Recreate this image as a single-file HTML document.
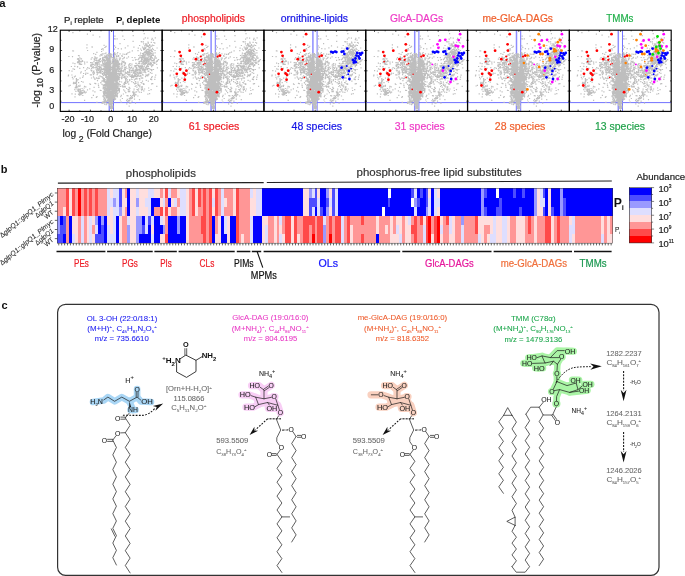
<!DOCTYPE html>
<html><head><meta charset="utf-8"><title>Figure</title>
<style>html,body{margin:0;padding:0;background:#fff}svg{display:block;will-change:transform}text{font-family:"Liberation Sans",sans-serif}</style></head><body>
<svg width="685" height="576" viewBox="0 0 685 576" font-family="Liberation Sans, sans-serif">
<rect width="685" height="576" fill="#fff"/>
<text x="-0.7" y="6.7" font-size="11.30" fill="#111" stroke="#111" stroke-width="0.00" font-weight="bold">a</text>
<text x="0.8" y="173.2" font-size="11.00" fill="#111" stroke="#111" stroke-width="0.00" font-weight="bold">b</text>
<text x="1.4" y="309.2" font-size="11.00" fill="#111" stroke="#111" stroke-width="0.00" font-weight="bold">c</text>
<defs>
<path id="gp" fill="#bebebe" d="M49.2 89.7h1.2v1.2h-1.2zM48.8 77.8h1.2v1.2h-1.2zM48.7 103.9h1.2v1.2h-1.2zM51.4 100.8h1.2v1.2h-1.2zM46.3 72.7h1.2v1.2h-1.2zM48.1 59.8h1.2v1.2h-1.2zM50.5 101.2h1.2v1.2h-1.2zM47.7 75.3h1.2v1.2h-1.2zM51.5 87.0h1.2v1.2h-1.2zM50.6 96.3h1.2v1.2h-1.2zM46.2 83.9h1.2v1.2h-1.2zM47.8 91.0h1.2v1.2h-1.2zM45.4 68.7h1.2v1.2h-1.2zM47.7 58.9h1.2v1.2h-1.2zM53.0 84.4h1.2v1.2h-1.2zM54.3 65.1h1.2v1.2h-1.2zM45.3 58.9h1.2v1.2h-1.2zM47.1 82.3h1.2v1.2h-1.2zM48.3 70.7h1.2v1.2h-1.2zM44.5 91.9h1.2v1.2h-1.2zM47.6 70.4h1.2v1.2h-1.2zM50.4 101.2h1.2v1.2h-1.2zM54.4 77.1h1.2v1.2h-1.2zM46.6 62.0h1.2v1.2h-1.2zM45.7 94.8h1.2v1.2h-1.2zM50.7 93.1h1.2v1.2h-1.2zM45.8 69.2h1.2v1.2h-1.2zM58.9 73.3h1.2v1.2h-1.2zM53.3 64.2h1.2v1.2h-1.2zM48.5 63.2h1.2v1.2h-1.2zM51.4 72.3h1.2v1.2h-1.2zM50.6 104.0h1.2v1.2h-1.2zM50.8 104.8h1.2v1.2h-1.2zM49.9 99.3h1.2v1.2h-1.2zM56.0 88.4h1.2v1.2h-1.2zM55.9 80.7h1.2v1.2h-1.2zM50.0 102.0h1.2v1.2h-1.2zM54.2 98.7h1.2v1.2h-1.2zM49.9 53.1h1.2v1.2h-1.2zM54.2 78.0h1.2v1.2h-1.2zM54.7 89.3h1.2v1.2h-1.2zM46.1 66.4h1.2v1.2h-1.2zM50.1 106.1h1.2v1.2h-1.2zM46.5 92.1h1.2v1.2h-1.2zM52.2 96.3h1.2v1.2h-1.2zM45.6 57.5h1.2v1.2h-1.2zM43.6 56.9h1.2v1.2h-1.2zM51.1 81.1h1.2v1.2h-1.2zM46.3 63.0h1.2v1.2h-1.2zM56.5 85.6h1.2v1.2h-1.2zM49.0 98.3h1.2v1.2h-1.2zM55.9 62.7h1.2v1.2h-1.2zM51.2 71.5h1.2v1.2h-1.2zM53.7 75.0h1.2v1.2h-1.2zM53.5 84.4h1.2v1.2h-1.2zM48.1 82.2h1.2v1.2h-1.2zM44.7 57.2h1.2v1.2h-1.2zM50.1 78.5h1.2v1.2h-1.2zM57.7 83.2h1.2v1.2h-1.2zM50.3 98.1h1.2v1.2h-1.2zM47.8 67.2h1.2v1.2h-1.2zM54.8 76.7h1.2v1.2h-1.2zM50.8 93.9h1.2v1.2h-1.2zM45.1 76.4h1.2v1.2h-1.2zM43.6 73.5h1.2v1.2h-1.2zM49.7 82.5h1.2v1.2h-1.2zM47.5 81.1h1.2v1.2h-1.2zM41.9 76.5h1.2v1.2h-1.2zM48.6 60.8h1.2v1.2h-1.2zM50.7 94.3h1.2v1.2h-1.2zM52.2 70.4h1.2v1.2h-1.2zM48.7 67.8h1.2v1.2h-1.2zM51.4 80.5h1.2v1.2h-1.2zM48.0 83.7h1.2v1.2h-1.2zM47.4 88.8h1.2v1.2h-1.2zM56.3 83.2h1.2v1.2h-1.2zM48.7 89.2h1.2v1.2h-1.2zM50.1 92.9h1.2v1.2h-1.2zM53.3 64.2h1.2v1.2h-1.2zM53.6 56.8h1.2v1.2h-1.2zM51.4 75.9h1.2v1.2h-1.2zM57.8 55.3h1.2v1.2h-1.2zM54.3 82.4h1.2v1.2h-1.2zM49.9 76.9h1.2v1.2h-1.2zM52.4 78.3h1.2v1.2h-1.2zM51.0 101.6h1.2v1.2h-1.2zM51.0 90.3h1.2v1.2h-1.2zM47.4 65.3h1.2v1.2h-1.2zM50.2 88.4h1.2v1.2h-1.2zM49.7 93.8h1.2v1.2h-1.2zM46.8 97.2h1.2v1.2h-1.2zM52.4 62.0h1.2v1.2h-1.2zM46.5 79.5h1.2v1.2h-1.2zM46.8 61.3h1.2v1.2h-1.2zM50.6 104.7h1.2v1.2h-1.2zM56.5 93.5h1.2v1.2h-1.2zM54.5 59.1h1.2v1.2h-1.2zM48.2 94.2h1.2v1.2h-1.2zM50.8 82.9h1.2v1.2h-1.2zM47.4 86.4h1.2v1.2h-1.2zM50.1 79.6h1.2v1.2h-1.2zM49.2 93.0h1.2v1.2h-1.2zM50.3 106.5h1.2v1.2h-1.2zM44.6 94.8h1.2v1.2h-1.2zM48.9 71.0h1.2v1.2h-1.2zM52.7 58.7h1.2v1.2h-1.2zM49.9 67.3h1.2v1.2h-1.2zM48.0 79.6h1.2v1.2h-1.2zM42.1 62.8h1.2v1.2h-1.2zM45.6 69.6h1.2v1.2h-1.2zM52.3 94.9h1.2v1.2h-1.2zM53.2 76.6h1.2v1.2h-1.2zM49.8 72.8h1.2v1.2h-1.2zM56.5 77.9h1.2v1.2h-1.2zM52.6 93.7h1.2v1.2h-1.2zM52.0 92.9h1.2v1.2h-1.2zM56.8 86.4h1.2v1.2h-1.2zM45.6 69.6h1.2v1.2h-1.2zM49.3 103.4h1.2v1.2h-1.2zM48.5 93.6h1.2v1.2h-1.2zM51.1 107.1h1.2v1.2h-1.2zM48.0 92.7h1.2v1.2h-1.2zM44.4 91.5h1.2v1.2h-1.2zM56.7 81.8h1.2v1.2h-1.2zM56.2 82.1h1.2v1.2h-1.2zM52.8 92.7h1.2v1.2h-1.2zM49.2 75.3h1.2v1.2h-1.2zM55.5 78.5h1.2v1.2h-1.2zM56.0 79.3h1.2v1.2h-1.2zM54.2 68.5h1.2v1.2h-1.2zM49.6 106.4h1.2v1.2h-1.2zM49.4 80.3h1.2v1.2h-1.2zM52.3 88.5h1.2v1.2h-1.2zM57.4 65.8h1.2v1.2h-1.2zM57.0 67.9h1.2v1.2h-1.2zM52.0 83.8h1.2v1.2h-1.2zM51.6 92.9h1.2v1.2h-1.2zM54.2 54.3h1.2v1.2h-1.2zM55.2 72.5h1.2v1.2h-1.2zM48.2 67.6h1.2v1.2h-1.2zM44.2 88.6h1.2v1.2h-1.2zM49.8 66.5h1.2v1.2h-1.2zM56.2 91.0h1.2v1.2h-1.2zM51.7 85.7h1.2v1.2h-1.2zM52.7 57.2h1.2v1.2h-1.2zM52.3 88.7h1.2v1.2h-1.2zM43.5 94.4h1.2v1.2h-1.2zM46.3 65.9h1.2v1.2h-1.2zM47.4 84.6h1.2v1.2h-1.2zM50.7 104.3h1.2v1.2h-1.2zM52.1 79.6h1.2v1.2h-1.2zM48.0 92.6h1.2v1.2h-1.2zM58.0 85.4h1.2v1.2h-1.2zM47.7 57.7h1.2v1.2h-1.2zM51.5 107.7h1.2v1.2h-1.2zM46.5 60.0h1.2v1.2h-1.2zM48.3 101.7h1.2v1.2h-1.2zM49.2 55.2h1.2v1.2h-1.2zM49.0 65.0h1.2v1.2h-1.2zM49.8 64.1h1.2v1.2h-1.2zM52.6 68.7h1.2v1.2h-1.2zM51.1 75.2h1.2v1.2h-1.2zM51.2 107.2h1.2v1.2h-1.2zM44.8 82.0h1.2v1.2h-1.2zM43.3 81.2h1.2v1.2h-1.2zM55.2 68.4h1.2v1.2h-1.2zM51.3 84.3h1.2v1.2h-1.2zM53.4 66.5h1.2v1.2h-1.2zM50.4 94.9h1.2v1.2h-1.2zM48.0 97.3h1.2v1.2h-1.2zM52.4 84.5h1.2v1.2h-1.2zM49.4 85.8h1.2v1.2h-1.2zM48.7 104.9h1.2v1.2h-1.2zM56.1 58.4h1.2v1.2h-1.2zM48.0 66.1h1.2v1.2h-1.2zM46.7 86.9h1.2v1.2h-1.2zM49.8 98.3h1.2v1.2h-1.2zM54.0 87.8h1.2v1.2h-1.2zM46.0 61.8h1.2v1.2h-1.2zM50.8 87.4h1.2v1.2h-1.2zM47.8 92.5h1.2v1.2h-1.2zM47.9 67.7h1.2v1.2h-1.2zM50.5 92.4h1.2v1.2h-1.2zM51.6 93.7h1.2v1.2h-1.2zM53.3 80.2h1.2v1.2h-1.2zM57.3 66.5h1.2v1.2h-1.2zM48.4 64.6h1.2v1.2h-1.2zM53.4 87.5h1.2v1.2h-1.2zM50.2 103.3h1.2v1.2h-1.2zM49.5 104.1h1.2v1.2h-1.2zM58.9 76.9h1.2v1.2h-1.2zM49.9 103.1h1.2v1.2h-1.2zM47.2 79.9h1.2v1.2h-1.2zM51.2 84.5h1.2v1.2h-1.2zM53.8 70.1h1.2v1.2h-1.2zM45.2 91.3h1.2v1.2h-1.2zM51.2 86.9h1.2v1.2h-1.2zM52.8 94.1h1.2v1.2h-1.2zM58.2 79.4h1.2v1.2h-1.2zM52.2 62.6h1.2v1.2h-1.2zM50.1 81.2h1.2v1.2h-1.2zM49.6 60.8h1.2v1.2h-1.2zM52.2 75.2h1.2v1.2h-1.2zM47.1 87.0h1.2v1.2h-1.2zM51.0 74.5h1.2v1.2h-1.2zM51.9 99.9h1.2v1.2h-1.2zM48.7 93.5h1.2v1.2h-1.2zM49.7 107.1h1.2v1.2h-1.2zM49.1 69.9h1.2v1.2h-1.2zM52.9 63.3h1.2v1.2h-1.2zM49.3 104.2h1.2v1.2h-1.2zM53.5 72.1h1.2v1.2h-1.2zM46.5 84.9h1.2v1.2h-1.2zM50.5 84.1h1.2v1.2h-1.2zM47.7 85.1h1.2v1.2h-1.2zM50.8 72.0h1.2v1.2h-1.2zM52.2 87.0h1.2v1.2h-1.2zM52.9 78.6h1.2v1.2h-1.2zM50.9 62.8h1.2v1.2h-1.2zM52.2 86.1h1.2v1.2h-1.2zM54.2 73.1h1.2v1.2h-1.2zM54.9 95.4h1.2v1.2h-1.2zM54.3 86.3h1.2v1.2h-1.2zM51.0 94.0h1.2v1.2h-1.2zM49.4 76.3h1.2v1.2h-1.2zM48.6 77.0h1.2v1.2h-1.2zM54.4 75.2h1.2v1.2h-1.2zM49.3 71.0h1.2v1.2h-1.2zM50.5 73.2h1.2v1.2h-1.2zM50.9 94.6h1.2v1.2h-1.2zM47.5 97.7h1.2v1.2h-1.2zM49.7 101.8h1.2v1.2h-1.2zM50.9 83.1h1.2v1.2h-1.2zM55.1 64.3h1.2v1.2h-1.2zM51.8 86.6h1.2v1.2h-1.2zM55.3 62.2h1.2v1.2h-1.2zM49.6 54.3h1.2v1.2h-1.2zM53.9 63.7h1.2v1.2h-1.2zM51.8 65.5h1.2v1.2h-1.2zM50.1 96.1h1.2v1.2h-1.2zM52.8 79.5h1.2v1.2h-1.2zM44.0 63.9h1.2v1.2h-1.2zM49.0 87.7h1.2v1.2h-1.2zM51.7 76.7h1.2v1.2h-1.2zM48.8 85.7h1.2v1.2h-1.2zM50.6 75.5h1.2v1.2h-1.2zM46.1 93.6h1.2v1.2h-1.2zM51.3 70.7h1.2v1.2h-1.2zM50.2 83.6h1.2v1.2h-1.2zM50.4 95.1h1.2v1.2h-1.2zM50.2 87.9h1.2v1.2h-1.2zM45.4 87.8h1.2v1.2h-1.2zM48.2 96.3h1.2v1.2h-1.2zM53.1 81.2h1.2v1.2h-1.2zM49.6 99.4h1.2v1.2h-1.2zM51.0 72.1h1.2v1.2h-1.2zM46.2 93.0h1.2v1.2h-1.2zM46.5 71.7h1.2v1.2h-1.2zM55.1 83.0h1.2v1.2h-1.2zM49.5 85.1h1.2v1.2h-1.2zM46.1 96.6h1.2v1.2h-1.2zM49.9 62.3h1.2v1.2h-1.2zM58.5 90.5h1.2v1.2h-1.2zM52.9 64.0h1.2v1.2h-1.2zM49.9 66.1h1.2v1.2h-1.2zM46.6 95.1h1.2v1.2h-1.2zM47.3 94.8h1.2v1.2h-1.2zM56.4 68.9h1.2v1.2h-1.2zM45.8 68.0h1.2v1.2h-1.2zM48.6 63.7h1.2v1.2h-1.2zM52.9 92.9h1.2v1.2h-1.2zM49.6 93.2h1.2v1.2h-1.2zM46.5 89.4h1.2v1.2h-1.2zM43.9 57.1h1.2v1.2h-1.2zM43.7 68.8h1.2v1.2h-1.2zM52.8 75.9h1.2v1.2h-1.2zM56.1 95.9h1.2v1.2h-1.2zM52.1 99.7h1.2v1.2h-1.2zM51.4 88.5h1.2v1.2h-1.2zM46.7 66.6h1.2v1.2h-1.2zM47.9 62.1h1.2v1.2h-1.2zM52.5 59.3h1.2v1.2h-1.2zM50.7 101.5h1.2v1.2h-1.2zM53.0 60.4h1.2v1.2h-1.2zM45.0 91.7h1.2v1.2h-1.2zM49.6 96.3h1.2v1.2h-1.2zM50.5 93.4h1.2v1.2h-1.2zM45.3 67.8h1.2v1.2h-1.2zM46.2 73.2h1.2v1.2h-1.2zM52.6 64.6h1.2v1.2h-1.2zM52.0 68.4h1.2v1.2h-1.2zM54.7 98.2h1.2v1.2h-1.2zM51.0 80.3h1.2v1.2h-1.2zM47.6 80.1h1.2v1.2h-1.2zM49.5 61.3h1.2v1.2h-1.2zM53.1 68.7h1.2v1.2h-1.2zM47.3 68.8h1.2v1.2h-1.2zM47.3 85.3h1.2v1.2h-1.2zM53.0 96.2h1.2v1.2h-1.2zM47.3 86.6h1.2v1.2h-1.2zM44.6 94.7h1.2v1.2h-1.2zM48.7 65.7h1.2v1.2h-1.2zM54.7 88.3h1.2v1.2h-1.2zM57.1 70.8h1.2v1.2h-1.2zM50.6 98.3h1.2v1.2h-1.2zM46.7 97.1h1.2v1.2h-1.2zM51.6 68.5h1.2v1.2h-1.2zM51.9 93.9h1.2v1.2h-1.2zM48.9 78.6h1.2v1.2h-1.2zM50.8 102.1h1.2v1.2h-1.2zM52.2 66.8h1.2v1.2h-1.2zM51.8 101.8h1.2v1.2h-1.2zM44.2 86.1h1.2v1.2h-1.2zM54.7 69.0h1.2v1.2h-1.2zM53.9 72.4h1.2v1.2h-1.2zM54.6 85.1h1.2v1.2h-1.2zM47.5 75.7h1.2v1.2h-1.2zM51.7 67.4h1.2v1.2h-1.2zM54.1 64.5h1.2v1.2h-1.2zM45.0 71.9h1.2v1.2h-1.2zM53.7 90.3h1.2v1.2h-1.2zM52.8 64.1h1.2v1.2h-1.2zM46.0 72.6h1.2v1.2h-1.2zM52.4 73.0h1.2v1.2h-1.2zM52.7 70.0h1.2v1.2h-1.2zM56.0 64.3h1.2v1.2h-1.2zM55.3 80.4h1.2v1.2h-1.2zM51.4 77.5h1.2v1.2h-1.2zM52.6 79.1h1.2v1.2h-1.2zM45.7 84.8h1.2v1.2h-1.2zM46.2 96.0h1.2v1.2h-1.2zM54.6 87.9h1.2v1.2h-1.2zM54.4 92.4h1.2v1.2h-1.2zM50.5 84.3h1.2v1.2h-1.2zM51.3 88.1h1.2v1.2h-1.2zM57.0 85.9h1.2v1.2h-1.2zM44.6 62.5h1.2v1.2h-1.2zM51.2 88.0h1.2v1.2h-1.2zM48.6 62.0h1.2v1.2h-1.2zM55.2 87.9h1.2v1.2h-1.2zM50.1 92.8h1.2v1.2h-1.2zM52.9 97.4h1.2v1.2h-1.2zM53.7 83.8h1.2v1.2h-1.2zM57.8 70.9h1.2v1.2h-1.2zM46.4 57.2h1.2v1.2h-1.2zM50.4 99.8h1.2v1.2h-1.2zM46.2 63.5h1.2v1.2h-1.2zM45.6 58.0h1.2v1.2h-1.2zM42.1 63.7h1.2v1.2h-1.2zM42.0 78.1h1.2v1.2h-1.2zM53.5 76.8h1.2v1.2h-1.2zM49.0 94.7h1.2v1.2h-1.2zM50.2 81.7h1.2v1.2h-1.2zM42.0 80.3h1.2v1.2h-1.2zM48.1 81.6h1.2v1.2h-1.2zM47.0 70.6h1.2v1.2h-1.2zM53.3 72.2h1.2v1.2h-1.2zM44.2 69.6h1.2v1.2h-1.2zM45.6 67.6h1.2v1.2h-1.2zM57.2 87.3h1.2v1.2h-1.2zM51.3 78.4h1.2v1.2h-1.2zM54.5 84.2h1.2v1.2h-1.2zM45.9 61.6h1.2v1.2h-1.2zM52.9 92.6h1.2v1.2h-1.2zM48.7 63.5h1.2v1.2h-1.2zM53.5 75.0h1.2v1.2h-1.2zM48.6 64.0h1.2v1.2h-1.2zM53.6 91.0h1.2v1.2h-1.2zM45.5 63.7h1.2v1.2h-1.2zM46.3 72.7h1.2v1.2h-1.2zM51.7 74.4h1.2v1.2h-1.2zM56.2 82.2h1.2v1.2h-1.2zM52.0 102.1h1.2v1.2h-1.2zM53.7 90.0h1.2v1.2h-1.2zM55.4 71.9h1.2v1.2h-1.2zM50.5 105.6h1.2v1.2h-1.2zM54.3 62.5h1.2v1.2h-1.2zM49.7 107.0h1.2v1.2h-1.2zM55.0 74.7h1.2v1.2h-1.2zM49.6 84.7h1.2v1.2h-1.2zM50.6 71.8h1.2v1.2h-1.2zM50.4 100.6h1.2v1.2h-1.2zM49.9 67.6h1.2v1.2h-1.2zM47.4 67.9h1.2v1.2h-1.2zM45.4 67.0h1.2v1.2h-1.2zM45.4 82.0h1.2v1.2h-1.2zM56.5 67.7h1.2v1.2h-1.2zM53.4 67.0h1.2v1.2h-1.2zM49.4 104.4h1.2v1.2h-1.2zM49.1 75.6h1.2v1.2h-1.2zM48.0 63.2h1.2v1.2h-1.2zM46.5 71.7h1.2v1.2h-1.2zM52.3 63.8h1.2v1.2h-1.2zM49.8 63.9h1.2v1.2h-1.2zM51.7 61.5h1.2v1.2h-1.2zM41.9 61.3h1.2v1.2h-1.2zM54.0 86.7h1.2v1.2h-1.2zM51.4 74.1h1.2v1.2h-1.2zM49.6 107.7h1.2v1.2h-1.2zM53.7 84.2h1.2v1.2h-1.2zM41.8 62.4h1.2v1.2h-1.2zM54.8 75.8h1.2v1.2h-1.2zM43.8 69.5h1.2v1.2h-1.2zM43.2 88.4h1.2v1.2h-1.2zM47.6 73.9h1.2v1.2h-1.2zM50.0 81.8h1.2v1.2h-1.2zM57.5 63.5h1.2v1.2h-1.2zM42.0 64.6h1.2v1.2h-1.2zM45.6 58.3h1.2v1.2h-1.2zM51.1 74.8h1.2v1.2h-1.2zM52.7 68.6h1.2v1.2h-1.2zM47.8 76.2h1.2v1.2h-1.2zM49.9 86.9h1.2v1.2h-1.2zM53.4 72.4h1.2v1.2h-1.2zM54.8 88.5h1.2v1.2h-1.2zM51.8 106.6h1.2v1.2h-1.2zM49.7 80.6h1.2v1.2h-1.2zM54.9 64.9h1.2v1.2h-1.2zM50.3 105.6h1.2v1.2h-1.2zM51.8 59.1h1.2v1.2h-1.2zM53.3 85.6h1.2v1.2h-1.2zM49.3 76.2h1.2v1.2h-1.2zM56.0 85.8h1.2v1.2h-1.2zM52.0 105.6h1.2v1.2h-1.2zM56.7 88.1h1.2v1.2h-1.2zM45.5 68.1h1.2v1.2h-1.2zM43.9 55.3h1.2v1.2h-1.2zM49.1 101.9h1.2v1.2h-1.2zM47.9 93.4h1.2v1.2h-1.2zM50.4 94.4h1.2v1.2h-1.2zM49.6 69.9h1.2v1.2h-1.2zM47.3 59.3h1.2v1.2h-1.2zM57.5 82.8h1.2v1.2h-1.2zM46.6 72.7h1.2v1.2h-1.2zM44.4 88.8h1.2v1.2h-1.2zM50.5 99.8h1.2v1.2h-1.2zM52.5 76.8h1.2v1.2h-1.2zM47.8 84.8h1.2v1.2h-1.2zM48.9 92.6h1.2v1.2h-1.2zM52.4 80.3h1.2v1.2h-1.2zM46.6 57.8h1.2v1.2h-1.2zM50.6 93.4h1.2v1.2h-1.2zM50.1 102.3h1.2v1.2h-1.2zM50.1 88.7h1.2v1.2h-1.2zM52.9 95.6h1.2v1.2h-1.2zM50.5 100.0h1.2v1.2h-1.2zM45.8 96.8h1.2v1.2h-1.2zM51.8 80.1h1.2v1.2h-1.2zM55.9 68.2h1.2v1.2h-1.2zM56.5 75.2h1.2v1.2h-1.2zM52.9 85.0h1.2v1.2h-1.2zM53.4 89.0h1.2v1.2h-1.2zM46.5 81.1h1.2v1.2h-1.2zM52.0 92.9h1.2v1.2h-1.2zM48.3 98.6h1.2v1.2h-1.2zM45.5 74.5h1.2v1.2h-1.2zM49.6 79.0h1.2v1.2h-1.2zM52.7 67.8h1.2v1.2h-1.2zM47.3 68.0h1.2v1.2h-1.2zM57.7 65.8h1.2v1.2h-1.2zM42.6 80.1h1.2v1.2h-1.2zM51.3 95.3h1.2v1.2h-1.2zM50.3 102.0h1.2v1.2h-1.2zM49.6 96.9h1.2v1.2h-1.2zM43.6 74.3h1.2v1.2h-1.2zM49.2 67.7h1.2v1.2h-1.2zM53.3 79.8h1.2v1.2h-1.2zM53.2 75.8h1.2v1.2h-1.2zM46.0 84.3h1.2v1.2h-1.2zM49.5 55.2h1.2v1.2h-1.2zM55.0 62.8h1.2v1.2h-1.2zM55.2 62.2h1.2v1.2h-1.2zM48.6 72.4h1.2v1.2h-1.2zM49.9 83.6h1.2v1.2h-1.2zM51.5 106.6h1.2v1.2h-1.2zM48.7 55.4h1.2v1.2h-1.2zM48.0 58.4h1.2v1.2h-1.2zM47.5 69.9h1.2v1.2h-1.2zM47.8 77.5h1.2v1.2h-1.2zM47.9 78.7h1.2v1.2h-1.2zM54.2 90.7h1.2v1.2h-1.2zM53.9 92.8h1.2v1.2h-1.2zM51.8 77.9h1.2v1.2h-1.2zM51.7 91.4h1.2v1.2h-1.2zM54.6 91.7h1.2v1.2h-1.2zM53.1 60.9h1.2v1.2h-1.2zM49.0 71.4h1.2v1.2h-1.2zM45.6 77.1h1.2v1.2h-1.2zM50.3 81.6h1.2v1.2h-1.2zM53.2 79.1h1.2v1.2h-1.2zM45.0 75.0h1.2v1.2h-1.2zM55.7 94.4h1.2v1.2h-1.2zM53.7 80.3h1.2v1.2h-1.2zM49.9 64.6h1.2v1.2h-1.2zM46.7 83.2h1.2v1.2h-1.2zM53.2 66.7h1.2v1.2h-1.2zM48.1 66.5h1.2v1.2h-1.2zM53.6 70.0h1.2v1.2h-1.2zM49.7 60.3h1.2v1.2h-1.2zM43.0 65.3h1.2v1.2h-1.2zM52.1 63.9h1.2v1.2h-1.2zM49.0 65.0h1.2v1.2h-1.2zM46.2 79.9h1.2v1.2h-1.2zM48.2 64.0h1.2v1.2h-1.2zM45.6 73.8h1.2v1.2h-1.2zM51.6 67.4h1.2v1.2h-1.2zM47.4 85.9h1.2v1.2h-1.2zM52.7 63.8h1.2v1.2h-1.2zM51.6 79.9h1.2v1.2h-1.2zM53.5 75.3h1.2v1.2h-1.2zM51.5 60.6h1.2v1.2h-1.2zM51.0 107.2h1.2v1.2h-1.2zM56.6 76.2h1.2v1.2h-1.2zM46.6 77.7h1.2v1.2h-1.2zM48.5 78.9h1.2v1.2h-1.2zM46.4 87.8h1.2v1.2h-1.2zM47.9 88.1h1.2v1.2h-1.2zM49.0 102.2h1.2v1.2h-1.2zM42.5 85.4h1.2v1.2h-1.2zM46.3 83.2h1.2v1.2h-1.2zM51.9 78.1h1.2v1.2h-1.2zM53.6 53.1h1.2v1.2h-1.2zM49.6 84.2h1.2v1.2h-1.2zM47.5 91.6h1.2v1.2h-1.2zM50.1 74.1h1.2v1.2h-1.2zM49.8 60.7h1.2v1.2h-1.2zM48.1 96.8h1.2v1.2h-1.2zM49.1 71.6h1.2v1.2h-1.2zM54.1 84.8h1.2v1.2h-1.2zM51.8 101.8h1.2v1.2h-1.2zM51.6 98.2h1.2v1.2h-1.2zM44.7 62.7h1.2v1.2h-1.2zM48.6 89.7h1.2v1.2h-1.2zM52.1 92.9h1.2v1.2h-1.2zM46.0 57.3h1.2v1.2h-1.2zM51.5 75.2h1.2v1.2h-1.2zM50.2 83.2h1.2v1.2h-1.2zM43.7 80.1h1.2v1.2h-1.2zM49.7 94.2h1.2v1.2h-1.2zM47.3 90.5h1.2v1.2h-1.2zM50.3 80.7h1.2v1.2h-1.2zM52.7 87.7h1.2v1.2h-1.2zM46.0 76.4h1.2v1.2h-1.2zM49.3 85.2h1.2v1.2h-1.2zM51.4 88.1h1.2v1.2h-1.2zM52.8 94.5h1.2v1.2h-1.2zM53.9 70.7h1.2v1.2h-1.2zM51.4 102.6h1.2v1.2h-1.2zM54.3 61.1h1.2v1.2h-1.2zM46.9 98.9h1.2v1.2h-1.2zM53.0 67.4h1.2v1.2h-1.2zM49.6 95.1h1.2v1.2h-1.2zM47.0 93.2h1.2v1.2h-1.2zM48.3 94.0h1.2v1.2h-1.2zM50.7 77.4h1.2v1.2h-1.2zM46.0 71.0h1.2v1.2h-1.2zM52.4 90.4h1.2v1.2h-1.2zM46.6 76.4h1.2v1.2h-1.2zM50.2 104.1h1.2v1.2h-1.2zM49.6 95.1h1.2v1.2h-1.2zM46.8 85.2h1.2v1.2h-1.2zM48.4 70.7h1.2v1.2h-1.2zM49.2 84.7h1.2v1.2h-1.2zM47.0 60.5h1.2v1.2h-1.2zM53.6 97.6h1.2v1.2h-1.2zM46.5 68.0h1.2v1.2h-1.2zM50.4 105.5h1.2v1.2h-1.2zM53.5 86.5h1.2v1.2h-1.2zM53.6 90.4h1.2v1.2h-1.2zM57.6 75.9h1.2v1.2h-1.2zM48.8 93.5h1.2v1.2h-1.2zM46.5 64.4h1.2v1.2h-1.2zM50.2 73.8h1.2v1.2h-1.2zM52.3 63.5h1.2v1.2h-1.2zM48.7 56.7h1.2v1.2h-1.2zM46.1 66.0h1.2v1.2h-1.2zM54.3 92.0h1.2v1.2h-1.2zM48.6 55.8h1.2v1.2h-1.2zM56.6 61.4h1.2v1.2h-1.2zM52.3 83.8h1.2v1.2h-1.2zM47.9 65.2h1.2v1.2h-1.2zM43.4 93.2h1.2v1.2h-1.2zM53.9 77.4h1.2v1.2h-1.2zM51.6 84.8h1.2v1.2h-1.2zM48.5 90.4h1.2v1.2h-1.2zM45.2 94.5h1.2v1.2h-1.2zM53.8 79.0h1.2v1.2h-1.2zM48.7 91.0h1.2v1.2h-1.2zM43.5 89.1h1.2v1.2h-1.2zM48.0 74.3h1.2v1.2h-1.2zM52.9 65.0h1.2v1.2h-1.2zM52.4 87.6h1.2v1.2h-1.2zM50.6 104.4h1.2v1.2h-1.2zM56.4 82.7h1.2v1.2h-1.2zM48.5 89.6h1.2v1.2h-1.2zM50.6 103.7h1.2v1.2h-1.2zM49.6 83.5h1.2v1.2h-1.2zM50.0 56.4h1.2v1.2h-1.2zM52.6 64.5h1.2v1.2h-1.2zM45.0 91.2h1.2v1.2h-1.2zM43.7 63.9h1.2v1.2h-1.2zM53.4 66.3h1.2v1.2h-1.2zM57.3 89.9h1.2v1.2h-1.2zM51.7 77.0h1.2v1.2h-1.2zM47.4 72.7h1.2v1.2h-1.2zM54.9 68.3h1.2v1.2h-1.2zM48.5 79.9h1.2v1.2h-1.2zM55.7 91.0h1.2v1.2h-1.2zM51.8 98.6h1.2v1.2h-1.2zM48.8 60.0h1.2v1.2h-1.2zM56.3 79.0h1.2v1.2h-1.2zM46.3 88.8h1.2v1.2h-1.2zM43.5 91.2h1.2v1.2h-1.2zM50.8 76.3h1.2v1.2h-1.2zM51.8 89.7h1.2v1.2h-1.2zM48.4 73.1h1.2v1.2h-1.2zM45.7 80.9h1.2v1.2h-1.2zM50.9 91.0h1.2v1.2h-1.2zM49.5 82.8h1.2v1.2h-1.2zM46.3 70.9h1.2v1.2h-1.2zM48.0 78.2h1.2v1.2h-1.2zM53.9 85.6h1.2v1.2h-1.2zM58.3 77.1h1.2v1.2h-1.2zM46.9 59.6h1.2v1.2h-1.2zM49.6 80.4h1.2v1.2h-1.2zM53.2 95.1h1.2v1.2h-1.2zM53.5 74.9h1.2v1.2h-1.2zM42.4 85.0h1.2v1.2h-1.2zM53.3 77.0h1.2v1.2h-1.2zM57.1 65.5h1.2v1.2h-1.2zM49.8 85.9h1.2v1.2h-1.2zM48.8 87.0h1.2v1.2h-1.2zM48.1 74.6h1.2v1.2h-1.2zM56.4 84.0h1.2v1.2h-1.2zM46.4 66.1h1.2v1.2h-1.2zM48.2 66.6h1.2v1.2h-1.2zM48.6 67.4h1.2v1.2h-1.2zM49.0 77.1h1.2v1.2h-1.2zM51.8 70.0h1.2v1.2h-1.2zM54.7 60.9h1.2v1.2h-1.2zM50.3 106.6h1.2v1.2h-1.2zM47.6 76.8h1.2v1.2h-1.2zM55.6 69.4h1.2v1.2h-1.2zM57.0 77.7h1.2v1.2h-1.2zM54.2 62.6h1.2v1.2h-1.2zM47.6 62.0h1.2v1.2h-1.2zM50.6 103.5h1.2v1.2h-1.2zM59.0 74.8h1.2v1.2h-1.2zM47.2 98.3h1.2v1.2h-1.2zM51.3 86.1h1.2v1.2h-1.2zM50.8 105.2h1.2v1.2h-1.2zM49.4 70.3h1.2v1.2h-1.2zM54.7 93.1h1.2v1.2h-1.2zM51.3 78.3h1.2v1.2h-1.2zM50.1 76.4h1.2v1.2h-1.2zM47.4 59.0h1.2v1.2h-1.2zM47.2 92.0h1.2v1.2h-1.2zM47.7 59.0h1.2v1.2h-1.2zM57.2 66.4h1.2v1.2h-1.2zM46.0 72.3h1.2v1.2h-1.2zM49.9 104.4h1.2v1.2h-1.2zM46.2 89.7h1.2v1.2h-1.2zM50.6 94.2h1.2v1.2h-1.2zM58.6 88.2h1.2v1.2h-1.2zM50.6 82.4h1.2v1.2h-1.2zM50.9 76.0h1.2v1.2h-1.2zM51.5 90.9h1.2v1.2h-1.2zM53.8 67.2h1.2v1.2h-1.2zM48.6 56.3h1.2v1.2h-1.2zM52.5 97.8h1.2v1.2h-1.2zM49.8 64.5h1.2v1.2h-1.2zM49.6 80.7h1.2v1.2h-1.2zM50.8 106.5h1.2v1.2h-1.2zM51.0 92.8h1.2v1.2h-1.2zM53.0 96.6h1.2v1.2h-1.2zM49.0 59.5h1.2v1.2h-1.2zM48.9 62.5h1.2v1.2h-1.2zM51.4 97.2h1.2v1.2h-1.2zM53.9 71.5h1.2v1.2h-1.2zM54.4 69.8h1.2v1.2h-1.2zM51.7 89.1h1.2v1.2h-1.2zM49.5 74.4h1.2v1.2h-1.2zM49.3 73.5h1.2v1.2h-1.2zM51.0 99.0h1.2v1.2h-1.2zM52.0 64.9h1.2v1.2h-1.2zM46.1 77.7h1.2v1.2h-1.2zM47.1 76.8h1.2v1.2h-1.2zM47.8 66.4h1.2v1.2h-1.2zM46.7 92.2h1.2v1.2h-1.2zM41.7 71.1h1.2v1.2h-1.2zM50.4 102.7h1.2v1.2h-1.2zM51.3 79.7h1.2v1.2h-1.2zM53.2 87.3h1.2v1.2h-1.2zM56.4 79.9h1.2v1.2h-1.2zM46.6 88.5h1.2v1.2h-1.2zM55.2 85.3h1.2v1.2h-1.2zM52.2 84.9h1.2v1.2h-1.2zM52.8 94.8h1.2v1.2h-1.2zM46.0 65.4h1.2v1.2h-1.2zM47.1 80.6h1.2v1.2h-1.2zM42.4 74.4h1.2v1.2h-1.2zM46.0 87.6h1.2v1.2h-1.2zM52.3 59.5h1.2v1.2h-1.2zM50.2 102.3h1.2v1.2h-1.2zM45.0 69.6h1.2v1.2h-1.2zM58.4 67.7h1.2v1.2h-1.2zM49.8 94.6h1.2v1.2h-1.2zM49.1 79.6h1.2v1.2h-1.2zM51.8 90.1h1.2v1.2h-1.2zM47.2 79.8h1.2v1.2h-1.2zM54.3 58.4h1.2v1.2h-1.2zM50.8 97.9h1.2v1.2h-1.2zM50.7 79.3h1.2v1.2h-1.2zM56.7 76.7h1.2v1.2h-1.2zM55.0 69.2h1.2v1.2h-1.2zM45.4 85.5h1.2v1.2h-1.2zM47.0 84.3h1.2v1.2h-1.2zM52.9 84.9h1.2v1.2h-1.2zM50.0 73.8h1.2v1.2h-1.2zM55.9 86.7h1.2v1.2h-1.2zM52.9 96.7h1.2v1.2h-1.2zM43.8 69.0h1.2v1.2h-1.2zM45.6 71.7h1.2v1.2h-1.2zM45.3 72.6h1.2v1.2h-1.2zM54.7 85.8h1.2v1.2h-1.2zM47.5 73.5h1.2v1.2h-1.2zM55.6 77.4h1.2v1.2h-1.2zM54.3 73.5h1.2v1.2h-1.2zM47.5 67.5h1.2v1.2h-1.2zM56.2 81.1h1.2v1.2h-1.2zM57.8 78.2h1.2v1.2h-1.2zM50.4 78.3h1.2v1.2h-1.2zM52.9 61.8h1.2v1.2h-1.2zM54.3 61.5h1.2v1.2h-1.2zM46.0 93.7h1.2v1.2h-1.2zM56.2 78.6h1.2v1.2h-1.2zM51.6 102.8h1.2v1.2h-1.2zM50.0 82.7h1.2v1.2h-1.2zM54.1 63.2h1.2v1.2h-1.2zM55.3 87.3h1.2v1.2h-1.2zM48.3 94.5h1.2v1.2h-1.2zM50.8 106.8h1.2v1.2h-1.2zM53.1 75.9h1.2v1.2h-1.2zM56.1 92.4h1.2v1.2h-1.2zM54.4 94.2h1.2v1.2h-1.2zM53.6 59.8h1.2v1.2h-1.2zM49.3 63.5h1.2v1.2h-1.2zM51.1 83.0h1.2v1.2h-1.2zM44.9 68.0h1.2v1.2h-1.2zM53.6 62.5h1.2v1.2h-1.2zM52.6 86.2h1.2v1.2h-1.2zM48.9 87.0h1.2v1.2h-1.2zM50.3 89.4h1.2v1.2h-1.2zM46.0 78.4h1.2v1.2h-1.2zM46.0 57.4h1.2v1.2h-1.2zM47.6 81.9h1.2v1.2h-1.2zM53.7 84.6h1.2v1.2h-1.2zM47.3 80.3h1.2v1.2h-1.2zM49.1 61.7h1.2v1.2h-1.2zM50.6 102.1h1.2v1.2h-1.2zM56.4 65.7h1.2v1.2h-1.2zM52.4 68.0h1.2v1.2h-1.2zM57.9 84.4h1.2v1.2h-1.2zM50.1 89.1h1.2v1.2h-1.2zM48.9 92.4h1.2v1.2h-1.2zM53.3 59.8h1.2v1.2h-1.2zM47.3 84.3h1.2v1.2h-1.2zM58.5 63.0h1.2v1.2h-1.2zM54.7 93.4h1.2v1.2h-1.2zM51.8 86.9h1.2v1.2h-1.2zM45.1 80.4h1.2v1.2h-1.2zM55.9 76.7h1.2v1.2h-1.2zM45.7 90.2h1.2v1.2h-1.2zM53.1 89.7h1.2v1.2h-1.2zM48.2 63.3h1.2v1.2h-1.2zM42.7 74.7h1.2v1.2h-1.2zM58.2 83.5h1.2v1.2h-1.2zM52.7 76.4h1.2v1.2h-1.2zM48.6 79.9h1.2v1.2h-1.2zM48.0 96.2h1.2v1.2h-1.2zM55.6 71.0h1.2v1.2h-1.2zM48.4 99.1h1.2v1.2h-1.2zM52.0 68.9h1.2v1.2h-1.2zM47.7 94.8h1.2v1.2h-1.2zM55.4 90.0h1.2v1.2h-1.2zM57.7 89.6h1.2v1.2h-1.2zM49.8 105.9h1.2v1.2h-1.2zM47.8 77.3h1.2v1.2h-1.2zM44.4 81.8h1.2v1.2h-1.2zM53.1 52.1h1.2v1.2h-1.2zM50.2 91.5h1.2v1.2h-1.2zM45.2 80.7h1.2v1.2h-1.2zM52.2 74.4h1.2v1.2h-1.2zM51.3 92.6h1.2v1.2h-1.2zM56.0 60.5h1.2v1.2h-1.2zM50.0 82.6h1.2v1.2h-1.2zM47.4 63.8h1.2v1.2h-1.2zM49.1 63.7h1.2v1.2h-1.2zM50.4 79.1h1.2v1.2h-1.2zM46.6 71.6h1.2v1.2h-1.2zM48.3 86.8h1.2v1.2h-1.2zM52.0 98.6h1.2v1.2h-1.2zM48.7 60.7h1.2v1.2h-1.2zM50.9 99.4h1.2v1.2h-1.2zM48.7 80.0h1.2v1.2h-1.2zM51.6 79.4h1.2v1.2h-1.2zM52.9 96.4h1.2v1.2h-1.2zM51.1 80.5h1.2v1.2h-1.2zM51.1 75.9h1.2v1.2h-1.2zM53.5 99.2h1.2v1.2h-1.2zM49.5 106.0h1.2v1.2h-1.2zM49.8 75.4h1.2v1.2h-1.2zM49.8 74.5h1.2v1.2h-1.2zM48.9 94.0h1.2v1.2h-1.2zM51.7 73.2h1.2v1.2h-1.2zM46.5 62.5h1.2v1.2h-1.2zM50.4 85.0h1.2v1.2h-1.2zM57.2 69.8h1.2v1.2h-1.2zM51.1 88.5h1.2v1.2h-1.2zM52.9 89.3h1.2v1.2h-1.2zM51.9 81.0h1.2v1.2h-1.2zM53.0 96.6h1.2v1.2h-1.2zM44.1 88.2h1.2v1.2h-1.2zM55.0 66.1h1.2v1.2h-1.2zM42.6 63.0h1.2v1.2h-1.2zM53.4 63.9h1.2v1.2h-1.2zM48.1 63.8h1.2v1.2h-1.2zM47.0 60.9h1.2v1.2h-1.2zM51.0 80.2h1.2v1.2h-1.2zM44.3 69.5h1.2v1.2h-1.2zM55.0 63.4h1.2v1.2h-1.2zM55.7 55.2h1.2v1.2h-1.2zM53.5 61.0h1.2v1.2h-1.2zM49.4 61.0h1.2v1.2h-1.2zM50.2 84.4h1.2v1.2h-1.2zM51.1 82.2h1.2v1.2h-1.2zM54.2 60.6h1.2v1.2h-1.2zM49.9 102.8h1.2v1.2h-1.2zM45.7 70.8h1.2v1.2h-1.2zM52.5 97.5h1.2v1.2h-1.2zM49.1 73.7h1.2v1.2h-1.2zM55.0 85.7h1.2v1.2h-1.2zM48.7 61.4h1.2v1.2h-1.2zM51.0 107.7h1.2v1.2h-1.2zM48.5 62.5h1.2v1.2h-1.2zM42.3 88.1h1.2v1.2h-1.2zM47.4 79.1h1.2v1.2h-1.2zM55.7 55.9h1.2v1.2h-1.2zM52.9 82.9h1.2v1.2h-1.2zM47.4 87.5h1.2v1.2h-1.2zM47.1 78.6h1.2v1.2h-1.2zM49.9 69.6h1.2v1.2h-1.2zM55.4 82.7h1.2v1.2h-1.2zM45.7 65.9h1.2v1.2h-1.2zM58.5 89.6h1.2v1.2h-1.2zM47.5 75.5h1.2v1.2h-1.2zM48.0 85.8h1.2v1.2h-1.2zM47.4 65.2h1.2v1.2h-1.2zM56.3 77.4h1.2v1.2h-1.2zM49.3 62.8h1.2v1.2h-1.2zM48.6 86.5h1.2v1.2h-1.2zM44.1 92.3h1.2v1.2h-1.2zM51.2 75.6h1.2v1.2h-1.2zM46.3 66.5h1.2v1.2h-1.2zM49.0 90.3h1.2v1.2h-1.2zM54.4 53.7h1.2v1.2h-1.2zM51.4 90.5h1.2v1.2h-1.2zM53.7 83.3h1.2v1.2h-1.2zM42.7 93.2h1.2v1.2h-1.2zM56.9 92.8h1.2v1.2h-1.2zM45.1 57.0h1.2v1.2h-1.2zM44.7 90.2h1.2v1.2h-1.2zM44.1 65.5h1.2v1.2h-1.2zM47.8 65.7h1.2v1.2h-1.2zM46.8 87.5h1.2v1.2h-1.2zM49.5 72.6h1.2v1.2h-1.2zM52.8 64.7h1.2v1.2h-1.2zM45.4 88.0h1.2v1.2h-1.2zM54.7 92.9h1.2v1.2h-1.2zM52.5 65.7h1.2v1.2h-1.2zM52.9 84.7h1.2v1.2h-1.2zM52.5 71.7h1.2v1.2h-1.2zM50.8 72.3h1.2v1.2h-1.2zM45.8 55.2h1.2v1.2h-1.2zM48.6 85.8h1.2v1.2h-1.2zM46.0 88.8h1.2v1.2h-1.2zM52.9 60.2h1.2v1.2h-1.2zM49.0 85.2h1.2v1.2h-1.2zM58.5 63.7h1.2v1.2h-1.2zM57.7 65.6h1.2v1.2h-1.2zM44.6 66.3h1.2v1.2h-1.2zM54.7 71.5h1.2v1.2h-1.2zM55.1 68.4h1.2v1.2h-1.2zM44.0 92.4h1.2v1.2h-1.2zM45.5 92.5h1.2v1.2h-1.2zM46.2 95.2h1.2v1.2h-1.2zM52.2 68.7h1.2v1.2h-1.2zM48.9 100.0h1.2v1.2h-1.2zM57.9 76.8h1.2v1.2h-1.2zM50.7 101.6h1.2v1.2h-1.2zM47.4 72.6h1.2v1.2h-1.2zM55.1 62.6h1.2v1.2h-1.2zM45.6 84.1h1.2v1.2h-1.2zM45.2 75.1h1.2v1.2h-1.2zM51.4 79.2h1.2v1.2h-1.2zM58.6 81.1h1.2v1.2h-1.2zM49.0 82.4h1.2v1.2h-1.2zM45.7 88.7h1.2v1.2h-1.2zM52.5 85.3h1.2v1.2h-1.2zM56.7 78.9h1.2v1.2h-1.2zM46.2 96.8h1.2v1.2h-1.2zM47.6 54.8h1.2v1.2h-1.2zM53.6 98.0h1.2v1.2h-1.2zM45.7 82.3h1.2v1.2h-1.2zM50.4 101.8h1.2v1.2h-1.2zM45.2 52.4h1.2v1.2h-1.2zM51.6 81.2h1.2v1.2h-1.2zM51.6 76.3h1.2v1.2h-1.2zM51.4 68.1h1.2v1.2h-1.2zM44.4 83.4h1.2v1.2h-1.2zM55.5 60.8h1.2v1.2h-1.2zM49.9 95.8h1.2v1.2h-1.2zM47.4 58.1h1.2v1.2h-1.2zM55.7 58.3h1.2v1.2h-1.2zM52.6 96.3h1.2v1.2h-1.2zM49.3 100.7h1.2v1.2h-1.2zM45.8 82.3h1.2v1.2h-1.2zM45.2 83.2h1.2v1.2h-1.2zM45.8 67.3h1.2v1.2h-1.2zM47.8 71.5h1.2v1.2h-1.2zM52.8 85.8h1.2v1.2h-1.2zM44.6 66.3h1.2v1.2h-1.2zM53.3 62.9h1.2v1.2h-1.2zM50.2 99.2h1.2v1.2h-1.2zM49.2 98.7h1.2v1.2h-1.2zM53.5 58.1h1.2v1.2h-1.2zM45.7 61.9h1.2v1.2h-1.2zM51.4 74.5h1.2v1.2h-1.2zM50.8 77.3h1.2v1.2h-1.2zM50.1 85.6h1.2v1.2h-1.2zM49.2 61.4h1.2v1.2h-1.2zM56.4 96.2h1.2v1.2h-1.2zM57.6 77.3h1.2v1.2h-1.2zM47.6 60.3h1.2v1.2h-1.2zM52.9 65.2h1.2v1.2h-1.2zM50.2 73.9h1.2v1.2h-1.2zM50.1 103.6h1.2v1.2h-1.2zM45.4 69.1h1.2v1.2h-1.2zM49.6 85.0h1.2v1.2h-1.2zM49.3 71.5h1.2v1.2h-1.2zM42.3 56.8h1.2v1.2h-1.2zM54.7 60.3h1.2v1.2h-1.2zM48.2 93.6h1.2v1.2h-1.2zM53.4 55.7h1.2v1.2h-1.2zM49.4 92.4h1.2v1.2h-1.2zM56.7 63.4h1.2v1.2h-1.2zM54.9 90.2h1.2v1.2h-1.2zM52.6 87.2h1.2v1.2h-1.2zM49.6 78.1h1.2v1.2h-1.2zM42.3 77.7h1.2v1.2h-1.2zM55.4 69.2h1.2v1.2h-1.2zM49.7 102.7h1.2v1.2h-1.2zM51.8 107.0h1.2v1.2h-1.2zM52.3 67.8h1.2v1.2h-1.2zM54.3 69.4h1.2v1.2h-1.2zM53.5 69.2h1.2v1.2h-1.2zM46.9 71.8h1.2v1.2h-1.2zM45.3 68.9h1.2v1.2h-1.2zM51.0 104.2h1.2v1.2h-1.2zM50.3 99.8h1.2v1.2h-1.2zM48.9 80.2h1.2v1.2h-1.2zM46.9 64.8h1.2v1.2h-1.2zM48.8 102.2h1.2v1.2h-1.2zM53.7 82.9h1.2v1.2h-1.2zM57.8 88.6h1.2v1.2h-1.2zM50.6 107.2h1.2v1.2h-1.2zM48.7 70.9h1.2v1.2h-1.2zM51.4 70.8h1.2v1.2h-1.2zM51.7 71.3h1.2v1.2h-1.2zM56.5 95.3h1.2v1.2h-1.2zM50.9 87.4h1.2v1.2h-1.2zM48.4 93.7h1.2v1.2h-1.2zM49.9 93.9h1.2v1.2h-1.2zM50.4 91.8h1.2v1.2h-1.2zM48.2 96.9h1.2v1.2h-1.2zM47.2 86.3h1.2v1.2h-1.2zM46.4 70.7h1.2v1.2h-1.2zM48.6 94.6h1.2v1.2h-1.2zM51.0 82.1h1.2v1.2h-1.2zM49.6 102.5h1.2v1.2h-1.2zM50.4 94.9h1.2v1.2h-1.2zM49.2 101.1h1.2v1.2h-1.2zM50.9 103.8h1.2v1.2h-1.2zM57.8 66.2h1.2v1.2h-1.2zM43.6 94.4h1.2v1.2h-1.2zM51.1 103.1h1.2v1.2h-1.2zM47.9 66.9h1.2v1.2h-1.2zM51.9 82.5h1.2v1.2h-1.2zM56.1 87.6h1.2v1.2h-1.2zM48.5 97.7h1.2v1.2h-1.2zM45.9 66.4h1.2v1.2h-1.2zM46.2 94.7h1.2v1.2h-1.2zM46.2 54.9h1.2v1.2h-1.2zM51.4 87.2h1.2v1.2h-1.2zM53.0 74.4h1.2v1.2h-1.2zM51.1 103.2h1.2v1.2h-1.2zM50.6 99.9h1.2v1.2h-1.2zM54.3 65.9h1.2v1.2h-1.2zM48.5 69.8h1.2v1.2h-1.2zM54.8 81.1h1.2v1.2h-1.2zM48.6 82.3h1.2v1.2h-1.2zM49.7 85.0h1.2v1.2h-1.2zM49.4 86.9h1.2v1.2h-1.2zM44.9 73.8h1.2v1.2h-1.2zM51.8 68.0h1.2v1.2h-1.2zM52.1 94.3h1.2v1.2h-1.2zM49.6 75.3h1.2v1.2h-1.2zM50.7 104.6h1.2v1.2h-1.2zM55.0 82.5h1.2v1.2h-1.2zM53.6 58.1h1.2v1.2h-1.2zM49.9 101.9h1.2v1.2h-1.2zM58.3 91.6h1.2v1.2h-1.2zM48.4 84.3h1.2v1.2h-1.2zM48.0 60.3h1.2v1.2h-1.2zM50.0 94.1h1.2v1.2h-1.2zM59.0 75.0h1.2v1.2h-1.2zM46.1 97.0h1.2v1.2h-1.2zM49.0 57.6h1.2v1.2h-1.2zM47.7 94.5h1.2v1.2h-1.2zM56.4 78.5h1.2v1.2h-1.2zM53.3 72.9h1.2v1.2h-1.2zM55.1 70.2h1.2v1.2h-1.2zM53.3 96.2h1.2v1.2h-1.2zM49.8 54.0h1.2v1.2h-1.2zM46.1 70.7h1.2v1.2h-1.2zM50.4 100.6h1.2v1.2h-1.2zM50.8 105.8h1.2v1.2h-1.2zM55.1 85.1h1.2v1.2h-1.2zM52.8 87.9h1.2v1.2h-1.2zM49.4 83.3h1.2v1.2h-1.2zM46.2 54.0h1.2v1.2h-1.2zM45.4 68.4h1.2v1.2h-1.2zM52.6 91.0h1.2v1.2h-1.2zM44.8 60.3h1.2v1.2h-1.2zM45.8 96.7h1.2v1.2h-1.2zM48.7 92.5h1.2v1.2h-1.2zM50.1 107.5h1.2v1.2h-1.2zM49.9 94.9h1.2v1.2h-1.2zM52.3 68.0h1.2v1.2h-1.2zM46.0 78.6h1.2v1.2h-1.2zM52.3 93.3h1.2v1.2h-1.2zM51.2 103.1h1.2v1.2h-1.2zM53.5 68.8h1.2v1.2h-1.2zM47.4 63.5h1.2v1.2h-1.2zM54.3 76.5h1.2v1.2h-1.2zM51.1 86.2h1.2v1.2h-1.2zM58.0 63.0h1.2v1.2h-1.2zM48.1 75.0h1.2v1.2h-1.2zM42.5 63.6h1.2v1.2h-1.2zM52.2 76.2h1.2v1.2h-1.2zM54.5 94.3h1.2v1.2h-1.2zM50.0 84.1h1.2v1.2h-1.2zM49.1 67.3h1.2v1.2h-1.2zM48.1 91.5h1.2v1.2h-1.2zM44.8 90.4h1.2v1.2h-1.2zM51.2 93.2h1.2v1.2h-1.2zM57.7 61.6h1.2v1.2h-1.2zM47.4 63.4h1.2v1.2h-1.2zM51.5 102.8h1.2v1.2h-1.2zM58.1 79.1h1.2v1.2h-1.2zM46.6 82.0h1.2v1.2h-1.2zM49.1 78.6h1.2v1.2h-1.2zM44.9 64.4h1.2v1.2h-1.2zM49.5 103.8h1.2v1.2h-1.2zM50.7 81.1h1.2v1.2h-1.2zM46.1 82.8h1.2v1.2h-1.2zM44.1 55.6h1.2v1.2h-1.2zM51.8 92.2h1.2v1.2h-1.2zM44.1 53.0h1.2v1.2h-1.2zM51.4 91.0h1.2v1.2h-1.2zM48.5 65.8h1.2v1.2h-1.2zM50.8 85.8h1.2v1.2h-1.2zM51.5 91.7h1.2v1.2h-1.2zM50.5 103.8h1.2v1.2h-1.2zM51.4 78.0h1.2v1.2h-1.2zM52.5 65.0h1.2v1.2h-1.2zM50.7 88.9h1.2v1.2h-1.2zM54.2 66.4h1.2v1.2h-1.2zM47.5 91.6h1.2v1.2h-1.2zM52.1 67.8h1.2v1.2h-1.2zM52.3 62.3h1.2v1.2h-1.2zM52.6 89.8h1.2v1.2h-1.2zM51.9 66.2h1.2v1.2h-1.2zM54.4 61.9h1.2v1.2h-1.2zM53.8 73.9h1.2v1.2h-1.2zM49.0 60.4h1.2v1.2h-1.2zM47.7 87.3h1.2v1.2h-1.2zM51.1 101.6h1.2v1.2h-1.2zM50.3 72.2h1.2v1.2h-1.2zM46.8 56.4h1.2v1.2h-1.2zM47.2 86.5h1.2v1.2h-1.2zM45.7 89.0h1.2v1.2h-1.2zM57.2 60.4h1.2v1.2h-1.2zM49.4 55.3h1.2v1.2h-1.2zM49.0 59.2h1.2v1.2h-1.2zM51.9 88.8h1.2v1.2h-1.2zM49.8 93.8h1.2v1.2h-1.2zM46.1 96.7h1.2v1.2h-1.2zM54.7 72.4h1.2v1.2h-1.2zM49.8 81.5h1.2v1.2h-1.2zM46.4 58.9h1.2v1.2h-1.2zM45.3 74.9h1.2v1.2h-1.2zM49.6 84.5h1.2v1.2h-1.2zM47.5 70.6h1.2v1.2h-1.2zM53.4 54.2h1.2v1.2h-1.2zM49.2 74.8h1.2v1.2h-1.2zM45.6 61.9h1.2v1.2h-1.2zM50.9 95.3h1.2v1.2h-1.2zM47.2 58.4h1.2v1.2h-1.2zM52.7 86.5h1.2v1.2h-1.2zM49.0 90.9h1.2v1.2h-1.2zM45.3 66.9h1.2v1.2h-1.2zM48.7 70.4h1.2v1.2h-1.2zM51.0 54.3h1.2v1.2h-1.2zM47.6 77.0h1.2v1.2h-1.2zM44.7 55.7h1.2v1.2h-1.2zM44.6 84.1h1.2v1.2h-1.2zM46.1 93.3h1.2v1.2h-1.2zM52.6 81.6h1.2v1.2h-1.2zM49.9 107.4h1.2v1.2h-1.2zM44.5 94.5h1.2v1.2h-1.2zM42.8 78.9h1.2v1.2h-1.2zM46.4 96.5h1.2v1.2h-1.2zM48.6 67.5h1.2v1.2h-1.2zM43.9 92.5h1.2v1.2h-1.2zM50.6 102.9h1.2v1.2h-1.2zM44.0 72.1h1.2v1.2h-1.2zM50.3 89.0h1.2v1.2h-1.2zM51.6 98.7h1.2v1.2h-1.2zM51.8 73.2h1.2v1.2h-1.2zM50.7 103.0h1.2v1.2h-1.2zM52.1 90.1h1.2v1.2h-1.2zM54.6 83.2h1.2v1.2h-1.2zM47.4 80.6h1.2v1.2h-1.2zM50.7 74.7h1.2v1.2h-1.2zM48.4 98.3h1.2v1.2h-1.2zM48.6 84.0h1.2v1.2h-1.2zM46.2 75.8h1.2v1.2h-1.2zM43.4 60.3h1.2v1.2h-1.2zM43.3 85.3h1.2v1.2h-1.2zM46.7 91.1h1.2v1.2h-1.2zM44.4 87.3h1.2v1.2h-1.2zM48.4 63.6h1.2v1.2h-1.2zM46.7 85.3h1.2v1.2h-1.2zM47.9 63.0h1.2v1.2h-1.2zM54.5 80.1h1.2v1.2h-1.2zM47.1 78.0h1.2v1.2h-1.2zM46.5 89.2h1.2v1.2h-1.2zM49.9 73.7h1.2v1.2h-1.2zM54.2 86.1h1.2v1.2h-1.2zM46.1 56.8h1.2v1.2h-1.2zM51.5 106.5h1.2v1.2h-1.2zM51.6 99.5h1.2v1.2h-1.2zM51.4 66.8h1.2v1.2h-1.2zM55.3 59.8h1.2v1.2h-1.2zM45.0 74.4h1.2v1.2h-1.2zM50.3 105.6h1.2v1.2h-1.2zM47.7 98.7h1.2v1.2h-1.2zM46.2 85.9h1.2v1.2h-1.2zM51.4 98.0h1.2v1.2h-1.2zM53.5 66.6h1.2v1.2h-1.2zM54.6 78.1h1.2v1.2h-1.2zM41.7 58.5h1.2v1.2h-1.2zM56.6 59.8h1.2v1.2h-1.2zM48.1 99.8h1.2v1.2h-1.2zM54.7 63.9h1.2v1.2h-1.2zM44.0 84.6h1.2v1.2h-1.2zM47.3 84.9h1.2v1.2h-1.2zM48.4 54.4h1.2v1.2h-1.2zM53.8 92.7h1.2v1.2h-1.2zM56.0 63.5h1.2v1.2h-1.2zM48.2 65.4h1.2v1.2h-1.2zM48.5 59.9h1.2v1.2h-1.2zM50.6 55.8h1.2v1.2h-1.2zM44.6 75.0h1.2v1.2h-1.2zM49.8 64.4h1.2v1.2h-1.2zM54.3 67.0h1.2v1.2h-1.2zM53.1 67.4h1.2v1.2h-1.2zM43.5 71.2h1.2v1.2h-1.2zM57.5 55.1h1.2v1.2h-1.2zM50.4 75.8h1.2v1.2h-1.2zM45.3 59.5h1.2v1.2h-1.2zM50.2 81.3h1.2v1.2h-1.2zM47.7 69.8h1.2v1.2h-1.2zM47.4 66.4h1.2v1.2h-1.2zM47.5 93.8h1.2v1.2h-1.2zM48.8 81.8h1.2v1.2h-1.2zM43.6 88.6h1.2v1.2h-1.2zM50.7 97.4h1.2v1.2h-1.2zM49.0 97.4h1.2v1.2h-1.2zM54.4 89.0h1.2v1.2h-1.2zM48.1 63.9h1.2v1.2h-1.2zM44.0 60.0h1.2v1.2h-1.2zM47.0 61.8h1.2v1.2h-1.2zM51.3 76.8h1.2v1.2h-1.2zM52.2 81.5h1.2v1.2h-1.2zM43.8 92.8h1.2v1.2h-1.2zM47.8 74.8h1.2v1.2h-1.2zM52.6 58.3h1.2v1.2h-1.2zM49.9 75.2h1.2v1.2h-1.2zM49.8 86.2h1.2v1.2h-1.2zM50.8 96.3h1.2v1.2h-1.2zM46.1 69.5h1.2v1.2h-1.2zM48.2 77.4h1.2v1.2h-1.2zM46.6 74.0h1.2v1.2h-1.2zM54.3 96.3h1.2v1.2h-1.2zM55.7 70.4h1.2v1.2h-1.2zM49.9 83.9h1.2v1.2h-1.2zM54.5 90.3h1.2v1.2h-1.2zM50.8 96.4h1.2v1.2h-1.2zM48.4 58.6h1.2v1.2h-1.2zM56.1 68.8h1.2v1.2h-1.2zM46.2 71.3h1.2v1.2h-1.2zM44.3 67.2h1.2v1.2h-1.2zM56.5 93.5h1.2v1.2h-1.2zM47.0 98.9h1.2v1.2h-1.2zM48.2 98.8h1.2v1.2h-1.2zM45.6 75.7h1.2v1.2h-1.2zM50.7 106.9h1.2v1.2h-1.2zM50.3 84.1h1.2v1.2h-1.2zM46.9 61.7h1.2v1.2h-1.2zM46.5 81.1h1.2v1.2h-1.2zM54.9 95.3h1.2v1.2h-1.2zM55.5 61.1h1.2v1.2h-1.2zM48.6 97.6h1.2v1.2h-1.2zM51.3 103.2h1.2v1.2h-1.2zM53.4 84.1h1.2v1.2h-1.2zM50.3 79.1h1.2v1.2h-1.2zM52.6 90.7h1.2v1.2h-1.2zM49.9 89.0h1.2v1.2h-1.2zM43.4 79.2h1.2v1.2h-1.2zM49.2 70.4h1.2v1.2h-1.2zM49.0 95.3h1.2v1.2h-1.2zM46.8 96.7h1.2v1.2h-1.2zM44.8 70.3h1.2v1.2h-1.2zM53.9 83.7h1.2v1.2h-1.2zM45.0 52.4h1.2v1.2h-1.2zM50.1 80.1h1.2v1.2h-1.2zM52.0 91.4h1.2v1.2h-1.2zM45.7 68.8h1.2v1.2h-1.2zM53.1 67.8h1.2v1.2h-1.2zM52.7 67.4h1.2v1.2h-1.2zM49.3 68.9h1.2v1.2h-1.2zM49.6 107.6h1.2v1.2h-1.2zM48.5 67.2h1.2v1.2h-1.2zM48.2 59.0h1.2v1.2h-1.2zM51.4 86.5h1.2v1.2h-1.2zM50.2 88.0h1.2v1.2h-1.2zM44.2 71.8h1.2v1.2h-1.2zM45.3 76.1h1.2v1.2h-1.2zM49.6 88.9h1.2v1.2h-1.2zM50.8 79.2h1.2v1.2h-1.2zM53.5 79.7h1.2v1.2h-1.2zM52.2 84.4h1.2v1.2h-1.2zM54.8 92.3h1.2v1.2h-1.2zM46.9 68.5h1.2v1.2h-1.2zM49.8 86.8h1.2v1.2h-1.2zM52.2 85.3h1.2v1.2h-1.2zM45.6 66.9h1.2v1.2h-1.2zM48.8 82.5h1.2v1.2h-1.2zM54.0 65.6h1.2v1.2h-1.2zM51.1 96.2h1.2v1.2h-1.2zM44.0 70.0h1.2v1.2h-1.2zM54.0 69.0h1.2v1.2h-1.2zM51.7 78.4h1.2v1.2h-1.2zM49.1 53.8h1.2v1.2h-1.2zM43.6 87.1h1.2v1.2h-1.2zM52.8 84.2h1.2v1.2h-1.2zM50.0 98.9h1.2v1.2h-1.2zM55.8 56.3h1.2v1.2h-1.2zM43.1 83.9h1.2v1.2h-1.2zM57.1 64.6h1.2v1.2h-1.2zM56.4 83.2h1.2v1.2h-1.2zM54.4 74.5h1.2v1.2h-1.2zM50.7 86.6h1.2v1.2h-1.2zM47.0 87.0h1.2v1.2h-1.2zM55.8 72.9h1.2v1.2h-1.2zM52.8 73.6h1.2v1.2h-1.2zM58.2 75.0h1.2v1.2h-1.2zM47.5 89.8h1.2v1.2h-1.2zM55.7 74.1h1.2v1.2h-1.2zM49.6 100.9h1.2v1.2h-1.2zM54.2 87.5h1.2v1.2h-1.2zM49.5 94.1h1.2v1.2h-1.2zM50.1 95.0h1.2v1.2h-1.2zM46.0 64.3h1.2v1.2h-1.2zM48.9 63.1h1.2v1.2h-1.2zM53.7 95.9h1.2v1.2h-1.2zM49.5 102.5h1.2v1.2h-1.2zM53.5 79.4h1.2v1.2h-1.2zM52.8 68.5h1.2v1.2h-1.2zM49.9 79.2h1.2v1.2h-1.2zM52.3 87.0h1.2v1.2h-1.2zM58.4 87.8h1.2v1.2h-1.2zM49.8 73.4h1.2v1.2h-1.2zM51.9 78.0h1.2v1.2h-1.2zM47.9 89.4h1.2v1.2h-1.2zM53.9 85.3h1.2v1.2h-1.2zM46.0 70.8h1.2v1.2h-1.2zM51.3 94.8h1.2v1.2h-1.2zM45.3 82.2h1.2v1.2h-1.2zM51.1 106.1h1.2v1.2h-1.2zM47.3 70.0h1.2v1.2h-1.2zM49.0 98.2h1.2v1.2h-1.2zM55.2 73.3h1.2v1.2h-1.2zM44.7 90.5h1.2v1.2h-1.2zM48.4 64.2h1.2v1.2h-1.2zM52.2 95.3h1.2v1.2h-1.2zM45.2 65.7h1.2v1.2h-1.2zM52.9 82.7h1.2v1.2h-1.2zM44.9 92.8h1.2v1.2h-1.2zM53.7 78.7h1.2v1.2h-1.2zM47.1 61.4h1.2v1.2h-1.2zM50.5 106.3h1.2v1.2h-1.2zM50.8 72.9h1.2v1.2h-1.2zM49.3 98.8h1.2v1.2h-1.2zM48.3 83.2h1.2v1.2h-1.2zM53.9 95.0h1.2v1.2h-1.2zM47.7 73.6h1.2v1.2h-1.2zM47.5 81.8h1.2v1.2h-1.2zM50.7 68.9h1.2v1.2h-1.2zM53.0 87.2h1.2v1.2h-1.2zM50.3 79.8h1.2v1.2h-1.2zM42.8 58.8h1.2v1.2h-1.2zM47.8 88.3h1.2v1.2h-1.2zM46.5 78.5h1.2v1.2h-1.2zM52.4 79.4h1.2v1.2h-1.2zM56.5 88.0h1.2v1.2h-1.2zM49.4 102.5h1.2v1.2h-1.2zM46.6 86.7h1.2v1.2h-1.2zM55.8 95.6h1.2v1.2h-1.2zM50.2 93.6h1.2v1.2h-1.2zM48.6 76.9h1.2v1.2h-1.2zM48.6 64.3h1.2v1.2h-1.2zM46.0 79.3h1.2v1.2h-1.2zM52.4 86.1h1.2v1.2h-1.2zM53.3 97.1h1.2v1.2h-1.2zM42.1 77.7h1.2v1.2h-1.2zM50.0 96.6h1.2v1.2h-1.2zM47.2 64.9h1.2v1.2h-1.2zM49.4 64.1h1.2v1.2h-1.2zM44.5 67.2h1.2v1.2h-1.2zM47.5 87.0h1.2v1.2h-1.2zM43.5 69.1h1.2v1.2h-1.2zM48.3 93.9h1.2v1.2h-1.2zM47.3 93.6h1.2v1.2h-1.2zM50.4 91.0h1.2v1.2h-1.2zM49.8 87.0h1.2v1.2h-1.2zM48.6 95.3h1.2v1.2h-1.2zM47.8 89.4h1.2v1.2h-1.2zM43.3 84.8h1.2v1.2h-1.2zM54.7 79.1h1.2v1.2h-1.2zM52.5 83.3h1.2v1.2h-1.2zM47.7 97.8h1.2v1.2h-1.2zM45.6 58.0h1.2v1.2h-1.2zM48.4 75.6h1.2v1.2h-1.2zM53.8 76.6h1.2v1.2h-1.2zM47.9 72.5h1.2v1.2h-1.2zM50.6 91.0h1.2v1.2h-1.2zM46.2 67.1h1.2v1.2h-1.2zM45.2 71.0h1.2v1.2h-1.2zM47.0 83.1h1.2v1.2h-1.2zM48.0 91.7h1.2v1.2h-1.2zM50.9 90.7h1.2v1.2h-1.2zM48.2 66.9h1.2v1.2h-1.2zM52.0 67.3h1.2v1.2h-1.2zM54.0 79.8h1.2v1.2h-1.2zM46.9 91.0h1.2v1.2h-1.2zM53.1 89.8h1.2v1.2h-1.2zM49.8 61.3h1.2v1.2h-1.2zM52.2 83.2h1.2v1.2h-1.2zM45.9 92.3h1.2v1.2h-1.2zM49.6 55.3h1.2v1.2h-1.2zM54.7 76.4h1.2v1.2h-1.2zM51.1 75.0h1.2v1.2h-1.2zM50.1 101.7h1.2v1.2h-1.2zM49.4 86.8h1.2v1.2h-1.2zM51.9 81.3h1.2v1.2h-1.2zM50.7 103.2h1.2v1.2h-1.2zM53.5 96.9h1.2v1.2h-1.2zM56.1 84.5h1.2v1.2h-1.2zM55.7 94.3h1.2v1.2h-1.2zM52.2 85.0h1.2v1.2h-1.2zM49.3 74.9h1.2v1.2h-1.2zM53.2 97.3h1.2v1.2h-1.2zM49.2 92.0h1.2v1.2h-1.2zM53.5 71.9h1.2v1.2h-1.2zM52.2 79.6h1.2v1.2h-1.2zM52.8 86.9h1.2v1.2h-1.2zM47.9 53.0h1.2v1.2h-1.2zM54.5 62.3h1.2v1.2h-1.2zM51.9 76.6h1.2v1.2h-1.2zM48.4 93.3h1.2v1.2h-1.2zM49.9 96.9h1.2v1.2h-1.2zM48.3 70.9h1.2v1.2h-1.2zM49.7 81.2h1.2v1.2h-1.2zM49.0 85.9h1.2v1.2h-1.2zM49.8 86.8h1.2v1.2h-1.2zM44.1 85.3h1.2v1.2h-1.2zM46.6 64.3h1.2v1.2h-1.2zM50.6 81.7h1.2v1.2h-1.2zM57.3 67.8h1.2v1.2h-1.2zM45.6 87.2h1.2v1.2h-1.2zM51.7 95.9h1.2v1.2h-1.2zM50.0 102.0h1.2v1.2h-1.2zM47.1 60.4h1.2v1.2h-1.2zM49.7 90.9h1.2v1.2h-1.2zM50.6 83.4h1.2v1.2h-1.2zM53.1 86.8h1.2v1.2h-1.2zM49.5 93.6h1.2v1.2h-1.2zM50.3 75.2h1.2v1.2h-1.2zM53.9 52.5h1.2v1.2h-1.2zM48.3 68.0h1.2v1.2h-1.2zM44.9 62.4h1.2v1.2h-1.2zM47.9 77.6h1.2v1.2h-1.2zM51.8 68.2h1.2v1.2h-1.2zM42.1 64.2h1.2v1.2h-1.2zM44.4 62.4h1.2v1.2h-1.2zM48.8 89.5h1.2v1.2h-1.2zM51.6 89.1h1.2v1.2h-1.2zM57.3 55.7h1.2v1.2h-1.2zM47.4 82.9h1.2v1.2h-1.2zM54.9 65.3h1.2v1.2h-1.2zM54.1 62.6h1.2v1.2h-1.2zM51.8 69.6h1.2v1.2h-1.2zM51.8 80.2h1.2v1.2h-1.2zM44.5 84.7h1.2v1.2h-1.2zM51.2 84.7h1.2v1.2h-1.2zM45.6 94.5h1.2v1.2h-1.2zM47.1 80.3h1.2v1.2h-1.2zM46.3 89.7h1.2v1.2h-1.2zM51.3 89.0h1.2v1.2h-1.2zM51.0 84.1h1.2v1.2h-1.2zM53.2 68.8h1.2v1.2h-1.2zM45.3 75.3h1.2v1.2h-1.2zM49.1 86.3h1.2v1.2h-1.2zM49.1 77.5h1.2v1.2h-1.2zM55.7 80.3h1.2v1.2h-1.2zM54.4 63.1h1.2v1.2h-1.2zM58.9 59.1h1.2v1.2h-1.2zM52.7 70.6h1.2v1.2h-1.2zM55.6 91.2h1.2v1.2h-1.2zM47.5 76.1h1.2v1.2h-1.2zM54.8 76.1h1.2v1.2h-1.2zM51.0 76.9h1.2v1.2h-1.2zM43.7 81.1h1.2v1.2h-1.2zM48.8 89.9h1.2v1.2h-1.2zM47.9 63.1h1.2v1.2h-1.2zM52.3 68.4h1.2v1.2h-1.2zM44.5 64.2h1.2v1.2h-1.2zM47.6 93.9h1.2v1.2h-1.2zM52.8 62.9h1.2v1.2h-1.2zM50.9 76.6h1.2v1.2h-1.2zM49.9 92.6h1.2v1.2h-1.2zM49.8 99.1h1.2v1.2h-1.2zM48.3 90.8h1.2v1.2h-1.2zM49.1 63.0h1.2v1.2h-1.2zM47.2 59.3h1.2v1.2h-1.2zM44.7 64.9h1.2v1.2h-1.2zM44.0 61.2h1.2v1.2h-1.2zM53.4 69.6h1.2v1.2h-1.2zM45.8 92.4h1.2v1.2h-1.2zM55.8 77.4h1.2v1.2h-1.2zM44.4 94.2h1.2v1.2h-1.2zM51.5 70.2h1.2v1.2h-1.2zM43.2 90.6h1.2v1.2h-1.2zM42.8 92.0h1.2v1.2h-1.2zM51.0 98.8h1.2v1.2h-1.2zM51.0 88.3h1.2v1.2h-1.2zM49.2 103.1h1.2v1.2h-1.2zM42.9 84.9h1.2v1.2h-1.2zM50.2 106.0h1.2v1.2h-1.2zM57.8 67.9h1.2v1.2h-1.2zM53.1 78.1h1.2v1.2h-1.2zM53.1 91.4h1.2v1.2h-1.2zM48.5 66.5h1.2v1.2h-1.2zM53.4 59.5h1.2v1.2h-1.2zM54.4 86.5h1.2v1.2h-1.2zM48.4 76.1h1.2v1.2h-1.2zM53.8 93.4h1.2v1.2h-1.2zM53.3 64.8h1.2v1.2h-1.2zM46.1 83.6h1.2v1.2h-1.2zM55.8 72.2h1.2v1.2h-1.2zM47.3 90.6h1.2v1.2h-1.2zM52.1 57.2h1.2v1.2h-1.2zM57.2 62.0h1.2v1.2h-1.2zM52.7 81.6h1.2v1.2h-1.2zM57.6 66.9h1.2v1.2h-1.2zM42.4 86.8h1.2v1.2h-1.2zM45.8 55.0h1.2v1.2h-1.2zM48.6 101.8h1.2v1.2h-1.2zM49.5 82.8h1.2v1.2h-1.2zM47.9 84.7h1.2v1.2h-1.2zM46.2 93.8h1.2v1.2h-1.2zM50.3 96.2h1.2v1.2h-1.2zM51.1 98.9h1.2v1.2h-1.2zM49.0 83.1h1.2v1.2h-1.2zM49.9 69.3h1.2v1.2h-1.2zM55.3 56.4h1.2v1.2h-1.2zM52.4 71.2h1.2v1.2h-1.2zM47.2 72.8h1.2v1.2h-1.2zM50.8 97.4h1.2v1.2h-1.2zM49.3 62.2h1.2v1.2h-1.2zM46.2 62.7h1.2v1.2h-1.2zM47.6 71.2h1.2v1.2h-1.2zM49.1 78.0h1.2v1.2h-1.2zM50.4 102.2h1.2v1.2h-1.2zM58.6 59.2h1.2v1.2h-1.2zM49.2 90.9h1.2v1.2h-1.2zM46.7 67.4h1.2v1.2h-1.2zM55.3 65.3h1.2v1.2h-1.2zM49.0 86.1h1.2v1.2h-1.2zM52.9 64.0h1.2v1.2h-1.2zM57.5 65.5h1.2v1.2h-1.2zM51.4 95.6h1.2v1.2h-1.2zM49.5 107.7h1.2v1.2h-1.2zM43.9 72.2h1.2v1.2h-1.2zM51.6 66.8h1.2v1.2h-1.2zM55.3 74.4h1.2v1.2h-1.2zM49.5 96.7h1.2v1.2h-1.2zM51.7 88.3h1.2v1.2h-1.2zM49.9 75.5h1.2v1.2h-1.2zM48.0 65.8h1.2v1.2h-1.2zM49.4 102.4h1.2v1.2h-1.2zM49.8 58.4h1.2v1.2h-1.2zM47.1 65.9h1.2v1.2h-1.2zM48.9 54.7h1.2v1.2h-1.2zM51.6 89.3h1.2v1.2h-1.2zM54.6 61.1h1.2v1.2h-1.2zM49.1 95.9h1.2v1.2h-1.2zM51.1 97.7h1.2v1.2h-1.2zM48.4 75.5h1.2v1.2h-1.2zM55.2 64.5h1.2v1.2h-1.2zM51.5 88.6h1.2v1.2h-1.2zM44.9 81.2h1.2v1.2h-1.2zM58.2 73.8h1.2v1.2h-1.2zM46.9 94.4h1.2v1.2h-1.2zM48.7 61.2h1.2v1.2h-1.2zM47.7 72.8h1.2v1.2h-1.2zM49.8 68.0h1.2v1.2h-1.2zM52.3 81.5h1.2v1.2h-1.2zM53.8 88.9h1.2v1.2h-1.2zM49.1 53.8h1.2v1.2h-1.2zM56.3 77.3h1.2v1.2h-1.2zM55.9 64.5h1.2v1.2h-1.2zM52.1 74.2h1.2v1.2h-1.2zM49.6 64.0h1.2v1.2h-1.2zM44.3 90.0h1.2v1.2h-1.2zM53.9 86.3h1.2v1.2h-1.2zM48.5 81.4h1.2v1.2h-1.2zM55.3 69.9h1.2v1.2h-1.2zM56.2 53.3h1.2v1.2h-1.2zM53.5 67.1h1.2v1.2h-1.2zM51.5 83.3h1.2v1.2h-1.2zM47.2 92.6h1.2v1.2h-1.2zM55.8 66.4h1.2v1.2h-1.2zM57.5 70.6h1.2v1.2h-1.2zM52.1 84.3h1.2v1.2h-1.2zM47.7 68.9h1.2v1.2h-1.2zM50.3 79.1h1.2v1.2h-1.2zM50.5 84.3h1.2v1.2h-1.2zM54.9 71.6h1.2v1.2h-1.2zM53.3 58.0h1.2v1.2h-1.2zM50.1 106.8h1.2v1.2h-1.2zM49.2 90.3h1.2v1.2h-1.2zM51.6 90.9h1.2v1.2h-1.2zM55.4 74.5h1.2v1.2h-1.2zM52.0 98.4h1.2v1.2h-1.2zM45.3 96.0h1.2v1.2h-1.2zM45.6 67.3h1.2v1.2h-1.2zM44.2 78.9h1.2v1.2h-1.2zM45.8 56.3h1.2v1.2h-1.2zM47.5 65.5h1.2v1.2h-1.2zM46.5 84.2h1.2v1.2h-1.2zM48.7 85.9h1.2v1.2h-1.2zM50.8 87.0h1.2v1.2h-1.2zM50.2 74.7h1.2v1.2h-1.2zM56.3 89.7h1.2v1.2h-1.2zM46.0 94.3h1.2v1.2h-1.2zM45.9 68.8h1.2v1.2h-1.2zM50.8 94.7h1.2v1.2h-1.2zM43.2 67.8h1.2v1.2h-1.2zM50.1 99.6h1.2v1.2h-1.2zM48.5 62.6h1.2v1.2h-1.2zM55.5 81.3h1.2v1.2h-1.2zM47.8 84.2h1.2v1.2h-1.2zM53.9 89.6h1.2v1.2h-1.2zM49.4 62.3h1.2v1.2h-1.2zM46.2 55.0h1.2v1.2h-1.2zM45.1 73.9h1.2v1.2h-1.2zM46.1 100.8h1.2v1.2h-1.2zM41.2 102.9h1.2v1.2h-1.2zM45.5 102.4h1.2v1.2h-1.2zM43.4 98.2h1.2v1.2h-1.2zM48.2 99.1h1.2v1.2h-1.2zM43.0 98.5h1.2v1.2h-1.2zM43.2 96.6h1.2v1.2h-1.2zM42.2 101.5h1.2v1.2h-1.2zM44.5 95.4h1.2v1.2h-1.2zM42.3 102.2h1.2v1.2h-1.2zM42.0 102.0h1.2v1.2h-1.2zM43.6 100.3h1.2v1.2h-1.2zM47.1 100.2h1.2v1.2h-1.2zM44.8 100.3h1.2v1.2h-1.2zM47.2 95.5h1.2v1.2h-1.2zM44.4 95.3h1.2v1.2h-1.2zM43.0 94.8h1.2v1.2h-1.2zM45.2 97.6h1.2v1.2h-1.2zM44.0 101.5h1.2v1.2h-1.2zM42.0 95.6h1.2v1.2h-1.2zM43.8 97.4h1.2v1.2h-1.2zM44.7 99.0h1.2v1.2h-1.2zM42.6 102.4h1.2v1.2h-1.2zM43.6 97.6h1.2v1.2h-1.2zM45.3 104.0h1.2v1.2h-1.2zM46.7 99.9h1.2v1.2h-1.2zM41.5 101.6h1.2v1.2h-1.2zM42.6 96.2h1.2v1.2h-1.2zM45.4 100.9h1.2v1.2h-1.2zM42.9 101.3h1.2v1.2h-1.2zM43.2 100.7h1.2v1.2h-1.2zM47.3 96.6h1.2v1.2h-1.2zM46.6 95.6h1.2v1.2h-1.2zM46.2 103.0h1.2v1.2h-1.2zM41.3 102.5h1.2v1.2h-1.2zM43.0 99.0h1.2v1.2h-1.2zM47.6 98.5h1.2v1.2h-1.2zM44.4 101.7h1.2v1.2h-1.2zM48.9 96.9h1.2v1.2h-1.2zM43.7 103.6h1.2v1.2h-1.2zM48.9 101.6h1.2v1.2h-1.2zM47.8 102.9h1.2v1.2h-1.2zM46.2 100.7h1.2v1.2h-1.2zM48.1 101.2h1.2v1.2h-1.2zM41.7 102.1h1.2v1.2h-1.2zM42.2 59.7h1.2v1.2h-1.2zM25.1 72.5h1.2v1.2h-1.2zM32.4 67.2h1.2v1.2h-1.2zM42.4 49.4h1.2v1.2h-1.2zM46.0 57.1h1.2v1.2h-1.2zM40.3 68.7h1.2v1.2h-1.2zM41.0 80.5h1.2v1.2h-1.2zM43.0 66.1h1.2v1.2h-1.2zM41.4 72.9h1.2v1.2h-1.2zM33.0 70.4h1.2v1.2h-1.2zM38.2 63.8h1.2v1.2h-1.2zM36.6 63.8h1.2v1.2h-1.2zM41.8 73.8h1.2v1.2h-1.2zM37.9 76.4h1.2v1.2h-1.2zM35.7 60.1h1.2v1.2h-1.2zM34.8 53.8h1.2v1.2h-1.2zM40.9 60.2h1.2v1.2h-1.2zM38.9 60.4h1.2v1.2h-1.2zM43.8 65.4h1.2v1.2h-1.2zM35.8 69.8h1.2v1.2h-1.2zM36.1 70.8h1.2v1.2h-1.2zM30.0 69.4h1.2v1.2h-1.2zM40.0 69.3h1.2v1.2h-1.2zM34.6 63.4h1.2v1.2h-1.2zM40.7 69.0h1.2v1.2h-1.2zM39.9 72.6h1.2v1.2h-1.2zM42.6 72.6h1.2v1.2h-1.2zM36.7 65.2h1.2v1.2h-1.2zM36.3 73.7h1.2v1.2h-1.2zM29.7 65.3h1.2v1.2h-1.2zM32.1 64.1h1.2v1.2h-1.2zM31.9 62.3h1.2v1.2h-1.2zM41.0 54.8h1.2v1.2h-1.2zM44.4 69.1h1.2v1.2h-1.2zM43.1 69.2h1.2v1.2h-1.2zM37.8 69.4h1.2v1.2h-1.2zM29.7 62.1h1.2v1.2h-1.2zM28.3 67.7h1.2v1.2h-1.2zM41.0 65.4h1.2v1.2h-1.2zM30.6 70.4h1.2v1.2h-1.2zM41.8 58.8h1.2v1.2h-1.2zM46.3 78.1h1.2v1.2h-1.2zM40.7 69.3h1.2v1.2h-1.2zM42.2 77.3h1.2v1.2h-1.2zM37.7 61.4h1.2v1.2h-1.2zM35.2 68.5h1.2v1.2h-1.2zM33.5 58.7h1.2v1.2h-1.2zM31.8 72.2h1.2v1.2h-1.2zM36.7 68.2h1.2v1.2h-1.2zM34.3 62.3h1.2v1.2h-1.2zM40.1 64.3h1.2v1.2h-1.2zM38.1 63.1h1.2v1.2h-1.2zM32.6 74.1h1.2v1.2h-1.2zM36.3 73.4h1.2v1.2h-1.2zM41.9 53.3h1.2v1.2h-1.2zM44.5 63.2h1.2v1.2h-1.2zM40.1 70.7h1.2v1.2h-1.2zM31.9 62.5h1.2v1.2h-1.2zM31.1 64.1h1.2v1.2h-1.2zM37.7 61.2h1.2v1.2h-1.2zM38.6 65.4h1.2v1.2h-1.2zM35.5 77.5h1.2v1.2h-1.2zM36.7 61.5h1.2v1.2h-1.2zM43.6 57.0h1.2v1.2h-1.2zM33.5 72.3h1.2v1.2h-1.2zM41.9 69.1h1.2v1.2h-1.2zM30.9 69.8h1.2v1.2h-1.2zM46.2 78.2h1.2v1.2h-1.2zM39.1 75.3h1.2v1.2h-1.2zM46.3 69.1h1.2v1.2h-1.2zM33.3 77.4h1.2v1.2h-1.2zM34.8 83.0h1.2v1.2h-1.2zM36.0 51.7h1.2v1.2h-1.2zM38.9 67.9h1.2v1.2h-1.2zM32.6 63.9h1.2v1.2h-1.2zM36.0 71.7h1.2v1.2h-1.2zM45.3 63.2h1.2v1.2h-1.2zM34.0 56.3h1.2v1.2h-1.2zM38.1 62.8h1.2v1.2h-1.2zM39.1 58.3h1.2v1.2h-1.2zM41.4 68.4h1.2v1.2h-1.2zM42.0 68.7h1.2v1.2h-1.2zM39.1 55.3h1.2v1.2h-1.2zM33.1 73.0h1.2v1.2h-1.2zM36.4 69.4h1.2v1.2h-1.2zM44.8 76.7h1.2v1.2h-1.2zM36.2 64.9h1.2v1.2h-1.2zM36.6 61.7h1.2v1.2h-1.2zM41.7 61.1h1.2v1.2h-1.2zM42.2 53.3h1.2v1.2h-1.2zM37.5 61.5h1.2v1.2h-1.2zM37.5 65.9h1.2v1.2h-1.2zM39.5 66.5h1.2v1.2h-1.2zM40.1 71.8h1.2v1.2h-1.2zM37.6 70.1h1.2v1.2h-1.2zM32.6 70.8h1.2v1.2h-1.2zM35.9 67.1h1.2v1.2h-1.2zM30.6 67.8h1.2v1.2h-1.2zM32.8 71.5h1.2v1.2h-1.2zM39.3 58.8h1.2v1.2h-1.2zM39.8 69.4h1.2v1.2h-1.2zM36.2 57.2h1.2v1.2h-1.2zM30.3 58.6h1.2v1.2h-1.2zM30.9 70.3h1.2v1.2h-1.2zM38.6 67.6h1.2v1.2h-1.2zM46.6 62.8h1.2v1.2h-1.2zM38.1 59.8h1.2v1.2h-1.2zM38.6 71.5h1.2v1.2h-1.2zM44.0 56.2h1.2v1.2h-1.2zM44.8 73.9h1.2v1.2h-1.2zM42.2 58.2h1.2v1.2h-1.2zM33.3 58.3h1.2v1.2h-1.2zM40.8 68.2h1.2v1.2h-1.2zM23.8 63.2h1.2v1.2h-1.2zM37.5 83.4h1.2v1.2h-1.2zM35.6 66.2h1.2v1.2h-1.2zM39.5 61.1h1.2v1.2h-1.2zM37.1 72.1h1.2v1.2h-1.2zM36.6 80.1h1.2v1.2h-1.2zM32.8 53.0h1.2v1.2h-1.2zM35.0 66.6h1.2v1.2h-1.2zM39.0 61.2h1.2v1.2h-1.2zM37.0 72.1h1.2v1.2h-1.2zM43.4 65.2h1.2v1.2h-1.2zM46.4 67.9h1.2v1.2h-1.2zM36.5 63.8h1.2v1.2h-1.2zM37.4 68.2h1.2v1.2h-1.2zM33.9 64.4h1.2v1.2h-1.2zM40.0 54.0h1.2v1.2h-1.2zM38.3 77.8h1.2v1.2h-1.2zM40.7 50.9h1.2v1.2h-1.2zM36.2 71.4h1.2v1.2h-1.2zM37.6 85.1h1.2v1.2h-1.2zM36.7 67.4h1.2v1.2h-1.2zM30.9 62.3h1.2v1.2h-1.2zM34.0 78.4h1.2v1.2h-1.2zM34.8 61.9h1.2v1.2h-1.2zM39.4 69.5h1.2v1.2h-1.2zM37.1 59.7h1.2v1.2h-1.2zM35.8 63.4h1.2v1.2h-1.2zM43.2 72.1h1.2v1.2h-1.2zM35.5 63.1h1.2v1.2h-1.2zM38.4 66.9h1.2v1.2h-1.2zM35.7 66.5h1.2v1.2h-1.2zM30.3 65.8h1.2v1.2h-1.2zM38.8 65.9h1.2v1.2h-1.2zM31.5 67.0h1.2v1.2h-1.2zM39.1 70.6h1.2v1.2h-1.2zM40.0 82.3h1.2v1.2h-1.2zM30.9 65.4h1.2v1.2h-1.2zM40.3 67.2h1.2v1.2h-1.2zM36.1 64.9h1.2v1.2h-1.2zM43.8 60.1h1.2v1.2h-1.2zM38.0 69.2h1.2v1.2h-1.2zM43.7 62.5h1.2v1.2h-1.2zM42.8 68.0h1.2v1.2h-1.2zM34.1 64.9h1.2v1.2h-1.2zM35.3 58.5h1.2v1.2h-1.2zM42.6 80.6h1.2v1.2h-1.2zM41.7 57.3h1.2v1.2h-1.2zM43.6 69.3h1.2v1.2h-1.2zM34.1 59.7h1.2v1.2h-1.2zM43.4 65.7h1.2v1.2h-1.2zM32.6 76.3h1.2v1.2h-1.2zM39.7 71.6h1.2v1.2h-1.2zM35.0 63.2h1.2v1.2h-1.2zM43.6 79.8h1.2v1.2h-1.2zM35.0 57.5h1.2v1.2h-1.2zM38.2 68.4h1.2v1.2h-1.2zM41.6 73.7h1.2v1.2h-1.2zM32.3 66.0h1.2v1.2h-1.2zM46.2 59.4h1.2v1.2h-1.2zM38.4 59.4h1.2v1.2h-1.2zM36.3 74.0h1.2v1.2h-1.2zM30.0 64.3h1.2v1.2h-1.2zM42.9 63.6h1.2v1.2h-1.2zM38.2 68.8h1.2v1.2h-1.2zM43.8 66.4h1.2v1.2h-1.2zM31.2 57.0h1.2v1.2h-1.2zM35.2 63.5h1.2v1.2h-1.2zM38.4 59.1h1.2v1.2h-1.2zM39.6 58.0h1.2v1.2h-1.2zM39.4 69.2h1.2v1.2h-1.2zM35.9 61.8h1.2v1.2h-1.2zM34.3 59.9h1.2v1.2h-1.2zM37.2 72.3h1.2v1.2h-1.2zM34.0 67.1h1.2v1.2h-1.2zM47.2 61.0h1.2v1.2h-1.2zM38.5 72.1h1.2v1.2h-1.2zM69.2 75.7h1.2v1.2h-1.2zM60.9 77.1h1.2v1.2h-1.2zM66.7 71.1h1.2v1.2h-1.2zM58.9 71.0h1.2v1.2h-1.2zM56.5 83.4h1.2v1.2h-1.2zM60.2 101.6h1.2v1.2h-1.2zM66.0 53.1h1.2v1.2h-1.2zM56.0 74.3h1.2v1.2h-1.2zM54.0 71.2h1.2v1.2h-1.2zM61.8 65.5h1.2v1.2h-1.2zM55.1 78.9h1.2v1.2h-1.2zM58.1 75.3h1.2v1.2h-1.2zM70.9 74.9h1.2v1.2h-1.2zM60.7 78.0h1.2v1.2h-1.2zM64.4 47.3h1.2v1.2h-1.2zM66.0 57.6h1.2v1.2h-1.2zM56.2 62.3h1.2v1.2h-1.2zM61.0 60.4h1.2v1.2h-1.2zM65.5 66.4h1.2v1.2h-1.2zM58.7 68.4h1.2v1.2h-1.2zM61.1 62.4h1.2v1.2h-1.2zM60.6 69.7h1.2v1.2h-1.2zM59.1 73.2h1.2v1.2h-1.2zM61.1 62.4h1.2v1.2h-1.2zM60.4 70.5h1.2v1.2h-1.2zM54.5 69.3h1.2v1.2h-1.2zM60.5 72.9h1.2v1.2h-1.2zM57.7 77.1h1.2v1.2h-1.2zM64.5 69.3h1.2v1.2h-1.2zM60.8 77.8h1.2v1.2h-1.2zM61.8 61.0h1.2v1.2h-1.2zM60.8 76.6h1.2v1.2h-1.2zM55.7 71.9h1.2v1.2h-1.2zM56.9 87.2h1.2v1.2h-1.2zM64.7 79.1h1.2v1.2h-1.2zM69.0 74.0h1.2v1.2h-1.2zM55.1 83.9h1.2v1.2h-1.2zM64.0 68.8h1.2v1.2h-1.2zM61.8 74.8h1.2v1.2h-1.2zM63.0 57.5h1.2v1.2h-1.2zM63.0 74.5h1.2v1.2h-1.2zM54.8 68.4h1.2v1.2h-1.2zM67.8 66.4h1.2v1.2h-1.2zM55.4 71.0h1.2v1.2h-1.2zM66.6 79.2h1.2v1.2h-1.2zM63.1 60.8h1.2v1.2h-1.2zM68.1 88.8h1.2v1.2h-1.2zM64.0 76.4h1.2v1.2h-1.2zM60.8 77.0h1.2v1.2h-1.2zM66.2 95.0h1.2v1.2h-1.2zM62.0 85.7h1.2v1.2h-1.2zM57.9 88.2h1.2v1.2h-1.2zM56.9 73.1h1.2v1.2h-1.2zM61.0 55.0h1.2v1.2h-1.2zM59.9 69.4h1.2v1.2h-1.2zM62.4 70.3h1.2v1.2h-1.2zM67.3 71.5h1.2v1.2h-1.2zM61.5 74.0h1.2v1.2h-1.2zM60.9 73.4h1.2v1.2h-1.2zM65.3 72.7h1.2v1.2h-1.2zM61.2 73.4h1.2v1.2h-1.2zM64.2 77.6h1.2v1.2h-1.2zM65.0 78.6h1.2v1.2h-1.2zM63.9 53.7h1.2v1.2h-1.2zM61.9 73.8h1.2v1.2h-1.2zM55.7 65.5h1.2v1.2h-1.2zM60.9 63.8h1.2v1.2h-1.2zM58.0 67.7h1.2v1.2h-1.2zM68.8 68.9h1.2v1.2h-1.2zM59.5 85.9h1.2v1.2h-1.2zM60.9 66.3h1.2v1.2h-1.2zM63.5 84.1h1.2v1.2h-1.2zM56.4 82.7h1.2v1.2h-1.2zM56.4 75.6h1.2v1.2h-1.2zM62.1 53.6h1.2v1.2h-1.2zM61.8 58.3h1.2v1.2h-1.2zM64.4 68.5h1.2v1.2h-1.2zM64.5 66.7h1.2v1.2h-1.2zM69.3 64.8h1.2v1.2h-1.2zM68.0 73.7h1.2v1.2h-1.2zM66.7 76.3h1.2v1.2h-1.2zM58.0 76.3h1.2v1.2h-1.2zM62.3 71.0h1.2v1.2h-1.2zM58.2 67.5h1.2v1.2h-1.2zM63.6 82.1h1.2v1.2h-1.2zM56.0 92.6h1.2v1.2h-1.2zM59.5 72.8h1.2v1.2h-1.2zM57.8 78.9h1.2v1.2h-1.2zM60.3 72.6h1.2v1.2h-1.2zM63.4 64.5h1.2v1.2h-1.2zM62.8 61.7h1.2v1.2h-1.2zM56.6 66.8h1.2v1.2h-1.2zM62.5 83.4h1.2v1.2h-1.2zM57.9 68.4h1.2v1.2h-1.2zM61.2 85.5h1.2v1.2h-1.2zM58.5 57.6h1.2v1.2h-1.2zM64.6 72.1h1.2v1.2h-1.2zM66.8 82.0h1.2v1.2h-1.2zM60.1 63.3h1.2v1.2h-1.2zM59.4 84.1h1.2v1.2h-1.2zM63.5 56.8h1.2v1.2h-1.2zM55.4 75.9h1.2v1.2h-1.2zM54.7 46.8h1.2v1.2h-1.2zM57.9 72.4h1.2v1.2h-1.2zM57.8 82.8h1.2v1.2h-1.2zM58.9 70.8h1.2v1.2h-1.2zM68.6 70.0h1.2v1.2h-1.2zM67.8 83.6h1.2v1.2h-1.2zM61.2 77.3h1.2v1.2h-1.2zM54.0 35.5h1.2v1.2h-1.2zM59.8 70.4h1.2v1.2h-1.2zM57.6 78.7h1.2v1.2h-1.2zM56.3 62.6h1.2v1.2h-1.2zM59.1 74.3h1.2v1.2h-1.2zM61.7 85.2h1.2v1.2h-1.2zM61.9 74.6h1.2v1.2h-1.2zM62.9 76.8h1.2v1.2h-1.2zM61.1 67.7h1.2v1.2h-1.2zM65.1 79.8h1.2v1.2h-1.2zM65.2 82.8h1.2v1.2h-1.2zM60.1 71.6h1.2v1.2h-1.2zM61.5 97.9h1.2v1.2h-1.2zM56.6 74.7h1.2v1.2h-1.2zM65.0 80.0h1.2v1.2h-1.2zM67.5 91.0h1.2v1.2h-1.2zM61.2 67.5h1.2v1.2h-1.2zM61.0 70.2h1.2v1.2h-1.2zM65.0 81.0h1.2v1.2h-1.2zM63.5 62.2h1.2v1.2h-1.2zM59.9 96.1h1.2v1.2h-1.2zM55.6 81.5h1.2v1.2h-1.2zM56.2 68.6h1.2v1.2h-1.2zM57.3 48.0h1.2v1.2h-1.2zM63.4 86.0h1.2v1.2h-1.2zM59.6 57.6h1.2v1.2h-1.2zM63.9 83.1h1.2v1.2h-1.2zM65.5 77.7h1.2v1.2h-1.2zM70.6 78.4h1.2v1.2h-1.2zM63.5 67.2h1.2v1.2h-1.2zM58.9 74.4h1.2v1.2h-1.2zM66.0 67.9h1.2v1.2h-1.2zM60.6 68.4h1.2v1.2h-1.2zM68.6 63.5h1.2v1.2h-1.2zM63.0 69.6h1.2v1.2h-1.2zM54.0 71.5h1.2v1.2h-1.2zM58.7 65.5h1.2v1.2h-1.2zM58.2 68.4h1.2v1.2h-1.2zM56.3 63.9h1.2v1.2h-1.2zM57.7 73.2h1.2v1.2h-1.2zM63.4 76.1h1.2v1.2h-1.2zM60.9 62.2h1.2v1.2h-1.2zM68.7 91.0h1.2v1.2h-1.2zM56.9 66.1h1.2v1.2h-1.2zM65.0 77.6h1.2v1.2h-1.2zM61.3 74.8h1.2v1.2h-1.2zM70.9 74.9h1.2v1.2h-1.2zM55.6 88.5h1.2v1.2h-1.2zM55.3 59.8h1.2v1.2h-1.2zM59.2 53.3h1.2v1.2h-1.2zM63.7 69.0h1.2v1.2h-1.2zM63.7 65.0h1.2v1.2h-1.2zM64.9 82.7h1.2v1.2h-1.2zM58.4 78.4h1.2v1.2h-1.2zM61.4 75.4h1.2v1.2h-1.2zM55.5 79.9h1.2v1.2h-1.2zM68.8 51.6h1.2v1.2h-1.2zM57.1 69.1h1.2v1.2h-1.2zM60.7 81.4h1.2v1.2h-1.2zM64.0 73.6h1.2v1.2h-1.2zM68.2 68.3h1.2v1.2h-1.2zM59.5 99.4h1.2v1.2h-1.2zM60.4 64.4h1.2v1.2h-1.2zM57.7 64.0h1.2v1.2h-1.2zM63.9 90.6h1.2v1.2h-1.2zM60.0 69.7h1.2v1.2h-1.2zM64.2 71.3h1.2v1.2h-1.2zM60.8 76.4h1.2v1.2h-1.2zM59.6 72.9h1.2v1.2h-1.2zM56.2 66.4h1.2v1.2h-1.2zM59.5 67.6h1.2v1.2h-1.2zM58.7 68.8h1.2v1.2h-1.2zM71.9 91.2h1.2v1.2h-1.2zM83.2 69.5h1.2v1.2h-1.2zM80.5 67.3h1.2v1.2h-1.2zM82.4 68.1h1.2v1.2h-1.2zM89.3 56.2h1.2v1.2h-1.2zM70.7 71.5h1.2v1.2h-1.2zM84.8 43.2h1.2v1.2h-1.2zM87.4 45.4h1.2v1.2h-1.2zM90.8 79.0h1.2v1.2h-1.2zM85.0 58.3h1.2v1.2h-1.2zM74.2 83.1h1.2v1.2h-1.2zM86.1 53.2h1.2v1.2h-1.2zM91.5 51.1h1.2v1.2h-1.2zM91.6 44.6h1.2v1.2h-1.2zM93.4 61.5h1.2v1.2h-1.2zM68.3 86.8h1.2v1.2h-1.2zM84.3 60.0h1.2v1.2h-1.2zM74.6 74.6h1.2v1.2h-1.2zM71.1 76.5h1.2v1.2h-1.2zM87.7 74.2h1.2v1.2h-1.2zM89.2 61.7h1.2v1.2h-1.2zM93.0 59.1h1.2v1.2h-1.2zM85.2 52.8h1.2v1.2h-1.2zM73.5 79.4h1.2v1.2h-1.2zM79.0 65.9h1.2v1.2h-1.2zM80.5 68.1h1.2v1.2h-1.2zM92.1 64.6h1.2v1.2h-1.2zM77.2 71.4h1.2v1.2h-1.2zM85.5 61.9h1.2v1.2h-1.2zM86.3 68.0h1.2v1.2h-1.2zM90.4 41.7h1.2v1.2h-1.2zM71.0 63.6h1.2v1.2h-1.2zM72.3 72.6h1.2v1.2h-1.2zM73.5 79.2h1.2v1.2h-1.2zM75.1 82.8h1.2v1.2h-1.2zM89.2 62.1h1.2v1.2h-1.2zM73.9 73.3h1.2v1.2h-1.2zM84.9 74.4h1.2v1.2h-1.2zM79.0 56.5h1.2v1.2h-1.2zM79.6 65.7h1.2v1.2h-1.2zM94.2 52.2h1.2v1.2h-1.2zM77.7 66.1h1.2v1.2h-1.2zM85.4 79.8h1.2v1.2h-1.2zM87.9 55.5h1.2v1.2h-1.2zM85.8 66.9h1.2v1.2h-1.2zM78.3 57.5h1.2v1.2h-1.2zM89.2 56.4h1.2v1.2h-1.2zM72.0 68.9h1.2v1.2h-1.2zM71.2 78.9h1.2v1.2h-1.2zM82.1 61.4h1.2v1.2h-1.2zM67.2 89.1h1.2v1.2h-1.2zM78.7 61.1h1.2v1.2h-1.2zM90.5 56.2h1.2v1.2h-1.2zM82.3 54.1h1.2v1.2h-1.2zM88.1 46.6h1.2v1.2h-1.2zM76.4 76.1h1.2v1.2h-1.2zM81.7 56.4h1.2v1.2h-1.2zM85.5 50.8h1.2v1.2h-1.2zM68.4 71.7h1.2v1.2h-1.2zM87.8 54.6h1.2v1.2h-1.2zM85.6 49.6h1.2v1.2h-1.2zM89.9 57.2h1.2v1.2h-1.2zM74.9 75.5h1.2v1.2h-1.2zM75.8 67.1h1.2v1.2h-1.2zM89.0 57.8h1.2v1.2h-1.2zM82.4 66.6h1.2v1.2h-1.2zM74.9 66.3h1.2v1.2h-1.2zM86.6 57.6h1.2v1.2h-1.2zM81.9 57.2h1.2v1.2h-1.2zM66.8 80.9h1.2v1.2h-1.2zM76.3 69.5h1.2v1.2h-1.2zM70.6 75.4h1.2v1.2h-1.2zM75.1 65.2h1.2v1.2h-1.2zM77.9 66.4h1.2v1.2h-1.2zM74.8 69.6h1.2v1.2h-1.2zM77.4 47.5h1.2v1.2h-1.2zM92.6 54.9h1.2v1.2h-1.2zM87.3 56.7h1.2v1.2h-1.2zM90.0 69.1h1.2v1.2h-1.2zM72.6 67.4h1.2v1.2h-1.2zM83.2 54.3h1.2v1.2h-1.2zM76.9 69.2h1.2v1.2h-1.2zM90.3 56.7h1.2v1.2h-1.2zM78.6 61.5h1.2v1.2h-1.2zM77.0 72.3h1.2v1.2h-1.2zM77.3 65.1h1.2v1.2h-1.2zM87.0 68.3h1.2v1.2h-1.2zM96.2 47.4h1.2v1.2h-1.2zM80.8 59.3h1.2v1.2h-1.2zM73.3 94.4h1.2v1.2h-1.2zM86.7 60.5h1.2v1.2h-1.2zM92.5 39.5h1.2v1.2h-1.2zM90.9 39.1h1.2v1.2h-1.2zM87.5 65.9h1.2v1.2h-1.2zM85.5 75.0h1.2v1.2h-1.2zM88.7 53.4h1.2v1.2h-1.2zM87.5 62.4h1.2v1.2h-1.2zM67.7 64.6h1.2v1.2h-1.2zM81.0 86.8h1.2v1.2h-1.2zM75.6 75.4h1.2v1.2h-1.2zM81.5 63.2h1.2v1.2h-1.2zM84.9 44.6h1.2v1.2h-1.2zM86.3 45.9h1.2v1.2h-1.2zM80.4 57.8h1.2v1.2h-1.2zM78.7 63.0h1.2v1.2h-1.2zM75.6 75.7h1.2v1.2h-1.2zM92.8 61.8h1.2v1.2h-1.2zM81.0 72.3h1.2v1.2h-1.2zM72.6 71.3h1.2v1.2h-1.2zM77.5 63.0h1.2v1.2h-1.2zM80.8 67.9h1.2v1.2h-1.2zM92.4 52.6h1.2v1.2h-1.2zM84.3 63.0h1.2v1.2h-1.2zM82.5 62.4h1.2v1.2h-1.2zM67.9 74.5h1.2v1.2h-1.2zM88.8 43.9h1.2v1.2h-1.2zM74.4 75.8h1.2v1.2h-1.2zM90.0 63.6h1.2v1.2h-1.2zM80.1 73.1h1.2v1.2h-1.2zM90.7 49.9h1.2v1.2h-1.2zM83.6 69.8h1.2v1.2h-1.2zM74.8 81.3h1.2v1.2h-1.2zM87.8 54.3h1.2v1.2h-1.2zM80.1 75.6h1.2v1.2h-1.2zM84.2 68.7h1.2v1.2h-1.2zM78.9 79.3h1.2v1.2h-1.2zM86.9 62.4h1.2v1.2h-1.2zM69.0 74.2h1.2v1.2h-1.2zM75.1 70.1h1.2v1.2h-1.2zM81.7 65.4h1.2v1.2h-1.2zM74.0 70.8h1.2v1.2h-1.2zM86.6 63.9h1.2v1.2h-1.2zM86.7 58.7h1.2v1.2h-1.2zM80.3 65.6h1.2v1.2h-1.2zM69.0 87.7h1.2v1.2h-1.2zM83.9 70.4h1.2v1.2h-1.2zM86.0 52.3h1.2v1.2h-1.2zM75.8 73.7h1.2v1.2h-1.2zM74.3 66.3h1.2v1.2h-1.2zM84.7 47.8h1.2v1.2h-1.2zM87.1 41.5h1.2v1.2h-1.2zM68.3 66.2h1.2v1.2h-1.2zM95.6 60.7h1.2v1.2h-1.2zM76.6 70.0h1.2v1.2h-1.2zM82.8 63.9h1.2v1.2h-1.2zM90.8 66.1h1.2v1.2h-1.2zM73.4 75.7h1.2v1.2h-1.2zM87.1 52.4h1.2v1.2h-1.2zM86.6 64.4h1.2v1.2h-1.2zM81.8 77.5h1.2v1.2h-1.2zM73.5 71.3h1.2v1.2h-1.2zM90.2 54.7h1.2v1.2h-1.2zM75.0 69.5h1.2v1.2h-1.2zM83.4 59.0h1.2v1.2h-1.2zM93.1 58.3h1.2v1.2h-1.2zM81.7 69.2h1.2v1.2h-1.2zM89.5 58.8h1.2v1.2h-1.2zM74.7 65.1h1.2v1.2h-1.2zM95.4 61.3h1.2v1.2h-1.2zM85.1 62.7h1.2v1.2h-1.2zM87.0 53.2h1.2v1.2h-1.2zM73.7 75.1h1.2v1.2h-1.2zM84.6 76.0h1.2v1.2h-1.2zM78.2 61.1h1.2v1.2h-1.2zM91.1 64.5h1.2v1.2h-1.2zM71.2 74.5h1.2v1.2h-1.2zM71.5 75.4h1.2v1.2h-1.2zM83.5 60.3h1.2v1.2h-1.2zM78.5 77.9h1.2v1.2h-1.2zM81.6 53.1h1.2v1.2h-1.2zM84.2 70.8h1.2v1.2h-1.2zM92.3 54.3h1.2v1.2h-1.2zM71.3 56.9h1.2v1.2h-1.2zM86.4 58.0h1.2v1.2h-1.2zM90.0 52.9h1.2v1.2h-1.2zM75.1 75.7h1.2v1.2h-1.2zM87.9 73.5h1.2v1.2h-1.2zM68.9 71.2h1.2v1.2h-1.2zM72.3 75.2h1.2v1.2h-1.2zM88.3 52.8h1.2v1.2h-1.2zM88.3 60.3h1.2v1.2h-1.2zM80.2 77.5h1.2v1.2h-1.2zM78.6 71.8h1.2v1.2h-1.2zM78.1 68.6h1.2v1.2h-1.2zM83.8 48.7h1.2v1.2h-1.2zM79.6 65.3h1.2v1.2h-1.2zM73.0 90.4h1.2v1.2h-1.2zM87.5 49.3h1.2v1.2h-1.2zM92.6 68.9h1.2v1.2h-1.2zM74.8 78.3h1.2v1.2h-1.2zM89.3 63.5h1.2v1.2h-1.2zM90.0 59.3h1.2v1.2h-1.2zM76.9 83.5h1.2v1.2h-1.2zM78.4 73.0h1.2v1.2h-1.2zM66.9 73.9h1.2v1.2h-1.2zM81.4 58.9h1.2v1.2h-1.2zM70.7 76.7h1.2v1.2h-1.2zM90.5 56.3h1.2v1.2h-1.2zM75.8 75.7h1.2v1.2h-1.2zM76.5 64.5h1.2v1.2h-1.2zM73.1 75.4h1.2v1.2h-1.2zM80.5 65.9h1.2v1.2h-1.2zM80.9 67.4h1.2v1.2h-1.2zM88.4 53.5h1.2v1.2h-1.2zM71.5 70.0h1.2v1.2h-1.2zM92.4 49.0h1.2v1.2h-1.2zM77.4 84.7h1.2v1.2h-1.2zM83.6 63.4h1.2v1.2h-1.2zM70.6 76.2h1.2v1.2h-1.2zM78.3 75.4h1.2v1.2h-1.2zM72.7 72.5h1.2v1.2h-1.2zM75.2 58.9h1.2v1.2h-1.2zM70.5 66.9h1.2v1.2h-1.2zM90.8 50.7h1.2v1.2h-1.2zM87.6 51.0h1.2v1.2h-1.2zM74.5 74.9h1.2v1.2h-1.2zM73.8 83.3h1.2v1.2h-1.2zM86.8 75.2h1.2v1.2h-1.2zM89.0 47.3h1.2v1.2h-1.2zM96.0 60.6h1.2v1.2h-1.2zM72.0 76.7h1.2v1.2h-1.2zM76.2 78.3h1.2v1.2h-1.2zM85.1 68.2h1.2v1.2h-1.2zM69.1 72.4h1.2v1.2h-1.2zM80.8 60.1h1.2v1.2h-1.2zM83.8 69.2h1.2v1.2h-1.2zM68.8 79.0h1.2v1.2h-1.2zM75.2 84.9h1.2v1.2h-1.2zM82.8 62.0h1.2v1.2h-1.2zM83.6 65.5h1.2v1.2h-1.2zM84.3 63.9h1.2v1.2h-1.2zM85.7 62.9h1.2v1.2h-1.2zM84.2 55.6h1.2v1.2h-1.2zM88.9 51.0h1.2v1.2h-1.2zM83.5 47.2h1.2v1.2h-1.2zM81.2 58.6h1.2v1.2h-1.2zM91.3 37.7h1.2v1.2h-1.2zM86.5 60.1h1.2v1.2h-1.2zM84.4 67.1h1.2v1.2h-1.2zM85.4 60.7h1.2v1.2h-1.2zM82.9 47.4h1.2v1.2h-1.2zM82.8 43.3h1.2v1.2h-1.2zM89.4 51.9h1.2v1.2h-1.2zM83.5 61.3h1.2v1.2h-1.2zM77.8 54.9h1.2v1.2h-1.2zM84.8 54.0h1.2v1.2h-1.2zM83.2 53.2h1.2v1.2h-1.2zM79.8 75.1h1.2v1.2h-1.2zM87.9 48.4h1.2v1.2h-1.2zM73.0 46.6h1.2v1.2h-1.2zM84.5 58.5h1.2v1.2h-1.2zM79.6 65.4h1.2v1.2h-1.2zM88.9 63.2h1.2v1.2h-1.2zM85.8 58.5h1.2v1.2h-1.2zM94.1 49.9h1.2v1.2h-1.2zM80.5 61.1h1.2v1.2h-1.2zM81.2 68.6h1.2v1.2h-1.2zM83.2 48.2h1.2v1.2h-1.2zM86.2 51.7h1.2v1.2h-1.2zM85.4 60.6h1.2v1.2h-1.2zM86.3 57.8h1.2v1.2h-1.2zM93.9 42.5h1.2v1.2h-1.2zM87.5 52.3h1.2v1.2h-1.2zM77.8 58.2h1.2v1.2h-1.2zM95.8 63.7h1.2v1.2h-1.2zM89.3 47.2h1.2v1.2h-1.2zM84.3 59.0h1.2v1.2h-1.2zM84.1 50.7h1.2v1.2h-1.2zM86.0 44.9h1.2v1.2h-1.2zM90.8 57.3h1.2v1.2h-1.2zM96.6 59.7h1.2v1.2h-1.2zM83.4 59.1h1.2v1.2h-1.2zM82.3 60.6h1.2v1.2h-1.2zM85.7 49.9h1.2v1.2h-1.2zM79.5 68.6h1.2v1.2h-1.2zM82.8 59.7h1.2v1.2h-1.2zM87.8 63.6h1.2v1.2h-1.2zM92.1 61.5h1.2v1.2h-1.2zM85.1 56.8h1.2v1.2h-1.2zM90.8 54.8h1.2v1.2h-1.2zM86.1 61.6h1.2v1.2h-1.2zM86.6 53.9h1.2v1.2h-1.2zM84.5 57.4h1.2v1.2h-1.2zM78.4 61.5h1.2v1.2h-1.2zM90.8 45.6h1.2v1.2h-1.2zM85.6 74.8h1.2v1.2h-1.2zM93.5 58.6h1.2v1.2h-1.2zM96.5 60.6h1.2v1.2h-1.2zM90.1 62.2h1.2v1.2h-1.2zM91.6 47.8h1.2v1.2h-1.2zM81.6 46.6h1.2v1.2h-1.2zM97.7 59.0h1.2v1.2h-1.2zM81.0 55.0h1.2v1.2h-1.2zM84.3 69.4h1.2v1.2h-1.2zM81.6 55.2h1.2v1.2h-1.2zM79.7 48.4h1.2v1.2h-1.2zM87.8 58.7h1.2v1.2h-1.2zM91.7 64.8h1.2v1.2h-1.2zM88.8 68.3h1.2v1.2h-1.2zM84.6 52.0h1.2v1.2h-1.2zM83.7 58.2h1.2v1.2h-1.2zM88.6 44.8h1.2v1.2h-1.2zM91.3 53.5h1.2v1.2h-1.2zM84.9 69.0h1.2v1.2h-1.2zM93.0 41.9h1.2v1.2h-1.2zM77.1 50.1h1.2v1.2h-1.2zM85.8 51.5h1.2v1.2h-1.2zM87.2 58.8h1.2v1.2h-1.2zM85.9 57.5h1.2v1.2h-1.2zM90.7 59.4h1.2v1.2h-1.2zM83.7 51.9h1.2v1.2h-1.2zM88.6 53.7h1.2v1.2h-1.2zM87.1 45.2h1.2v1.2h-1.2zM90.5 55.5h1.2v1.2h-1.2zM85.1 51.9h1.2v1.2h-1.2zM78.2 61.5h1.2v1.2h-1.2zM83.0 55.8h1.2v1.2h-1.2zM84.4 37.2h1.2v1.2h-1.2zM89.0 53.9h1.2v1.2h-1.2zM95.2 57.2h1.2v1.2h-1.2zM84.6 47.2h1.2v1.2h-1.2zM89.4 49.7h1.2v1.2h-1.2zM90.9 60.2h1.2v1.2h-1.2zM83.2 63.1h1.2v1.2h-1.2zM86.4 49.1h1.2v1.2h-1.2zM81.6 61.6h1.2v1.2h-1.2zM80.4 41.0h1.2v1.2h-1.2zM89.2 55.5h1.2v1.2h-1.2zM80.9 65.6h1.2v1.2h-1.2zM83.3 57.0h1.2v1.2h-1.2zM80.7 59.1h1.2v1.2h-1.2zM91.0 57.1h1.2v1.2h-1.2zM86.4 74.3h1.2v1.2h-1.2zM84.8 58.4h1.2v1.2h-1.2zM83.1 68.5h1.2v1.2h-1.2zM85.6 65.6h1.2v1.2h-1.2zM83.7 70.2h1.2v1.2h-1.2zM85.6 49.8h1.2v1.2h-1.2zM82.5 54.6h1.2v1.2h-1.2zM79.7 52.5h1.2v1.2h-1.2zM88.2 60.4h1.2v1.2h-1.2zM89.6 64.4h1.2v1.2h-1.2zM86.1 43.5h1.2v1.2h-1.2zM85.8 66.4h1.2v1.2h-1.2zM90.7 52.9h1.2v1.2h-1.2zM84.8 72.0h1.2v1.2h-1.2zM78.2 69.6h1.2v1.2h-1.2zM92.1 54.9h1.2v1.2h-1.2zM82.4 47.9h1.2v1.2h-1.2zM92.0 64.1h1.2v1.2h-1.2zM87.9 70.6h1.2v1.2h-1.2zM87.5 42.5h1.2v1.2h-1.2zM80.1 56.8h1.2v1.2h-1.2zM83.3 58.0h1.2v1.2h-1.2zM86.3 55.0h1.2v1.2h-1.2zM89.6 53.1h1.2v1.2h-1.2zM90.3 49.0h1.2v1.2h-1.2zM90.5 62.7h1.2v1.2h-1.2zM87.6 60.3h1.2v1.2h-1.2zM82.5 41.3h1.2v1.2h-1.2zM87.2 56.9h1.2v1.2h-1.2zM77.2 59.1h1.2v1.2h-1.2zM89.1 58.9h1.2v1.2h-1.2zM83.7 45.3h1.2v1.2h-1.2zM84.7 59.9h1.2v1.2h-1.2zM85.5 59.2h1.2v1.2h-1.2zM90.3 52.6h1.2v1.2h-1.2zM85.7 60.2h1.2v1.2h-1.2zM85.0 43.5h1.2v1.2h-1.2zM84.7 51.9h1.2v1.2h-1.2zM79.4 54.6h1.2v1.2h-1.2zM88.8 46.9h1.2v1.2h-1.2zM87.3 52.5h1.2v1.2h-1.2zM87.3 48.6h1.2v1.2h-1.2zM94.4 55.6h1.2v1.2h-1.2zM82.6 52.4h1.2v1.2h-1.2zM85.5 52.1h1.2v1.2h-1.2zM89.2 56.0h1.2v1.2h-1.2zM84.1 54.8h1.2v1.2h-1.2zM80.8 55.0h1.2v1.2h-1.2zM82.3 53.6h1.2v1.2h-1.2zM86.4 59.0h1.2v1.2h-1.2zM81.0 56.8h1.2v1.2h-1.2zM83.1 58.4h1.2v1.2h-1.2zM88.8 49.5h1.2v1.2h-1.2zM80.6 49.7h1.2v1.2h-1.2zM91.6 48.1h1.2v1.2h-1.2zM87.1 58.0h1.2v1.2h-1.2zM93.2 59.8h1.2v1.2h-1.2zM79.6 56.5h1.2v1.2h-1.2zM87.1 65.6h1.2v1.2h-1.2zM80.9 41.2h1.2v1.2h-1.2zM86.4 50.9h1.2v1.2h-1.2zM83.5 69.5h1.2v1.2h-1.2zM85.2 46.4h1.2v1.2h-1.2zM83.2 71.7h1.2v1.2h-1.2zM85.2 59.5h1.2v1.2h-1.2zM86.0 65.7h1.2v1.2h-1.2zM84.7 61.6h1.2v1.2h-1.2zM89.6 56.0h1.2v1.2h-1.2zM89.6 57.6h1.2v1.2h-1.2zM77.1 73.1h1.2v1.2h-1.2zM88.2 50.1h1.2v1.2h-1.2zM89.6 57.8h1.2v1.2h-1.2zM78.5 61.2h1.2v1.2h-1.2zM87.6 46.1h1.2v1.2h-1.2zM84.5 61.8h1.2v1.2h-1.2zM82.7 49.0h1.2v1.2h-1.2zM89.5 72.0h1.2v1.2h-1.2zM91.0 64.7h1.2v1.2h-1.2zM79.8 70.1h1.2v1.2h-1.2zM82.9 38.5h1.2v1.2h-1.2zM96.5 67.3h1.2v1.2h-1.2zM83.2 55.9h1.2v1.2h-1.2zM87.7 61.1h1.2v1.2h-1.2zM79.4 60.6h1.2v1.2h-1.2zM83.1 71.7h1.2v1.2h-1.2zM86.5 69.1h1.2v1.2h-1.2zM78.7 44.9h1.2v1.2h-1.2zM89.8 45.5h1.2v1.2h-1.2zM76.2 72.0h1.2v1.2h-1.2zM75.4 76.3h1.2v1.2h-1.2zM78.5 68.9h1.2v1.2h-1.2zM74.6 78.6h1.2v1.2h-1.2zM75.3 62.7h1.2v1.2h-1.2zM81.2 66.2h1.2v1.2h-1.2zM74.4 69.5h1.2v1.2h-1.2zM77.8 69.2h1.2v1.2h-1.2zM79.7 73.1h1.2v1.2h-1.2zM67.1 81.1h1.2v1.2h-1.2zM72.4 76.4h1.2v1.2h-1.2zM78.2 65.2h1.2v1.2h-1.2zM75.8 67.7h1.2v1.2h-1.2zM76.0 69.3h1.2v1.2h-1.2zM74.0 72.0h1.2v1.2h-1.2zM80.2 71.3h1.2v1.2h-1.2zM75.6 64.7h1.2v1.2h-1.2zM79.4 71.9h1.2v1.2h-1.2zM76.7 74.7h1.2v1.2h-1.2zM76.2 68.7h1.2v1.2h-1.2zM75.7 69.4h1.2v1.2h-1.2zM77.1 81.6h1.2v1.2h-1.2zM72.7 69.8h1.2v1.2h-1.2zM73.9 74.5h1.2v1.2h-1.2zM74.9 62.8h1.2v1.2h-1.2zM74.9 73.1h1.2v1.2h-1.2zM74.0 75.5h1.2v1.2h-1.2zM77.6 74.6h1.2v1.2h-1.2zM79.2 66.0h1.2v1.2h-1.2zM77.9 65.4h1.2v1.2h-1.2zM75.4 78.1h1.2v1.2h-1.2zM75.5 67.2h1.2v1.2h-1.2zM70.0 75.7h1.2v1.2h-1.2zM79.8 68.1h1.2v1.2h-1.2zM80.8 67.1h1.2v1.2h-1.2zM76.0 68.2h1.2v1.2h-1.2zM78.9 70.3h1.2v1.2h-1.2zM75.0 68.7h1.2v1.2h-1.2zM74.6 59.2h1.2v1.2h-1.2zM72.9 77.0h1.2v1.2h-1.2zM70.9 65.4h1.2v1.2h-1.2zM74.2 69.4h1.2v1.2h-1.2zM75.0 68.9h1.2v1.2h-1.2zM70.3 69.7h1.2v1.2h-1.2zM73.6 65.2h1.2v1.2h-1.2zM78.1 75.9h1.2v1.2h-1.2zM72.1 67.5h1.2v1.2h-1.2zM80.2 66.6h1.2v1.2h-1.2zM75.2 65.1h1.2v1.2h-1.2zM66.9 72.6h1.2v1.2h-1.2zM70.8 95.9h1.2v1.2h-1.2zM66.9 101.0h1.2v1.2h-1.2zM80.8 89.5h1.2v1.2h-1.2zM76.8 89.0h1.2v1.2h-1.2zM75.0 91.4h1.2v1.2h-1.2zM74.9 93.9h1.2v1.2h-1.2zM68.8 102.5h1.2v1.2h-1.2zM71.2 100.5h1.2v1.2h-1.2zM80.3 88.4h1.2v1.2h-1.2zM83.7 88.4h1.2v1.2h-1.2zM68.4 98.1h1.2v1.2h-1.2zM76.0 86.6h1.2v1.2h-1.2zM75.6 91.3h1.2v1.2h-1.2zM72.6 93.0h1.2v1.2h-1.2zM81.5 86.2h1.2v1.2h-1.2zM73.0 92.1h1.2v1.2h-1.2zM69.9 97.5h1.2v1.2h-1.2zM82.4 83.1h1.2v1.2h-1.2zM75.0 94.3h1.2v1.2h-1.2zM65.9 103.3h1.2v1.2h-1.2zM72.4 94.5h1.2v1.2h-1.2zM79.0 86.3h1.2v1.2h-1.2zM70.9 97.6h1.2v1.2h-1.2zM67.4 100.0h1.2v1.2h-1.2zM73.6 98.5h1.2v1.2h-1.2zM81.5 88.2h1.2v1.2h-1.2zM68.2 100.2h1.2v1.2h-1.2zM66.4 98.7h1.2v1.2h-1.2zM68.3 105.6h1.2v1.2h-1.2zM68.5 100.0h1.2v1.2h-1.2zM73.5 96.0h1.2v1.2h-1.2zM69.2 99.4h1.2v1.2h-1.2zM69.9 102.2h1.2v1.2h-1.2zM78.3 85.3h1.2v1.2h-1.2zM72.8 93.6h1.2v1.2h-1.2zM70.2 98.1h1.2v1.2h-1.2zM65.7 100.0h1.2v1.2h-1.2zM80.8 86.3h1.2v1.2h-1.2zM79.2 84.4h1.2v1.2h-1.2zM69.5 96.7h1.2v1.2h-1.2zM77.0 95.4h1.2v1.2h-1.2zM73.7 94.2h1.2v1.2h-1.2zM82.7 83.7h1.2v1.2h-1.2zM68.3 99.7h1.2v1.2h-1.2zM77.3 90.3h1.2v1.2h-1.2zM71.5 96.7h1.2v1.2h-1.2zM76.1 88.9h1.2v1.2h-1.2zM80.8 82.2h1.2v1.2h-1.2zM81.7 88.8h1.2v1.2h-1.2zM72.2 91.8h1.2v1.2h-1.2zM67.1 95.3h1.2v1.2h-1.2zM73.9 92.5h1.2v1.2h-1.2zM71.1 97.8h1.2v1.2h-1.2zM78.4 91.6h1.2v1.2h-1.2zM69.8 96.7h1.2v1.2h-1.2zM19.5 63.6h1.2v1.2h-1.2zM21.4 60.1h1.2v1.2h-1.2zM17.8 61.7h1.2v1.2h-1.2zM17.6 58.3h1.2v1.2h-1.2zM19.0 61.1h1.2v1.2h-1.2zM17.2 58.1h1.2v1.2h-1.2zM18.8 62.9h1.2v1.2h-1.2zM21.8 60.8h1.2v1.2h-1.2zM18.0 59.5h1.2v1.2h-1.2zM17.8 61.7h1.2v1.2h-1.2zM20.7 63.8h1.2v1.2h-1.2zM18.4 61.6h1.2v1.2h-1.2zM19.5 63.6h1.2v1.2h-1.2zM16.6 62.1h1.2v1.2h-1.2zM17.0 61.1h1.2v1.2h-1.2zM18.6 61.1h1.2v1.2h-1.2zM19.1 63.7h1.2v1.2h-1.2zM18.1 61.0h1.2v1.2h-1.2zM21.2 60.8h1.2v1.2h-1.2zM18.9 57.3h1.2v1.2h-1.2zM17.9 58.7h1.2v1.2h-1.2zM20.0 63.9h1.2v1.2h-1.2zM18.7 59.8h1.2v1.2h-1.2zM16.6 58.5h1.2v1.2h-1.2zM17.8 60.5h1.2v1.2h-1.2zM18.4 60.6h1.2v1.2h-1.2zM17.3 58.2h1.2v1.2h-1.2zM17.2 58.0h1.2v1.2h-1.2zM18.2 63.3h1.2v1.2h-1.2zM20.3 61.2h1.2v1.2h-1.2zM19.1 93.7h1.2v1.2h-1.2zM19.2 91.5h1.2v1.2h-1.2zM17.8 93.8h1.2v1.2h-1.2zM17.6 93.4h1.2v1.2h-1.2zM22.3 89.6h1.2v1.2h-1.2zM18.6 93.5h1.2v1.2h-1.2zM19.5 90.3h1.2v1.2h-1.2zM18.3 91.6h1.2v1.2h-1.2zM22.2 91.8h1.2v1.2h-1.2zM18.8 88.8h1.2v1.2h-1.2zM19.5 91.4h1.2v1.2h-1.2zM17.5 89.2h1.2v1.2h-1.2zM20.3 92.0h1.2v1.2h-1.2zM19.5 88.5h1.2v1.2h-1.2zM19.5 91.6h1.2v1.2h-1.2zM20.1 91.1h1.2v1.2h-1.2zM22.0 91.9h1.2v1.2h-1.2zM18.8 92.8h1.2v1.2h-1.2zM20.1 94.0h1.2v1.2h-1.2zM18.5 94.5h1.2v1.2h-1.2zM19.5 91.8h1.2v1.2h-1.2zM19.2 92.5h1.2v1.2h-1.2zM17.7 90.9h1.2v1.2h-1.2zM14.4 93.5h1.2v1.2h-1.2zM23.6 90.8h1.2v1.2h-1.2zM23.3 87.4h1.2v1.2h-1.2zM20.1 93.3h1.2v1.2h-1.2zM20.8 93.1h1.2v1.2h-1.2zM19.9 90.8h1.2v1.2h-1.2zM23.5 91.6h1.2v1.2h-1.2zM19.4 91.8h1.2v1.2h-1.2zM25.3 91.5h1.2v1.2h-1.2zM21.8 92.9h1.2v1.2h-1.2zM18.9 85.7h1.2v1.2h-1.2zM17.8 90.2h1.2v1.2h-1.2zM21.1 90.1h1.2v1.2h-1.2zM22.1 91.8h1.2v1.2h-1.2zM23.3 90.6h1.2v1.2h-1.2zM19.3 90.2h1.2v1.2h-1.2zM20.1 91.6h1.2v1.2h-1.2zM21.1 92.9h1.2v1.2h-1.2zM20.8 91.9h1.2v1.2h-1.2zM13.9 89.1h1.2v1.2h-1.2zM19.6 91.8h1.2v1.2h-1.2zM18.9 94.4h1.2v1.2h-1.2zM16.8 90.3h1.2v1.2h-1.2zM19.1 89.0h1.2v1.2h-1.2zM24.3 92.3h1.2v1.2h-1.2zM16.2 88.6h1.2v1.2h-1.2zM21.2 87.9h1.2v1.2h-1.2zM15.7 80.2h1.2v1.2h-1.2zM15.5 78.1h1.2v1.2h-1.2zM15.4 87.1h1.2v1.2h-1.2zM17.2 79.0h1.2v1.2h-1.2zM16.0 79.6h1.2v1.2h-1.2zM16.0 86.9h1.2v1.2h-1.2zM12.5 82.8h1.2v1.2h-1.2zM14.6 82.9h1.2v1.2h-1.2zM12.8 81.7h1.2v1.2h-1.2zM13.5 76.2h1.2v1.2h-1.2zM15.1 82.6h1.2v1.2h-1.2zM15.5 79.1h1.2v1.2h-1.2zM15.5 85.7h1.2v1.2h-1.2zM15.4 84.8h1.2v1.2h-1.2zM13.9 82.5h1.2v1.2h-1.2zM15.5 79.5h1.2v1.2h-1.2zM14.3 82.2h1.2v1.2h-1.2zM14.3 87.3h1.2v1.2h-1.2zM15.6 82.6h1.2v1.2h-1.2zM17.0 86.1h1.2v1.2h-1.2zM14.5 75.6h1.2v1.2h-1.2zM14.8 86.5h1.2v1.2h-1.2zM61.1 62.6h1.2v1.2h-1.2zM12.9 83.0h1.2v1.2h-1.2zM71.6 94.9h1.2v1.2h-1.2zM71.3 74.0h1.2v1.2h-1.2zM17.7 88.4h1.2v1.2h-1.2zM83.4 58.7h1.2v1.2h-1.2zM26.6 89.3h1.2v1.2h-1.2zM51.7 87.1h1.2v1.2h-1.2zM50.8 75.4h1.2v1.2h-1.2zM48.0 55.4h1.2v1.2h-1.2zM94.2 76.6h1.2v1.2h-1.2zM88.2 64.0h1.2v1.2h-1.2zM41.2 53.4h1.2v1.2h-1.2zM60.4 94.7h1.2v1.2h-1.2zM34.0 82.8h1.2v1.2h-1.2zM67.6 90.4h1.2v1.2h-1.2zM51.2 57.0h1.2v1.2h-1.2zM64.5 63.3h1.2v1.2h-1.2zM7.6 74.5h1.2v1.2h-1.2zM87.0 93.5h1.2v1.2h-1.2zM81.2 77.3h1.2v1.2h-1.2zM42.0 48.0h1.2v1.2h-1.2zM72.0 67.9h1.2v1.2h-1.2zM44.6 85.4h1.2v1.2h-1.2zM39.9 81.9h1.2v1.2h-1.2zM82.8 62.6h1.2v1.2h-1.2zM12.6 50.4h1.2v1.2h-1.2zM57.1 75.9h1.2v1.2h-1.2zM64.4 81.3h1.2v1.2h-1.2zM85.1 52.3h1.2v1.2h-1.2zM41.2 83.8h1.2v1.2h-1.2zM29.5 74.2h1.2v1.2h-1.2zM83.2 83.5h1.2v1.2h-1.2zM64.3 85.7h1.2v1.2h-1.2zM23.7 61.5h1.2v1.2h-1.2zM58.5 73.9h1.2v1.2h-1.2zM23.6 85.8h1.2v1.2h-1.2zM30.6 77.4h1.2v1.2h-1.2zM73.2 88.5h1.2v1.2h-1.2zM74.0 57.1h1.2v1.2h-1.2zM40.7 48.7h1.2v1.2h-1.2zM56.4 69.1h1.2v1.2h-1.2zM58.9 81.0h1.2v1.2h-1.2zM88.1 89.9h1.2v1.2h-1.2zM8.0 55.9h1.2v1.2h-1.2zM43.5 77.9h1.2v1.2h-1.2zM88.1 59.8h1.2v1.2h-1.2zM8.0 85.4h1.2v1.2h-1.2zM62.8 89.3h1.2v1.2h-1.2zM81.2 65.0h1.2v1.2h-1.2zM18.9 67.7h1.2v1.2h-1.2zM29.6 83.9h1.2v1.2h-1.2zM10.5 65.9h1.2v1.2h-1.2zM54.3 67.6h1.2v1.2h-1.2zM91.0 69.0h1.2v1.2h-1.2zM40.4 64.4h1.2v1.2h-1.2zM64.2 86.5h1.2v1.2h-1.2zM20.6 58.2h1.2v1.2h-1.2zM11.1 93.3h1.2v1.2h-1.2zM19.1 84.7h1.2v1.2h-1.2zM11.5 76.7h1.2v1.2h-1.2zM89.7 78.6h1.2v1.2h-1.2zM68.8 66.8h1.2v1.2h-1.2zM12.1 62.5h1.2v1.2h-1.2zM15.0 90.8h1.2v1.2h-1.2zM88.3 52.0h1.2v1.2h-1.2zM74.3 85.9h1.2v1.2h-1.2zM52.7 87.9h1.2v1.2h-1.2zM65.7 87.9h1.2v1.2h-1.2zM81.8 74.0h1.2v1.2h-1.2zM34.0 91.2h1.2v1.2h-1.2zM93.1 62.8h1.2v1.2h-1.2zM37.9 86.8h1.2v1.2h-1.2zM25.9 68.6h1.2v1.2h-1.2zM38.8 72.1h1.2v1.2h-1.2zM49.8 82.7h1.2v1.2h-1.2zM32.5 94.8h1.2v1.2h-1.2zM17.5 85.2h1.2v1.2h-1.2zM50.6 66.8h1.2v1.2h-1.2zM67.6 56.2h1.2v1.2h-1.2zM26.9 72.8h1.2v1.2h-1.2zM36.5 62.8h1.2v1.2h-1.2zM86.8 57.4h1.2v1.2h-1.2zM42.3 91.3h1.2v1.2h-1.2zM47.9 69.7h1.2v1.2h-1.2zM92.0 59.9h1.2v1.2h-1.2zM15.3 81.3h1.2v1.2h-1.2zM82.5 68.7h1.2v1.2h-1.2zM34.1 78.7h1.2v1.2h-1.2zM68.8 73.9h1.2v1.2h-1.2zM53.0 67.4h1.2v1.2h-1.2zM73.5 94.8h1.2v1.2h-1.2zM30.6 74.3h1.2v1.2h-1.2zM11.6 56.0h1.2v1.2h-1.2zM90.7 77.1h1.2v1.2h-1.2zM39.4 89.8h1.2v1.2h-1.2zM14.1 96.2h1.2v1.2h-1.2zM17.7 82.1h1.2v1.2h-1.2zM16.0 80.2h1.2v1.2h-1.2zM77.8 88.3h1.2v1.2h-1.2zM43.9 46.9h1.2v1.2h-1.2zM35.8 77.3h1.2v1.2h-1.2zM55.0 86.9h1.2v1.2h-1.2zM80.1 81.9h1.2v1.2h-1.2zM70.1 69.9h1.2v1.2h-1.2zM52.2 83.6h1.2v1.2h-1.2zM55.6 76.4h1.2v1.2h-1.2zM79.6 75.5h1.2v1.2h-1.2zM47.1 59.8h1.2v1.2h-1.2zM56.8 51.9h1.2v1.2h-1.2zM73.2 75.4h1.2v1.2h-1.2zM88.7 93.1h1.2v1.2h-1.2zM12.2 78.3h1.2v1.2h-1.2zM63.9 67.2h1.2v1.2h-1.2zM26.8 67.0h1.2v1.2h-1.2zM22.7 72.9h1.2v1.2h-1.2zM55.3 88.8h1.2v1.2h-1.2zM8.3 70.1h1.2v1.2h-1.2zM54.3 74.4h1.2v1.2h-1.2zM12.2 68.3h1.2v1.2h-1.2zM20.6 80.9h1.2v1.2h-1.2zM48.5 69.5h1.2v1.2h-1.2zM21.8 76.8h1.2v1.2h-1.2zM36.0 101.8h1.2v1.2h-1.2zM13.6 68.7h1.2v1.2h-1.2zM65.1 75.5h1.2v1.2h-1.2zM74.6 102.6h1.2v1.2h-1.2zM20.3 71.2h1.2v1.2h-1.2zM71.4 50.2h1.2v1.2h-1.2zM82.9 90.2h1.2v1.2h-1.2zM46.1 100.5h1.2v1.2h-1.2zM41.0 76.2h1.2v1.2h-1.2zM29.9 65.3h1.2v1.2h-1.2zM19.7 72.4h1.2v1.2h-1.2zM90.0 78.8h1.2v1.2h-1.2zM94.1 62.5h1.2v1.2h-1.2zM68.8 80.1h1.2v1.2h-1.2zM39.7 71.7h1.2v1.2h-1.2zM33.1 60.8h1.2v1.2h-1.2zM93.9 78.7h1.2v1.2h-1.2zM31.3 46.5h1.2v1.2h-1.2zM13.9 65.7h1.2v1.2h-1.2zM77.4 83.4h1.2v1.2h-1.2zM81.6 80.5h1.2v1.2h-1.2zM45.4 57.0h1.2v1.2h-1.2zM91.3 76.0h1.2v1.2h-1.2zM90.2 89.0h1.2v1.2h-1.2zM72.1 59.7h1.2v1.2h-1.2zM65.6 53.8h1.2v1.2h-1.2zM75.1 71.2h1.2v1.2h-1.2zM24.4 70.1h1.2v1.2h-1.2zM55.7 71.4h1.2v1.2h-1.2zM16.6 66.2h1.2v1.2h-1.2zM95.9 85.7h1.2v1.2h-1.2zM72.6 82.0h1.2v1.2h-1.2zM45.2 70.5h1.2v1.2h-1.2zM61.3 55.8h1.2v1.2h-1.2zM36.1 96.1h1.2v1.2h-1.2zM9.3 84.8h1.2v1.2h-1.2zM64.9 92.0h1.2v1.2h-1.2zM78.8 67.0h1.2v1.2h-1.2zM80.4 91.8h1.2v1.2h-1.2zM18.3 55.3h1.2v1.2h-1.2zM15.6 80.9h1.2v1.2h-1.2zM22.2 81.5h1.2v1.2h-1.2zM90.7 83.2h1.2v1.2h-1.2zM32.1 90.2h1.2v1.2h-1.2zM91.0 72.8h1.2v1.2h-1.2zM34.3 57.3h1.2v1.2h-1.2zM57.9 87.9h1.2v1.2h-1.2zM91.5 57.5h1.2v1.2h-1.2zM55.8 89.3h1.2v1.2h-1.2zM11.1 70.6h1.2v1.2h-1.2zM17.6 54.9h1.2v1.2h-1.2zM64.5 81.9h1.2v1.2h-1.2zM80.5 63.2h1.2v1.2h-1.2zM82.1 74.5h1.2v1.2h-1.2zM55.0 89.0h1.2v1.2h-1.2zM95.1 57.7h1.2v1.2h-1.2zM14.2 82.6h1.2v1.2h-1.2zM87.6 67.8h1.2v1.2h-1.2zM65.9 72.3h1.2v1.2h-1.2zM24.7 73.8h1.2v1.2h-1.2zM21.9 94.9h1.2v1.2h-1.2zM88.2 54.4h1.2v1.2h-1.2zM94.8 74.5h1.2v1.2h-1.2zM78.6 99.1h1.2v1.2h-1.2zM90.8 70.0h1.2v1.2h-1.2zM69.2 62.9h1.2v1.2h-1.2zM69.9 67.7h1.2v1.2h-1.2zM39.8 66.8h1.2v1.2h-1.2zM19.8 61.3h1.2v1.2h-1.2zM49.5 56.5h1.2v1.2h-1.2zM26.2 61.5h1.2v1.2h-1.2zM90.6 59.3h1.2v1.2h-1.2zM64.6 62.3h1.2v1.2h-1.2zM24.9 86.2h1.2v1.2h-1.2zM62.1 86.5h1.2v1.2h-1.2zM23.7 99.7h1.2v1.2h-1.2zM62.3 70.5h1.2v1.2h-1.2zM28.9 88.3h1.2v1.2h-1.2zM11.9 50.2h1.2v1.2h-1.2zM49.8 88.6h1.2v1.2h-1.2zM7.4 75.4h1.2v1.2h-1.2zM16.7 66.1h1.2v1.2h-1.2zM33.2 86.7h1.2v1.2h-1.2zM47.4 69.0h1.2v1.2h-1.2zM81.1 72.4h1.2v1.2h-1.2zM74.9 70.4h1.2v1.2h-1.2zM14.0 63.1h1.2v1.2h-1.2zM35.5 96.7h1.2v1.2h-1.2zM52.3 77.2h1.2v1.2h-1.2zM82.8 56.7h1.2v1.2h-1.2zM11.0 74.4h1.2v1.2h-1.2zM19.2 77.6h1.2v1.2h-1.2zM87.4 80.6h1.2v1.2h-1.2zM12.0 32.1h1.2v1.2h-1.2zM43.4 59.0h1.2v1.2h-1.2zM56.7 79.8h1.2v1.2h-1.2zM37.1 78.1h1.2v1.2h-1.2zM40.1 76.1h1.2v1.2h-1.2zM69.1 97.8h1.2v1.2h-1.2zM22.7 67.0h1.2v1.2h-1.2zM68.8 90.4h1.2v1.2h-1.2zM82.1 70.2h1.2v1.2h-1.2zM15.7 83.9h1.2v1.2h-1.2zM74.5 81.1h1.2v1.2h-1.2zM70.9 81.0h1.2v1.2h-1.2zM75.4 70.3h1.2v1.2h-1.2zM69.7 94.9h1.2v1.2h-1.2zM91.8 83.0h1.2v1.2h-1.2zM29.0 83.3h1.2v1.2h-1.2zM30.9 97.0h1.2v1.2h-1.2zM87.7 87.4h1.2v1.2h-1.2zM59.1 43.1h1.2v1.2h-1.2zM93.9 56.6h1.2v1.2h-1.2zM40.2 89.9h1.2v1.2h-1.2zM48.0 95.1h1.2v1.2h-1.2zM44.3 87.0h1.2v1.2h-1.2zM87.3 70.8h1.2v1.2h-1.2zM20.1 58.2h1.2v1.2h-1.2zM22.4 75.3h1.2v1.2h-1.2zM58.0 70.2h1.2v1.2h-1.2zM62.5 93.4h1.2v1.2h-1.2zM63.5 38.9h1.2v1.2h-1.2zM31.2 46.3h1.2v1.2h-1.2zM26.7 49.9h1.2v1.2h-1.2zM84.8 50.4h1.2v1.2h-1.2zM67.0 45.3h1.2v1.2h-1.2zM72.3 35.0h1.2v1.2h-1.2zM83.3 33.0h1.2v1.2h-1.2zM92.9 44.9h1.2v1.2h-1.2zM94.4 37.2h1.2v1.2h-1.2zM44.7 46.4h1.2v1.2h-1.2zM61.9 35.5h1.2v1.2h-1.2zM32.2 34.6h1.2v1.2h-1.2zM72.2 40.8h1.2v1.2h-1.2zM53.7 45.2h1.2v1.2h-1.2zM53.7 38.2h1.2v1.2h-1.2zM56.2 38.3h1.2v1.2h-1.2zM86.6 51.4h1.2v1.2h-1.2zM26.5 33.5h1.2v1.2h-1.2zM38.8 36.2h1.2v1.2h-1.2zM53.6 48.5h1.2v1.2h-1.2zM26.1 44.3h1.2v1.2h-1.2zM67.2 52.1h1.2v1.2h-1.2zM26.0 47.2h1.2v1.2h-1.2zM86.9 37.5h1.2v1.2h-1.2zM43.2 44.8h1.2v1.2h-1.2zM54.4 38.4h1.2v1.2h-1.2zM45.2 45.8h1.2v1.2h-1.2zM60.5 48.3h1.2v1.2h-1.2z"/>
<g id="bl"><path d="M49.0 30.2v81.2" stroke="#8c8cff" stroke-width="1.5" fill="none"/><path d="M53.2 30.2v81.2M0 102.6h101.9" stroke="#6a6aff" stroke-width="0.95" fill="none"/></g>
<g id="fr"><rect x="0" y="30.2" width="101.9" height="81.2" fill="none" stroke="#000" stroke-width="1.15"/><path d="M8.8 30.2v1.7M8.8 111.4v-1.7M19.5 30.2v1.1M19.5 111.4v-1.1M30.1 30.2v1.7M30.1 111.4v-1.7M40.7 30.2v1.1M40.7 111.4v-1.1M51.3 30.2v1.7M51.3 111.4v-1.7M61.9 30.2v1.1M61.9 111.4v-1.1M72.5 30.2v1.7M72.5 111.4v-1.7M83.1 30.2v1.1M83.1 111.4v-1.1M93.8 30.2v1.7M93.8 111.4v-1.7M0 101.2h1.2M101.9 101.2h-1.2M0 91.1h1.8M101.9 91.1h-1.8M0 80.9h1.2M101.9 80.9h-1.2M0 70.8h1.8M101.9 70.8h-1.8M0 60.6h1.2M101.9 60.6h-1.2M0 50.5h1.8M101.9 50.5h-1.8M0 40.3h1.2M101.9 40.3h-1.2" stroke="#000" stroke-width="0.7" fill="none"/></g>
<g id="rd"><g fill="#ff0000"><circle cx="42.2" cy="34.2" r="1.38"/><circle cx="40.1" cy="44.3" r="1.38"/><circle cx="40.4" cy="50.6" r="1.38"/><circle cx="27.6" cy="50.7" r="1.38"/><circle cx="17.5" cy="52.1" r="1.38"/><circle cx="18.7" cy="55.8" r="1.38"/><circle cx="38.7" cy="56.5" r="1.10"/><circle cx="33.8" cy="59.2" r="1.38"/><circle cx="39.0" cy="59.8" r="1.10"/><circle cx="18.4" cy="61.7" r="0.83"/><circle cx="57.8" cy="55.6" r="1.38"/><circle cx="55.5" cy="56.6" r="1.10"/><circle cx="41.3" cy="64.3" r="0.69"/><circle cx="42.9" cy="63.5" r="0.69"/><circle cx="18.0" cy="69.5" r="1.38"/><circle cx="24.3" cy="70.7" r="1.38"/><circle cx="14.7" cy="73.8" r="1.38"/><circle cx="21.7" cy="73.5" r="1.38"/><circle cx="23.2" cy="74.9" r="1.38"/><circle cx="22.7" cy="79.7" r="1.38"/><circle cx="40.4" cy="77.6" r="0.83"/><circle cx="47.4" cy="74.3" r="0.69"/><circle cx="14.0" cy="85.5" r="1.38"/><circle cx="46.5" cy="89.4" r="0.83"/><circle cx="54.8" cy="92.2" r="1.38"/></g></g>
<g id="bd"><g fill="#0000ff"><circle cx="67.3" cy="51.8" r="1.38"/><circle cx="69.0" cy="52.5" r="1.38"/><circle cx="71.1" cy="51.6" r="1.38"/><circle cx="72.5" cy="52.1" r="1.38"/><circle cx="77.7" cy="51.8" r="1.38"/><circle cx="79.4" cy="51.4" r="1.38"/><circle cx="80.5" cy="53.9" r="1.38"/><circle cx="83.3" cy="48.6" r="1.38"/><circle cx="93.3" cy="53.0" r="1.38"/><circle cx="95.9" cy="53.5" r="1.38"/><circle cx="98.2" cy="53.0" r="1.38"/><circle cx="96.8" cy="54.7" r="1.38"/><circle cx="92.5" cy="55.6" r="1.38"/><circle cx="94.7" cy="56.5" r="1.38"/><circle cx="95.6" cy="58.5" r="1.38"/><circle cx="91.6" cy="58.5" r="1.38"/><circle cx="89.0" cy="59.9" r="1.38"/><circle cx="90.7" cy="61.1" r="1.38"/><circle cx="89.9" cy="62.5" r="1.38"/><circle cx="91.9" cy="62.2" r="1.38"/><circle cx="77.7" cy="67.7" r="1.38"/><circle cx="82.9" cy="66.0" r="0.97"/><circle cx="87.2" cy="68.6" r="0.97"/><circle cx="85.0" cy="70.9" r="1.38"/><circle cx="84.3" cy="74.2" r="0.97"/><circle cx="78.9" cy="77.3" r="1.38"/><circle cx="85.5" cy="79.0" r="1.38"/></g></g>
<g id="md"><g fill="#ff00ff"><circle cx="94.4" cy="34.2" r="1.38"/><circle cx="93.0" cy="40.1" r="1.38"/><circle cx="79.6" cy="39.8" r="1.38"/><circle cx="74.3" cy="40.5" r="1.38"/><circle cx="71.8" cy="44.3" r="1.38"/><circle cx="72.7" cy="47.8" r="1.38"/><circle cx="90.1" cy="45.7" r="1.38"/><circle cx="92.3" cy="46.4" r="1.38"/><circle cx="97.3" cy="46.4" r="1.38"/><circle cx="87.8" cy="56.8" r="1.38"/><circle cx="66.6" cy="64.4" r="0.97"/><circle cx="77.2" cy="70.7" r="1.38"/><circle cx="90.1" cy="79.0" r="1.38"/><circle cx="84.8" cy="82.0" r="1.38"/></g></g>
<g id="od"><g fill="#ff8000"><circle cx="71.2" cy="34.2" r="1.38"/><circle cx="67.2" cy="40.1" r="1.38"/><circle cx="92.5" cy="40.1" r="1.38"/><circle cx="90.3" cy="42.2" r="1.38"/><circle cx="76.4" cy="45.7" r="1.38"/><circle cx="86.8" cy="49.2" r="1.38"/><circle cx="88.5" cy="50.9" r="1.38"/><circle cx="86.8" cy="51.3" r="1.38"/><circle cx="94.1" cy="50.6" r="1.38"/><circle cx="72.9" cy="54.0" r="1.38"/><circle cx="75.1" cy="54.0" r="1.38"/><circle cx="60.2" cy="55.6" r="1.24"/><circle cx="82.4" cy="58.2" r="1.38"/><circle cx="82.4" cy="60.3" r="1.38"/><circle cx="75.5" cy="61.7" r="0.83"/><circle cx="56.4" cy="63.1" r="1.24"/><circle cx="71.7" cy="66.9" r="1.38"/><circle cx="59.9" cy="89.4" r="1.38"/><circle cx="76.4" cy="74.7" r="0.69"/></g></g>
<g id="gd"><g fill="#00e000"><circle cx="88.2" cy="36.5" r="1.38"/><circle cx="89.9" cy="42.6" r="1.38"/><circle cx="87.0" cy="46.9" r="1.38"/><circle cx="91.3" cy="48.6" r="1.38"/><circle cx="89.2" cy="53.0" r="1.38"/><circle cx="83.5" cy="54.4" r="1.38"/><circle cx="90.4" cy="46.0" r="1.38"/></g></g>
</defs>
<g transform="translate(60.30 0)">
<use href="#bl"/><use href="#gp"/>
<use href="#fr"/></g>
<g transform="translate(162.10 0)">
<use href="#bl"/><use href="#gp"/>
<use href="#rd"/>
<use href="#fr"/></g>
<g transform="translate(263.90 0)">
<use href="#bl"/><use href="#gp"/>
<use href="#rd"/>
<use href="#bd"/>
<use href="#fr"/></g>
<g transform="translate(365.70 0)">
<use href="#bl"/><use href="#gp"/>
<use href="#rd"/>
<use href="#bd"/>
<use href="#md"/>
<use href="#fr"/></g>
<g transform="translate(467.50 0)">
<use href="#bl"/><use href="#gp"/>
<use href="#rd"/>
<use href="#bd"/>
<use href="#md"/>
<use href="#od"/>
<use href="#fr"/></g>
<g transform="translate(569.30 0)">
<use href="#bl"/><use href="#gp"/>
<use href="#rd"/>
<use href="#bd"/>
<use href="#md"/>
<use href="#od"/>
<use href="#gd"/>
<use href="#fr"/></g>
<text x="64.0" y="22.6" font-size="9.50" fill="#222" stroke="#222" stroke-width="0.20" textLength="39.7" lengthAdjust="spacingAndGlyphs"><tspan>P</tspan><tspan dy="2.85" font-size="5.70">i</tspan><tspan dy="-2.85"> replete</tspan></text>
<text x="115.9" y="22.6" font-size="9.50" fill="#111" stroke="#111" stroke-width="0.00" font-weight="bold" textLength="44.4" lengthAdjust="spacingAndGlyphs"><tspan>P</tspan><tspan dy="2.85" font-size="5.70">i</tspan><tspan dy="-2.85"> deplete</tspan></text>
<text x="181.8" y="22.4" font-size="10.40" fill="#ee1c25" stroke="#ee1c25" stroke-width="0.20" textLength="63.1" lengthAdjust="spacingAndGlyphs">phospholipids</text>
<text x="280.8" y="22.4" font-size="10.40" fill="#1414e6" stroke="#1414e6" stroke-width="0.20" textLength="67.3" lengthAdjust="spacingAndGlyphs">ornithine-lipids</text>
<text x="389.9" y="22.4" font-size="10.40" fill="#ee3ac6" stroke="#ee3ac6" stroke-width="0.20" textLength="53.3" lengthAdjust="spacingAndGlyphs">GlcA-DAGs</text>
<text x="482.4" y="22.4" font-size="10.40" fill="#f0602d" stroke="#f0602d" stroke-width="0.20" textLength="70.6" lengthAdjust="spacingAndGlyphs">me-GlcA-DAGs</text>
<text x="606.3" y="22.4" font-size="10.40" fill="#21b04b" stroke="#21b04b" stroke-width="0.20" textLength="27.1" lengthAdjust="spacingAndGlyphs">TMMs</text>
<text x="188.8" y="129.5" font-size="11.00" fill="#ee1c25" stroke="#ee1c25" stroke-width="0.20" textLength="50.5" lengthAdjust="spacingAndGlyphs">61 species</text>
<text x="291.6" y="129.5" font-size="11.00" fill="#1414e6" stroke="#1414e6" stroke-width="0.20" textLength="50.5" lengthAdjust="spacingAndGlyphs">48 species</text>
<text x="394.8" y="129.5" font-size="11.00" fill="#ee3ac6" stroke="#ee3ac6" stroke-width="0.20" textLength="50.0" lengthAdjust="spacingAndGlyphs">31 species</text>
<text x="494.8" y="129.5" font-size="11.00" fill="#f0602d" stroke="#f0602d" stroke-width="0.20" textLength="50.5" lengthAdjust="spacingAndGlyphs">28 species</text>
<text x="595.0" y="129.5" font-size="11.00" fill="#21a24b" stroke="#21a24b" stroke-width="0.20" textLength="50.0" lengthAdjust="spacingAndGlyphs">13 species</text>
<text x="68.0" y="121.8" font-size="9.00" fill="#222" stroke="#222" stroke-width="0.20" text-anchor="middle">-20</text>
<text x="87.6" y="121.8" font-size="9.00" fill="#222" stroke="#222" stroke-width="0.20" text-anchor="middle">-10</text>
<text x="110.8" y="121.8" font-size="9.00" fill="#222" stroke="#222" stroke-width="0.20" text-anchor="middle">0</text>
<text x="132.0" y="121.8" font-size="9.00" fill="#222" stroke="#222" stroke-width="0.20" text-anchor="middle">10</text>
<text x="153.7" y="121.8" font-size="9.00" fill="#222" stroke="#222" stroke-width="0.20" text-anchor="middle">20</text>
<text x="49.3" y="108.8" font-size="9.00" fill="#222" stroke="#222" stroke-width="0.20">0</text>
<text x="49.3" y="93.0" font-size="9.00" fill="#222" stroke="#222" stroke-width="0.20">3</text>
<text x="49.3" y="72.7" font-size="9.00" fill="#222" stroke="#222" stroke-width="0.20">6</text>
<text x="49.3" y="52.4" font-size="9.00" fill="#222" stroke="#222" stroke-width="0.20">9</text>
<text x="47.7" y="32.1" font-size="9.00" fill="#222" stroke="#222" stroke-width="0.20">12</text>
<text x="62.6" y="137.4" font-size="10.20" fill="#222" stroke="#222" stroke-width="0.20" textLength="89.3" lengthAdjust="spacingAndGlyphs"><tspan>log</tspan><tspan dy="4.90" font-size="8.67"> 2</tspan><tspan dy="-4.90"> (Fold Change)</tspan></text>
<g transform="translate(39.5 107.5) rotate(-90)"><text x="0.0" y="0.0" font-size="10.20" fill="#222" stroke="#222" stroke-width="0.20" textLength="74.5" lengthAdjust="spacingAndGlyphs"><tspan>-log</tspan><tspan dy="3.06" font-size="8.36"> 10</tspan><tspan dy="-3.06"> (P-value)</tspan></text></g>
<g shape-rendering="crispEdges">
<path fill="#ff9696" d="M57.30 188.40h2.973v27.40h-2.973zM60.22 188.40h2.973v27.40h-2.973zM63.15 188.40h2.973v18.27h-2.973zM66.07 215.80h2.973v27.40h-2.973zM74.84 188.40h2.973v27.40h-2.973zM77.76 215.80h2.973v27.40h-2.973zM80.68 188.40h2.973v27.40h-2.973zM83.60 215.80h2.973v27.40h-2.973zM86.53 188.40h2.973v27.40h-2.973zM92.37 188.40h2.973v27.40h-2.973zM92.37 224.93h2.973v9.13h-2.973zM98.22 188.40h2.973v27.40h-2.973zM101.14 188.40h2.973v27.40h-2.973zM104.06 188.40h2.973v27.40h-2.973zM121.60 215.80h2.973v27.40h-2.973zM124.52 188.40h2.973v9.13h-2.973zM124.52 206.67h2.973v36.53h-2.973zM153.75 206.67h2.973v9.13h-2.973zM156.67 206.67h2.973v9.13h-2.973zM159.59 188.40h2.973v9.13h-2.973zM165.44 197.53h2.973v9.13h-2.973zM165.44 215.80h2.973v18.27h-2.973zM171.28 188.40h2.973v9.13h-2.973zM171.28 206.67h2.973v9.13h-2.973zM174.21 188.40h2.973v9.13h-2.973zM174.21 206.67h2.973v9.13h-2.973zM177.13 197.53h2.973v9.13h-2.973zM188.82 188.40h2.973v54.80h-2.973zM191.74 215.80h2.973v27.40h-2.973zM194.66 215.80h2.973v27.40h-2.973zM197.59 206.67h2.973v36.53h-2.973zM200.51 188.40h2.973v27.40h-2.973zM200.51 234.07h2.973v9.13h-2.973zM206.35 188.40h2.973v54.80h-2.973zM215.12 215.80h2.973v18.27h-2.973zM218.04 188.40h2.973v27.40h-2.973zM223.89 188.40h2.973v9.13h-2.973zM223.89 206.67h2.973v9.13h-2.973zM226.81 188.40h2.973v27.40h-2.973zM229.74 188.40h2.973v27.40h-2.973zM238.50 188.40h2.973v54.80h-2.973zM241.43 188.40h2.973v45.67h-2.973zM244.35 188.40h2.973v54.80h-2.973zM247.27 188.40h2.973v54.80h-2.973zM267.73 215.80h2.973v27.40h-2.973zM270.65 215.80h2.973v27.40h-2.973zM276.50 215.80h2.973v27.40h-2.973zM282.34 215.80h2.973v18.27h-2.973zM296.96 215.80h2.973v18.27h-2.973zM299.88 215.80h2.973v27.40h-2.973zM308.65 224.93h2.973v18.27h-2.973zM314.49 215.80h2.973v27.40h-2.973zM326.18 215.80h2.973v27.40h-2.973zM332.03 215.80h2.973v27.40h-2.973zM343.72 215.80h2.973v27.40h-2.973zM349.56 215.80h2.973v9.13h-2.973zM352.49 215.80h2.973v27.40h-2.973zM355.41 215.80h2.973v27.40h-2.973zM358.33 215.80h2.973v27.40h-2.973zM361.25 224.93h2.973v9.13h-2.973zM364.18 215.80h2.973v27.40h-2.973zM367.10 215.80h2.973v27.40h-2.973zM370.02 215.80h2.973v27.40h-2.973zM372.94 215.80h2.973v27.40h-2.973zM378.79 215.80h2.973v27.40h-2.973zM381.71 215.80h2.973v27.40h-2.973zM384.63 215.80h2.973v9.13h-2.973zM384.63 234.07h2.973v9.13h-2.973zM387.56 215.80h2.973v27.40h-2.973zM393.40 215.80h2.973v18.27h-2.973zM402.17 215.80h2.973v27.40h-2.973zM410.94 215.80h2.973v9.13h-2.973zM410.94 234.07h2.973v9.13h-2.973zM416.78 215.80h2.973v27.40h-2.973zM419.71 224.93h2.973v18.27h-2.973zM431.40 215.80h2.973v18.27h-2.973zM443.09 215.80h2.973v27.40h-2.973zM446.01 224.93h2.973v18.27h-2.973zM454.78 215.80h2.973v27.40h-2.973zM457.70 215.80h2.973v27.40h-2.973zM463.55 215.80h2.973v27.40h-2.973zM466.47 215.80h2.973v27.40h-2.973zM469.39 215.80h2.973v27.40h-2.973zM472.31 215.80h2.973v27.40h-2.973zM475.24 234.07h2.973v9.13h-2.973zM484.00 224.93h2.973v18.27h-2.973zM486.93 224.93h2.973v9.13h-2.973zM510.31 215.80h2.973v27.40h-2.973zM513.23 215.80h2.973v27.40h-2.973zM524.92 215.80h2.973v27.40h-2.973zM527.84 234.07h2.973v9.13h-2.973zM530.77 215.80h2.973v27.40h-2.973zM536.61 215.80h2.973v27.40h-2.973zM539.53 215.80h2.973v27.40h-2.973zM542.46 215.80h2.973v27.40h-2.973zM554.15 215.80h2.973v27.40h-2.973zM559.99 215.80h2.973v27.40h-2.973zM562.92 215.80h2.973v27.40h-2.973zM565.84 215.80h2.973v27.40h-2.973zM574.61 215.80h2.973v27.40h-2.973zM577.53 215.80h2.973v27.40h-2.973zM580.45 215.80h2.973v27.40h-2.973zM583.37 215.80h2.973v27.40h-2.973zM586.30 215.80h2.973v27.40h-2.973zM589.22 215.80h2.973v27.40h-2.973zM592.14 215.80h2.973v27.40h-2.973zM595.06 215.80h2.973v27.40h-2.973zM597.99 215.80h2.973v27.40h-2.973zM603.83 215.80h2.973v27.40h-2.973zM609.68 215.80h2.973v18.27h-2.973z"/>
<path fill="#9999ff" d="M57.30 215.80h2.973v18.27h-2.973zM95.29 215.80h2.973v9.13h-2.973zM101.14 215.80h2.973v9.13h-2.973zM112.83 197.53h2.973v9.13h-2.973zM118.68 206.67h2.973v9.13h-2.973zM127.44 224.93h2.973v18.27h-2.973zM136.21 197.53h2.973v9.13h-2.973zM136.21 215.80h2.973v27.40h-2.973zM139.13 215.80h2.973v18.27h-2.973zM162.51 224.93h2.973v9.13h-2.973zM177.13 215.80h2.973v18.27h-2.973zM308.65 188.40h2.973v9.13h-2.973zM323.26 224.93h2.973v18.27h-2.973zM326.18 188.40h2.973v9.13h-2.973zM326.18 206.67h2.973v9.13h-2.973zM413.86 197.53h2.973v9.13h-2.973zM425.55 206.67h2.973v9.13h-2.973zM460.62 215.80h2.973v9.13h-2.973zM481.08 188.40h2.973v27.40h-2.973zM533.69 188.40h2.973v27.40h-2.973zM559.99 188.40h2.973v27.40h-2.973z"/>
<path fill="#4d4dff" d="M57.30 234.07h2.973v9.13h-2.973zM60.22 224.93h2.973v18.27h-2.973zM63.15 215.80h2.973v18.27h-2.973zM95.29 234.07h2.973v9.13h-2.973zM98.22 234.07h2.973v9.13h-2.973zM101.14 224.93h2.973v18.27h-2.973zM118.68 188.40h2.973v18.27h-2.973zM142.06 224.93h2.973v9.13h-2.973zM147.90 215.80h2.973v9.13h-2.973zM308.65 197.53h2.973v18.27h-2.973zM311.57 197.53h2.973v9.13h-2.973zM314.49 188.40h2.973v18.27h-2.973zM320.34 206.67h2.973v9.13h-2.973zM326.18 197.53h2.973v9.13h-2.973zM332.03 188.40h2.973v27.40h-2.973zM387.56 197.53h2.973v9.13h-2.973zM410.94 188.40h2.973v9.13h-2.973zM416.78 197.53h2.973v9.13h-2.973zM419.71 188.40h2.973v9.13h-2.973zM425.55 188.40h2.973v18.27h-2.973zM484.00 188.40h2.973v9.13h-2.973zM484.00 206.67h2.973v9.13h-2.973zM495.69 206.67h2.973v9.13h-2.973zM498.62 197.53h2.973v18.27h-2.973zM513.23 188.40h2.973v9.13h-2.973zM519.08 206.67h2.973v9.13h-2.973zM522.00 188.40h2.973v9.13h-2.973zM542.46 188.40h2.973v9.13h-2.973zM542.46 206.67h2.973v9.13h-2.973zM551.22 206.67h2.973v9.13h-2.973zM562.92 197.53h2.973v18.27h-2.973z"/>
<path fill="#0000ff" d="M60.22 215.80h2.973v9.13h-2.973zM63.15 234.07h2.973v9.13h-2.973zM68.99 215.80h2.973v27.40h-2.973zM98.22 215.80h2.973v18.27h-2.973zM104.06 215.80h2.973v27.40h-2.973zM115.75 215.80h2.973v27.40h-2.973zM127.44 188.40h2.973v27.40h-2.973zM139.13 234.07h2.973v9.13h-2.973zM142.06 215.80h2.973v9.13h-2.973zM142.06 234.07h2.973v9.13h-2.973zM144.98 234.07h2.973v9.13h-2.973zM147.90 224.93h2.973v18.27h-2.973zM150.82 197.53h2.973v18.27h-2.973zM153.75 197.53h2.973v9.13h-2.973zM153.75 215.80h2.973v27.40h-2.973zM156.67 197.53h2.973v9.13h-2.973zM156.67 215.80h2.973v27.40h-2.973zM159.59 224.93h2.973v9.13h-2.973zM168.36 197.53h2.973v9.13h-2.973zM168.36 215.80h2.973v27.40h-2.973zM171.28 215.80h2.973v27.40h-2.973zM174.21 215.80h2.973v27.40h-2.973zM177.13 234.07h2.973v9.13h-2.973zM180.05 215.80h2.973v27.40h-2.973zM182.97 215.80h2.973v27.40h-2.973zM212.20 215.80h2.973v27.40h-2.973zM220.97 215.80h2.973v27.40h-2.973zM223.89 234.07h2.973v9.13h-2.973zM229.74 215.80h2.973v27.40h-2.973zM232.66 215.80h2.973v27.40h-2.973zM253.12 215.80h2.973v27.40h-2.973zM256.04 215.80h2.973v27.40h-2.973zM258.96 215.80h2.973v27.40h-2.973zM261.88 188.40h2.973v27.40h-2.973zM264.81 188.40h2.973v27.40h-2.973zM267.73 188.40h2.973v27.40h-2.973zM270.65 188.40h2.973v27.40h-2.973zM273.57 188.40h2.973v27.40h-2.973zM276.50 188.40h2.973v27.40h-2.973zM279.42 188.40h2.973v27.40h-2.973zM282.34 188.40h2.973v27.40h-2.973zM285.27 188.40h2.973v27.40h-2.973zM288.19 188.40h2.973v27.40h-2.973zM291.11 188.40h2.973v27.40h-2.973zM294.03 188.40h2.973v27.40h-2.973zM296.96 188.40h2.973v27.40h-2.973zM299.88 188.40h2.973v27.40h-2.973zM314.49 206.67h2.973v9.13h-2.973zM320.34 188.40h2.973v18.27h-2.973zM323.26 188.40h2.973v27.40h-2.973zM337.87 188.40h2.973v27.40h-2.973zM340.80 188.40h2.973v27.40h-2.973zM343.72 188.40h2.973v27.40h-2.973zM346.64 188.40h2.973v27.40h-2.973zM349.56 188.40h2.973v27.40h-2.973zM352.49 188.40h2.973v27.40h-2.973zM355.41 188.40h2.973v27.40h-2.973zM358.33 188.40h2.973v27.40h-2.973zM361.25 188.40h2.973v27.40h-2.973zM364.18 188.40h2.973v27.40h-2.973zM367.10 188.40h2.973v27.40h-2.973zM370.02 188.40h2.973v27.40h-2.973zM372.94 188.40h2.973v27.40h-2.973zM375.87 188.40h2.973v27.40h-2.973zM375.87 234.07h2.973v9.13h-2.973zM378.79 188.40h2.973v27.40h-2.973zM381.71 188.40h2.973v18.27h-2.973zM384.63 188.40h2.973v27.40h-2.973zM387.56 206.67h2.973v9.13h-2.973zM390.48 188.40h2.973v27.40h-2.973zM393.40 188.40h2.973v27.40h-2.973zM396.33 188.40h2.973v27.40h-2.973zM399.25 188.40h2.973v27.40h-2.973zM402.17 188.40h2.973v27.40h-2.973zM405.09 188.40h2.973v27.40h-2.973zM408.02 188.40h2.973v27.40h-2.973zM410.94 206.67h2.973v9.13h-2.973zM416.78 188.40h2.973v9.13h-2.973zM416.78 206.67h2.973v9.13h-2.973zM419.71 197.53h2.973v18.27h-2.973zM422.63 188.40h2.973v27.40h-2.973zM431.40 188.40h2.973v27.40h-2.973zM440.16 188.40h2.973v27.40h-2.973zM443.09 188.40h2.973v27.40h-2.973zM446.01 188.40h2.973v27.40h-2.973zM448.93 188.40h2.973v27.40h-2.973zM451.86 188.40h2.973v27.40h-2.973zM454.78 188.40h2.973v27.40h-2.973zM457.70 188.40h2.973v27.40h-2.973zM460.62 188.40h2.973v27.40h-2.973zM463.55 188.40h2.973v27.40h-2.973zM466.47 188.40h2.973v27.40h-2.973zM469.39 188.40h2.973v27.40h-2.973zM472.31 188.40h2.973v27.40h-2.973zM475.24 188.40h2.973v27.40h-2.973zM478.16 188.40h2.973v27.40h-2.973zM484.00 197.53h2.973v9.13h-2.973zM486.93 188.40h2.973v27.40h-2.973zM489.85 188.40h2.973v27.40h-2.973zM492.77 188.40h2.973v27.40h-2.973zM495.69 197.53h2.973v9.13h-2.973zM498.62 188.40h2.973v9.13h-2.973zM501.54 188.40h2.973v27.40h-2.973zM504.46 188.40h2.973v27.40h-2.973zM507.39 188.40h2.973v27.40h-2.973zM510.31 188.40h2.973v27.40h-2.973zM513.23 197.53h2.973v18.27h-2.973zM516.15 188.40h2.973v27.40h-2.973zM519.08 188.40h2.973v18.27h-2.973zM522.00 197.53h2.973v18.27h-2.973zM524.92 188.40h2.973v27.40h-2.973zM527.84 188.40h2.973v27.40h-2.973zM530.77 188.40h2.973v27.40h-2.973zM545.38 188.40h2.973v27.40h-2.973zM551.22 188.40h2.973v18.27h-2.973zM554.15 188.40h2.973v27.40h-2.973zM557.07 188.40h2.973v27.40h-2.973zM562.92 188.40h2.973v9.13h-2.973zM565.84 188.40h2.973v27.40h-2.973zM568.76 188.40h2.973v27.40h-2.973zM571.68 188.40h2.973v27.40h-2.973zM574.61 188.40h2.973v27.40h-2.973zM577.53 188.40h2.973v27.40h-2.973zM580.45 188.40h2.973v27.40h-2.973zM583.37 188.40h2.973v27.40h-2.973zM586.30 188.40h2.973v27.40h-2.973zM589.22 188.40h2.973v27.40h-2.973zM592.14 188.40h2.973v27.40h-2.973zM595.06 188.40h2.973v27.40h-2.973zM597.99 188.40h2.973v27.40h-2.973zM600.91 188.40h2.973v27.40h-2.973zM603.83 188.40h2.973v27.40h-2.973zM606.75 188.40h2.973v27.40h-2.973zM609.68 188.40h2.973v27.40h-2.973z"/>
<path fill="#ffdede" d="M63.15 206.67h2.973v9.13h-2.973zM68.99 188.40h2.973v27.40h-2.973zM71.91 215.80h2.973v18.27h-2.973zM74.84 215.80h2.973v27.40h-2.973zM86.53 215.80h2.973v27.40h-2.973zM92.37 215.80h2.973v9.13h-2.973zM92.37 234.07h2.973v9.13h-2.973zM106.98 215.80h2.973v9.13h-2.973zM109.91 188.40h2.973v9.13h-2.973zM109.91 206.67h2.973v27.40h-2.973zM118.68 215.80h2.973v27.40h-2.973zM121.60 188.40h2.973v27.40h-2.973zM124.52 197.53h2.973v9.13h-2.973zM130.37 188.40h2.973v54.80h-2.973zM133.29 188.40h2.973v54.80h-2.973zM139.13 188.40h2.973v27.40h-2.973zM142.06 188.40h2.973v27.40h-2.973zM144.98 188.40h2.973v9.13h-2.973zM144.98 206.67h2.973v9.13h-2.973zM150.82 224.93h2.973v9.13h-2.973zM153.75 188.40h2.973v9.13h-2.973zM156.67 188.40h2.973v9.13h-2.973zM159.59 197.53h2.973v9.13h-2.973zM159.59 234.07h2.973v9.13h-2.973zM162.51 188.40h2.973v9.13h-2.973zM162.51 206.67h2.973v18.27h-2.973zM162.51 234.07h2.973v9.13h-2.973zM168.36 206.67h2.973v9.13h-2.973zM171.28 197.53h2.973v9.13h-2.973zM177.13 188.40h2.973v9.13h-2.973zM177.13 206.67h2.973v9.13h-2.973zM185.90 188.40h2.973v54.80h-2.973zM194.66 188.40h2.973v27.40h-2.973zM212.20 188.40h2.973v9.13h-2.973zM212.20 206.67h2.973v9.13h-2.973zM215.12 234.07h2.973v9.13h-2.973zM218.04 215.80h2.973v27.40h-2.973zM223.89 197.53h2.973v9.13h-2.973zM226.81 215.80h2.973v27.40h-2.973zM232.66 188.40h2.973v27.40h-2.973zM241.43 234.07h2.973v9.13h-2.973zM250.19 197.53h2.973v18.27h-2.973zM253.12 188.40h2.973v27.40h-2.973zM261.88 215.80h2.973v27.40h-2.973zM264.81 215.80h2.973v9.13h-2.973zM273.57 215.80h2.973v27.40h-2.973zM279.42 224.93h2.973v9.13h-2.973zM282.34 234.07h2.973v9.13h-2.973zM291.11 215.80h2.973v27.40h-2.973zM296.96 234.07h2.973v9.13h-2.973zM302.80 188.40h2.973v27.40h-2.973zM305.72 188.40h2.973v27.40h-2.973zM317.41 188.40h2.973v9.13h-2.973zM329.10 188.40h2.973v9.13h-2.973zM329.10 206.67h2.973v9.13h-2.973zM349.56 224.93h2.973v18.27h-2.973zM375.87 215.80h2.973v18.27h-2.973zM384.63 224.93h2.973v9.13h-2.973zM390.48 215.80h2.973v27.40h-2.973zM393.40 234.07h2.973v9.13h-2.973zM396.33 215.80h2.973v9.13h-2.973zM396.33 234.07h2.973v9.13h-2.973zM399.25 215.80h2.973v18.27h-2.973zM405.09 215.80h2.973v27.40h-2.973zM408.02 224.93h2.973v18.27h-2.973zM422.63 215.80h2.973v9.13h-2.973zM428.47 188.40h2.973v9.13h-2.973zM431.40 234.07h2.973v9.13h-2.973zM437.24 188.40h2.973v9.13h-2.973zM437.24 206.67h2.973v9.13h-2.973zM440.16 215.80h2.973v9.13h-2.973zM440.16 234.07h2.973v9.13h-2.973zM448.93 234.07h2.973v9.13h-2.973zM451.86 215.80h2.973v27.40h-2.973zM478.16 215.80h2.973v18.27h-2.973zM481.08 215.80h2.973v27.40h-2.973zM484.00 215.80h2.973v9.13h-2.973zM486.93 215.80h2.973v9.13h-2.973zM486.93 234.07h2.973v9.13h-2.973zM489.85 215.80h2.973v18.27h-2.973zM495.69 215.80h2.973v27.40h-2.973zM498.62 215.80h2.973v27.40h-2.973zM507.39 215.80h2.973v27.40h-2.973zM516.15 215.80h2.973v27.40h-2.973zM519.08 215.80h2.973v27.40h-2.973zM522.00 215.80h2.973v27.40h-2.973zM533.69 215.80h2.973v27.40h-2.973zM536.61 188.40h2.973v27.40h-2.973zM539.53 206.67h2.973v9.13h-2.973zM548.30 188.40h2.973v27.40h-2.973zM551.22 215.80h2.973v27.40h-2.973zM568.76 215.80h2.973v9.13h-2.973zM571.68 234.07h2.973v9.13h-2.973zM600.91 215.80h2.973v18.27h-2.973zM606.75 215.80h2.973v27.40h-2.973zM609.68 234.07h2.973v9.13h-2.973z"/>
<path fill="#ff4a4a" d="M66.07 188.40h2.973v27.40h-2.973zM71.91 188.40h2.973v27.40h-2.973zM83.60 188.40h2.973v27.40h-2.973zM89.45 188.40h2.973v27.40h-2.973zM95.29 188.40h2.973v27.40h-2.973zM159.59 206.67h2.973v9.13h-2.973zM165.44 188.40h2.973v9.13h-2.973zM165.44 206.67h2.973v9.13h-2.973zM165.44 234.07h2.973v9.13h-2.973zM191.74 188.40h2.973v27.40h-2.973zM197.59 188.40h2.973v18.27h-2.973zM200.51 215.80h2.973v18.27h-2.973zM203.43 188.40h2.973v54.80h-2.973zM209.28 188.40h2.973v54.80h-2.973zM215.12 188.40h2.973v27.40h-2.973zM235.58 188.40h2.973v54.80h-2.973zM285.27 215.80h2.973v27.40h-2.973zM288.19 215.80h2.973v27.40h-2.973zM294.03 215.80h2.973v27.40h-2.973zM302.80 215.80h2.973v27.40h-2.973zM305.72 215.80h2.973v27.40h-2.973zM308.65 215.80h2.973v9.13h-2.973zM311.57 215.80h2.973v18.27h-2.973zM317.41 215.80h2.973v27.40h-2.973zM320.34 215.80h2.973v27.40h-2.973zM329.10 215.80h2.973v18.27h-2.973zM334.95 215.80h2.973v27.40h-2.973zM337.87 215.80h2.973v27.40h-2.973zM346.64 215.80h2.973v27.40h-2.973zM361.25 215.80h2.973v9.13h-2.973zM361.25 234.07h2.973v9.13h-2.973zM410.94 224.93h2.973v9.13h-2.973zM413.86 215.80h2.973v27.40h-2.973zM419.71 215.80h2.973v9.13h-2.973zM425.55 215.80h2.973v27.40h-2.973zM434.32 215.80h2.973v27.40h-2.973zM446.01 215.80h2.973v9.13h-2.973zM475.24 215.80h2.973v18.27h-2.973zM527.84 215.80h2.973v18.27h-2.973zM545.38 215.80h2.973v27.40h-2.973zM548.30 215.80h2.973v27.40h-2.973zM557.07 215.80h2.973v27.40h-2.973z"/>
<path fill="#dedeff" d="M71.91 234.07h2.973v9.13h-2.973zM80.68 215.80h2.973v27.40h-2.973zM89.45 215.80h2.973v27.40h-2.973zM95.29 224.93h2.973v9.13h-2.973zM106.98 188.40h2.973v27.40h-2.973zM106.98 224.93h2.973v18.27h-2.973zM109.91 197.53h2.973v9.13h-2.973zM109.91 234.07h2.973v9.13h-2.973zM112.83 188.40h2.973v9.13h-2.973zM112.83 206.67h2.973v36.53h-2.973zM115.75 188.40h2.973v27.40h-2.973zM127.44 215.80h2.973v9.13h-2.973zM136.21 188.40h2.973v9.13h-2.973zM136.21 206.67h2.973v9.13h-2.973zM144.98 197.53h2.973v9.13h-2.973zM144.98 215.80h2.973v18.27h-2.973zM147.90 188.40h2.973v27.40h-2.973zM150.82 188.40h2.973v9.13h-2.973zM150.82 215.80h2.973v9.13h-2.973zM150.82 234.07h2.973v9.13h-2.973zM159.59 215.80h2.973v9.13h-2.973zM162.51 197.53h2.973v9.13h-2.973zM168.36 188.40h2.973v9.13h-2.973zM174.21 197.53h2.973v9.13h-2.973zM180.05 188.40h2.973v27.40h-2.973zM182.97 188.40h2.973v27.40h-2.973zM212.20 197.53h2.973v9.13h-2.973zM220.97 188.40h2.973v27.40h-2.973zM223.89 215.80h2.973v18.27h-2.973zM250.19 188.40h2.973v9.13h-2.973zM250.19 215.80h2.973v27.40h-2.973zM256.04 188.40h2.973v27.40h-2.973zM258.96 188.40h2.973v27.40h-2.973zM264.81 224.93h2.973v18.27h-2.973zM279.42 215.80h2.973v9.13h-2.973zM279.42 234.07h2.973v9.13h-2.973zM311.57 188.40h2.973v9.13h-2.973zM311.57 206.67h2.973v9.13h-2.973zM317.41 197.53h2.973v18.27h-2.973zM323.26 215.80h2.973v9.13h-2.973zM329.10 197.53h2.973v9.13h-2.973zM334.95 188.40h2.973v27.40h-2.973zM340.80 215.80h2.973v27.40h-2.973zM396.33 224.93h2.973v9.13h-2.973zM399.25 234.07h2.973v9.13h-2.973zM408.02 215.80h2.973v9.13h-2.973zM413.86 188.40h2.973v9.13h-2.973zM413.86 206.67h2.973v9.13h-2.973zM422.63 224.93h2.973v18.27h-2.973zM428.47 197.53h2.973v18.27h-2.973zM434.32 188.40h2.973v27.40h-2.973zM437.24 197.53h2.973v9.13h-2.973zM440.16 224.93h2.973v9.13h-2.973zM448.93 215.80h2.973v18.27h-2.973zM460.62 224.93h2.973v18.27h-2.973zM478.16 234.07h2.973v9.13h-2.973zM489.85 234.07h2.973v9.13h-2.973zM492.77 215.80h2.973v27.40h-2.973zM501.54 215.80h2.973v27.40h-2.973zM504.46 215.80h2.973v27.40h-2.973zM539.53 188.40h2.973v18.27h-2.973zM542.46 197.53h2.973v9.13h-2.973zM568.76 224.93h2.973v18.27h-2.973zM571.68 215.80h2.973v18.27h-2.973zM600.91 234.07h2.973v9.13h-2.973z"/>
<path fill="#ff0000" d="M77.76 188.40h2.973v27.40h-2.973zM311.57 234.07h2.973v9.13h-2.973zM329.10 234.07h2.973v9.13h-2.973zM428.47 215.80h2.973v27.40h-2.973zM437.24 215.80h2.973v27.40h-2.973z"/>
<path fill="#ffffff" d="M381.71 206.67h2.973v9.13h-2.973zM387.56 188.40h2.973v9.13h-2.973zM410.94 197.53h2.973v9.13h-2.973zM495.69 188.40h2.973v9.13h-2.973z"/>
</g>
<rect x="57.3" y="188.4" width="555.3" height="54.8" fill="none" stroke="#333" stroke-width="0.5"/>
<path d="M58.76 243.2v2.2M61.68 243.2v2.2M64.61 243.2v2.2M67.53 243.2v2.2M70.45 243.2v2.2M73.37 243.2v2.2M76.30 243.2v2.2M79.22 243.2v2.2M82.14 243.2v2.2M85.06 243.2v2.2M87.99 243.2v2.2M90.91 243.2v2.2M93.83 243.2v2.2M96.76 243.2v2.2M99.68 243.2v2.2M102.60 243.2v2.2M105.52 243.2v2.2M108.45 243.2v2.2M111.37 243.2v2.2M114.29 243.2v2.2M117.21 243.2v2.2M120.14 243.2v2.2M123.06 243.2v2.2M125.98 243.2v2.2M128.90 243.2v2.2M131.83 243.2v2.2M134.75 243.2v2.2M137.67 243.2v2.2M140.59 243.2v2.2M143.52 243.2v2.2M146.44 243.2v2.2M149.36 243.2v2.2M152.29 243.2v2.2M155.21 243.2v2.2M158.13 243.2v2.2M161.05 243.2v2.2M163.98 243.2v2.2M166.90 243.2v2.2M169.82 243.2v2.2M172.74 243.2v2.2M175.67 243.2v2.2M178.59 243.2v2.2M181.51 243.2v2.2M184.43 243.2v2.2M187.36 243.2v2.2M190.28 243.2v2.2M193.20 243.2v2.2M196.12 243.2v2.2M199.05 243.2v2.2M201.97 243.2v2.2M204.89 243.2v2.2M207.82 243.2v2.2M210.74 243.2v2.2M213.66 243.2v2.2M216.58 243.2v2.2M219.51 243.2v2.2M222.43 243.2v2.2M225.35 243.2v2.2M228.27 243.2v2.2M231.20 243.2v2.2M234.12 243.2v2.2M237.04 243.2v2.2M239.96 243.2v2.2M242.89 243.2v2.2M245.81 243.2v2.2M248.73 243.2v2.2M251.65 243.2v2.2M254.58 243.2v2.2M257.50 243.2v2.2M260.42 243.2v2.2M263.35 243.2v2.2M266.27 243.2v2.2M269.19 243.2v2.2M272.11 243.2v2.2M275.04 243.2v2.2M277.96 243.2v2.2M280.88 243.2v2.2M283.80 243.2v2.2M286.73 243.2v2.2M289.65 243.2v2.2M292.57 243.2v2.2M295.49 243.2v2.2M298.42 243.2v2.2M301.34 243.2v2.2M304.26 243.2v2.2M307.19 243.2v2.2M310.11 243.2v2.2M313.03 243.2v2.2M315.95 243.2v2.2M318.88 243.2v2.2M321.80 243.2v2.2M324.72 243.2v2.2M327.64 243.2v2.2M330.57 243.2v2.2M333.49 243.2v2.2M336.41 243.2v2.2M339.33 243.2v2.2M342.26 243.2v2.2M345.18 243.2v2.2M348.10 243.2v2.2M351.02 243.2v2.2M353.95 243.2v2.2M356.87 243.2v2.2M359.79 243.2v2.2M362.71 243.2v2.2M365.64 243.2v2.2M368.56 243.2v2.2M371.48 243.2v2.2M374.41 243.2v2.2M377.33 243.2v2.2M380.25 243.2v2.2M383.17 243.2v2.2M386.10 243.2v2.2M389.02 243.2v2.2M391.94 243.2v2.2M394.86 243.2v2.2M397.79 243.2v2.2M400.71 243.2v2.2M403.63 243.2v2.2M406.55 243.2v2.2M409.48 243.2v2.2M412.40 243.2v2.2M415.32 243.2v2.2M418.25 243.2v2.2M421.17 243.2v2.2M424.09 243.2v2.2M427.01 243.2v2.2M429.94 243.2v2.2M432.86 243.2v2.2M435.78 243.2v2.2M438.70 243.2v2.2M441.63 243.2v2.2M444.55 243.2v2.2M447.47 243.2v2.2M450.39 243.2v2.2M453.32 243.2v2.2M456.24 243.2v2.2M459.16 243.2v2.2M462.08 243.2v2.2M465.01 243.2v2.2M467.93 243.2v2.2M470.85 243.2v2.2M473.77 243.2v2.2M476.70 243.2v2.2M479.62 243.2v2.2M482.54 243.2v2.2M485.47 243.2v2.2M488.39 243.2v2.2M491.31 243.2v2.2M494.23 243.2v2.2M497.16 243.2v2.2M500.08 243.2v2.2M503.00 243.2v2.2M505.92 243.2v2.2M508.85 243.2v2.2M511.77 243.2v2.2M514.69 243.2v2.2M517.61 243.2v2.2M520.54 243.2v2.2M523.46 243.2v2.2M526.38 243.2v2.2M529.30 243.2v2.2M532.23 243.2v2.2M535.15 243.2v2.2M538.07 243.2v2.2M541.00 243.2v2.2M543.92 243.2v2.2M546.84 243.2v2.2M549.76 243.2v2.2M552.69 243.2v2.2M555.61 243.2v2.2M558.53 243.2v2.2M561.45 243.2v2.2M564.38 243.2v2.2M567.30 243.2v2.2M570.22 243.2v2.2M573.14 243.2v2.2M576.07 243.2v2.2M578.99 243.2v2.2M581.91 243.2v2.2M584.83 243.2v2.2M587.76 243.2v2.2M590.68 243.2v2.2M593.60 243.2v2.2M596.53 243.2v2.2M599.45 243.2v2.2M602.37 243.2v2.2M605.29 243.2v2.2M608.22 243.2v2.2M611.14 243.2v2.2M57.3 192.97h-2.5M57.3 202.10h-2.5M57.3 211.23h-2.5M57.3 220.37h-2.5M57.3 229.50h-2.5M57.3 238.63h-2.5" stroke="#222" stroke-width="0.7" fill="none"/>
<rect x="629.4" y="187.60" width="22.1" height="7.21" fill="#0000ff" shape-rendering="crispEdges"/>
<rect x="629.4" y="194.51" width="22.1" height="7.21" fill="#4d4dff" shape-rendering="crispEdges"/>
<rect x="629.4" y="201.42" width="22.1" height="7.21" fill="#9999ff" shape-rendering="crispEdges"/>
<rect x="629.4" y="208.34" width="22.1" height="7.21" fill="#dedeff" shape-rendering="crispEdges"/>
<rect x="629.4" y="215.25" width="22.1" height="7.21" fill="#ffdede" shape-rendering="crispEdges"/>
<rect x="629.4" y="222.16" width="22.1" height="7.21" fill="#ff9696" shape-rendering="crispEdges"/>
<rect x="629.4" y="229.07" width="22.1" height="7.21" fill="#ff4a4a" shape-rendering="crispEdges"/>
<rect x="629.4" y="235.99" width="22.1" height="7.21" fill="#ff0000" shape-rendering="crispEdges"/>
<rect x="629.4" y="187.6" width="22.1" height="55.3" fill="none" stroke="#333" stroke-width="0.6"/>
<path d="M651.5 187.60h2.6M651.5 194.51h1.6M651.5 201.42h2.6M651.5 208.34h1.6M651.5 215.25h2.6M651.5 222.16h1.6M651.5 229.07h2.6M651.5 235.99h1.6M651.5 242.90h2.6" stroke="#333" stroke-width="0.6" fill="none"/>
<text x="125.8" y="176.6" font-size="11.40" fill="#333" stroke="#333" stroke-width="0.20" textLength="70.1" lengthAdjust="spacingAndGlyphs">phospholipids</text>
<text x="356.6" y="175.9" font-size="11.40" fill="#333" stroke="#333" stroke-width="0.20" textLength="165.2" lengthAdjust="spacingAndGlyphs">phosphorus-free lipid substitutes</text>
<path d="M57.9 183.1L263.7 182.6M266.8 182.5L611.8 181.0" stroke="#222" stroke-width="1.1" fill="none"/>
<path d="M56.5 251.4H105.4M107.1 251.4H152.7M154.4 251.4H176.8M178.6 251.4H234.7M236.8 251.4H250.4M251.8 251.4H261.2M263.6 251.4H400.2M402.3 251.4H491.5M493.6 251.4H572.0M574.0 251.4H611.6" stroke="#111" stroke-width="1.5" fill="none"/>
<path d="M257.2 251.8L262.8 267.6" stroke="#111" stroke-width="1.1" fill="none"/>
<text x="81.5" y="267.0" font-size="10.00" fill="#ee1c25" stroke="#ee1c25" stroke-width="0.20" text-anchor="middle" textLength="14.8" lengthAdjust="spacingAndGlyphs">PEs</text>
<text x="129.9" y="267.0" font-size="10.00" fill="#ee1c25" stroke="#ee1c25" stroke-width="0.20" text-anchor="middle" textLength="15.8" lengthAdjust="spacingAndGlyphs">PGs</text>
<text x="166.0" y="267.0" font-size="10.00" fill="#ee1c25" stroke="#ee1c25" stroke-width="0.20" text-anchor="middle" textLength="11.6" lengthAdjust="spacingAndGlyphs">PIs</text>
<text x="207.0" y="267.0" font-size="10.00" fill="#ee1c25" stroke="#ee1c25" stroke-width="0.20" text-anchor="middle" textLength="14.8" lengthAdjust="spacingAndGlyphs">CLs</text>
<text x="243.8" y="267.0" font-size="10.00" fill="#111" stroke="#111" stroke-width="0.20" text-anchor="middle" textLength="19.5" lengthAdjust="spacingAndGlyphs">PIMs</text>
<text x="263.8" y="279.0" font-size="10.00" fill="#111" stroke="#111" stroke-width="0.20" text-anchor="middle" textLength="26.0" lengthAdjust="spacingAndGlyphs">MPMs</text>
<text x="328.3" y="267.0" font-size="10.00" fill="#1414ff" stroke="#1414ff" stroke-width="0.20" text-anchor="middle" textLength="19.5" lengthAdjust="spacingAndGlyphs">OLs</text>
<text x="449.4" y="267.0" font-size="10.00" fill="#e6179c" stroke="#e6179c" stroke-width="0.20" text-anchor="middle" textLength="48.7" lengthAdjust="spacingAndGlyphs">GlcA-DAGs</text>
<text x="533.9" y="267.0" font-size="10.00" fill="#f0703c" stroke="#f0703c" stroke-width="0.20" text-anchor="middle" textLength="66.4" lengthAdjust="spacingAndGlyphs">me-GlcA-DAGs</text>
<text x="593.1" y="267.0" font-size="10.00" fill="#1a9850" stroke="#1a9850" stroke-width="0.20" text-anchor="middle" textLength="27.0" lengthAdjust="spacingAndGlyphs">TMMs</text>
<text transform="translate(52.6 193.3) rotate(-39.5)" x="0" y="2.3" font-size="6.9" fill="#2a2a2a" stroke="#2a2a2a" stroke-width="0.07" text-anchor="end" textLength="67.6" lengthAdjust="spacingAndGlyphs"><tspan>Δ</tspan><tspan font-style="italic">glpQ1::glpQ1_Plmyc</tspan></text>
<text transform="translate(52.6 202.4) rotate(-39.5)" x="0" y="2.3" font-size="6.9" fill="#2a2a2a" stroke="#2a2a2a" stroke-width="0.07" text-anchor="end" textLength="21.8" lengthAdjust="spacingAndGlyphs"><tspan>Δ</tspan><tspan font-style="italic">glpQ1</tspan></text>
<text transform="translate(52.6 211.5) rotate(-39.5)" x="0" y="2.3" font-size="6.9" fill="#2a2a2a" stroke="#2a2a2a" stroke-width="0.07" text-anchor="end" textLength="9.8" lengthAdjust="spacingAndGlyphs"><tspan>WT</tspan></text>
<text transform="translate(52.6 220.7) rotate(-39.5)" x="0" y="2.3" font-size="6.9" fill="#2a2a2a" stroke="#2a2a2a" stroke-width="0.07" text-anchor="end" textLength="67.6" lengthAdjust="spacingAndGlyphs"><tspan>Δ</tspan><tspan font-style="italic">glpQ1::glpQ1_Plmyc</tspan></text>
<text transform="translate(52.6 229.8) rotate(-39.5)" x="0" y="2.3" font-size="6.9" fill="#2a2a2a" stroke="#2a2a2a" stroke-width="0.07" text-anchor="end" textLength="21.8" lengthAdjust="spacingAndGlyphs"><tspan>Δ</tspan><tspan font-style="italic">glpQ1</tspan></text>
<text transform="translate(52.6 238.9) rotate(-39.5)" x="0" y="2.3" font-size="6.9" fill="#2a2a2a" stroke="#2a2a2a" stroke-width="0.07" text-anchor="end" textLength="9.8" lengthAdjust="spacingAndGlyphs"><tspan>WT</tspan></text>
<text x="613.7" y="206.9" font-size="12.20" fill="#111" stroke="#111" stroke-width="0.00" font-weight="bold"><tspan>P</tspan><tspan dy="3.42" font-size="7.56">i</tspan></text>
<text x="614.9" y="231.9" font-size="6.50" fill="#111" stroke="#111" stroke-width="0.07"><tspan>P</tspan><tspan dy="1.82" font-size="4.03">i</tspan></text>
<text x="636.4" y="180.4" font-size="9.60" fill="#222" stroke="#222" stroke-width="0.20" textLength="48.8" lengthAdjust="spacingAndGlyphs">Abundance</text>
<text x="658.4" y="191.9" font-size="9.40" fill="#222" stroke="#222" stroke-width="0.20"><tspan>10</tspan><tspan dy="-3.95" font-size="4.89">3</tspan></text>
<text x="658.4" y="205.7" font-size="9.40" fill="#222" stroke="#222" stroke-width="0.20"><tspan>10</tspan><tspan dy="-3.95" font-size="4.89">5</tspan></text>
<text x="658.4" y="219.6" font-size="9.40" fill="#222" stroke="#222" stroke-width="0.20"><tspan>10</tspan><tspan dy="-3.95" font-size="4.89">7</tspan></text>
<text x="658.4" y="233.4" font-size="9.40" fill="#222" stroke="#222" stroke-width="0.20"><tspan>10</tspan><tspan dy="-3.95" font-size="4.89">9</tspan></text>
<text x="658.4" y="247.2" font-size="9.40" fill="#222" stroke="#222" stroke-width="0.20"><tspan>10</tspan><tspan dy="-3.95" font-size="4.89">11</tspan></text>
<rect x="57.6" y="304.3" width="601.4" height="271.0" rx="8" ry="8" fill="#fff" stroke="#333" stroke-width="1.2"/>
<text x="122.0" y="320.8" font-size="7.60" fill="#2020f2" stroke="#2020f2" stroke-width="0.07" text-anchor="middle" textLength="70.5" lengthAdjust="spacingAndGlyphs">OL 3-OH (22:0/18:1)</text>
<text x="122.0" y="331.0" font-size="7.60" fill="#2020f2" stroke="#2020f2" stroke-width="0.07" text-anchor="middle" textLength="69.5" lengthAdjust="spacingAndGlyphs"><tspan>(M+H)</tspan><tspan dy="-2.89" font-size="4.18">+</tspan><tspan dy="2.89">, C</tspan><tspan dy="2.28" font-size="4.18">45</tspan><tspan dy="-2.28">H</tspan><tspan dy="2.28" font-size="4.18">87</tspan><tspan dy="-2.28">N</tspan><tspan dy="2.28" font-size="4.18">2</tspan><tspan dy="-2.28">O</tspan><tspan dy="2.28" font-size="4.18">5</tspan><tspan dy="-5.17" font-size="4.18">+</tspan></text>
<text x="121.8" y="341.0" font-size="7.60" fill="#2020f2" stroke="#2020f2" stroke-width="0.07" text-anchor="middle" textLength="54.0" lengthAdjust="spacingAndGlyphs">m/z = 735.6610</text>
<text x="270.3" y="320.3" font-size="7.60" fill="#e838c4" stroke="#e838c4" stroke-width="0.07" text-anchor="middle" textLength="76.0" lengthAdjust="spacingAndGlyphs">GlcA-DAG (19:0/16:0)</text>
<text x="270.2" y="331.1" font-size="7.60" fill="#e838c4" stroke="#e838c4" stroke-width="0.07" text-anchor="middle" textLength="77.0" lengthAdjust="spacingAndGlyphs"><tspan>(M+NH</tspan><tspan dy="2.28" font-size="4.18">4</tspan><tspan dy="-2.28">)</tspan><tspan dy="-2.89" font-size="4.18">+</tspan><tspan dy="2.89">, C</tspan><tspan dy="2.28" font-size="4.18">44</tspan><tspan dy="-2.28">H</tspan><tspan dy="2.28" font-size="4.18">86</tspan><tspan dy="-2.28">NO</tspan><tspan dy="2.28" font-size="4.18">11</tspan><tspan dy="-5.17" font-size="4.18">+</tspan></text>
<text x="270.5" y="340.8" font-size="7.60" fill="#e838c4" stroke="#e838c4" stroke-width="0.07" text-anchor="middle" textLength="53.5" lengthAdjust="spacingAndGlyphs">m/z = 804.6195</text>
<text x="402.4" y="320.3" font-size="7.60" fill="#ee5a2a" stroke="#ee5a2a" stroke-width="0.07" text-anchor="middle" textLength="89.5" lengthAdjust="spacingAndGlyphs">me-GlcA-DAG (19:0/16:0)</text>
<text x="402.5" y="331.1" font-size="7.60" fill="#ee5a2a" stroke="#ee5a2a" stroke-width="0.07" text-anchor="middle" textLength="77.0" lengthAdjust="spacingAndGlyphs"><tspan>(M+NH</tspan><tspan dy="2.28" font-size="4.18">4</tspan><tspan dy="-2.28">)</tspan><tspan dy="-2.89" font-size="4.18">+</tspan><tspan dy="2.89">, C</tspan><tspan dy="2.28" font-size="4.18">45</tspan><tspan dy="-2.28">H</tspan><tspan dy="2.28" font-size="4.18">88</tspan><tspan dy="-2.28">NO</tspan><tspan dy="2.28" font-size="4.18">11</tspan><tspan dy="-5.17" font-size="4.18">+</tspan></text>
<text x="402.4" y="340.8" font-size="7.60" fill="#ee5a2a" stroke="#ee5a2a" stroke-width="0.07" text-anchor="middle" textLength="53.5" lengthAdjust="spacingAndGlyphs">m/z = 818.6352</text>
<text x="533.3" y="320.8" font-size="7.60" fill="#1aa64a" stroke="#1aa64a" stroke-width="0.07" text-anchor="middle" textLength="44.5" lengthAdjust="spacingAndGlyphs">TMM (C78α)</text>
<text x="533.1" y="331.1" font-size="7.60" fill="#1aa64a" stroke="#1aa64a" stroke-width="0.07" text-anchor="middle" textLength="79.6" lengthAdjust="spacingAndGlyphs"><tspan>(M+NH</tspan><tspan dy="2.28" font-size="4.18">4</tspan><tspan dy="-2.28">)</tspan><tspan dy="-2.89" font-size="4.18">+</tspan><tspan dy="2.89">, C</tspan><tspan dy="2.28" font-size="4.18">90</tspan><tspan dy="-2.28">H</tspan><tspan dy="2.28" font-size="4.18">176</tspan><tspan dy="-2.28">NO</tspan><tspan dy="2.28" font-size="4.18">13</tspan><tspan dy="-5.17" font-size="4.18">+</tspan></text>
<text x="533.4" y="341.6" font-size="7.60" fill="#1aa64a" stroke="#1aa64a" stroke-width="0.07" text-anchor="middle" textLength="58.0" lengthAdjust="spacingAndGlyphs">m/z = 1479.3136</text>
<text x="188.9" y="391.3" font-size="7.30" fill="#686868" stroke="#686868" stroke-width="0.07" text-anchor="middle" textLength="46.0" lengthAdjust="spacingAndGlyphs"><tspan>[Orn+H-H</tspan><tspan dy="2.19" font-size="4.38">2</tspan><tspan dy="-2.19">O]</tspan><tspan dy="-2.77" font-size="4.38">+</tspan></text>
<text x="189.0" y="400.5" font-size="7.30" fill="#686868" stroke="#686868" stroke-width="0.07" text-anchor="middle" textLength="30.8" lengthAdjust="spacingAndGlyphs">115.0866</text>
<text x="188.8" y="409.7" font-size="7.30" fill="#686868" stroke="#686868" stroke-width="0.07" text-anchor="middle" textLength="35.2" lengthAdjust="spacingAndGlyphs"><tspan>C</tspan><tspan dy="2.19" font-size="4.38">5</tspan><tspan dy="-2.19">H</tspan><tspan dy="2.19" font-size="4.38">11</tspan><tspan dy="-2.19">N</tspan><tspan dy="2.19" font-size="4.38">2</tspan><tspan dy="-2.19">O</tspan><tspan dy="-2.77" font-size="4.38">+</tspan></text>
<text x="216.2" y="442.8" font-size="7.30" fill="#686868" stroke="#686868" stroke-width="0.07" textLength="32.1" lengthAdjust="spacingAndGlyphs">593.5509</text>
<text x="216.2" y="453.5" font-size="7.30" fill="#686868" stroke="#686868" stroke-width="0.07" textLength="30.2" lengthAdjust="spacingAndGlyphs"><tspan>C</tspan><tspan dy="2.19" font-size="4.38">38</tspan><tspan dy="-2.19">H</tspan><tspan dy="2.19" font-size="4.38">73</tspan><tspan dy="-2.19">O</tspan><tspan dy="2.19" font-size="4.38">4</tspan><tspan dy="-4.96" font-size="4.38">+</tspan></text>
<text x="352.8" y="442.8" font-size="7.30" fill="#686868" stroke="#686868" stroke-width="0.07" textLength="32.1" lengthAdjust="spacingAndGlyphs">593.5509</text>
<text x="352.8" y="453.5" font-size="7.30" fill="#686868" stroke="#686868" stroke-width="0.07" textLength="30.2" lengthAdjust="spacingAndGlyphs"><tspan>C</tspan><tspan dy="2.19" font-size="4.38">38</tspan><tspan dy="-2.19">H</tspan><tspan dy="2.19" font-size="4.38">73</tspan><tspan dy="-2.19">O</tspan><tspan dy="2.19" font-size="4.38">4</tspan><tspan dy="-4.96" font-size="4.38">+</tspan></text>
<text x="606.2" y="355.6" font-size="7.30" fill="#686868" stroke="#686868" stroke-width="0.07" textLength="35.5" lengthAdjust="spacingAndGlyphs">1282.2237</text>
<text x="606.4" y="365.2" font-size="7.30" fill="#686868" stroke="#686868" stroke-width="0.07" textLength="34.7" lengthAdjust="spacingAndGlyphs"><tspan>C</tspan><tspan dy="2.19" font-size="3.80">84</tspan><tspan dy="-2.19">H</tspan><tspan dy="2.19" font-size="3.80">161</tspan><tspan dy="-2.19">O</tspan><tspan dy="2.19" font-size="3.80">7</tspan><tspan dy="-4.96" font-size="3.80">+</tspan></text>
<text x="606.2" y="415.6" font-size="7.30" fill="#686868" stroke="#686868" stroke-width="0.07" textLength="35.5" lengthAdjust="spacingAndGlyphs">1264.2131</text>
<text x="606.4" y="425.0" font-size="7.30" fill="#686868" stroke="#686868" stroke-width="0.07" textLength="34.7" lengthAdjust="spacingAndGlyphs"><tspan>C</tspan><tspan dy="2.19" font-size="3.80">84</tspan><tspan dy="-2.19">H</tspan><tspan dy="2.19" font-size="3.80">159</tspan><tspan dy="-2.19">O</tspan><tspan dy="2.19" font-size="3.80">6</tspan><tspan dy="-4.96" font-size="3.80">+</tspan></text>
<text x="606.2" y="472.6" font-size="7.30" fill="#686868" stroke="#686868" stroke-width="0.07" textLength="35.5" lengthAdjust="spacingAndGlyphs">1246.2026</text>
<text x="606.4" y="482.0" font-size="7.30" fill="#686868" stroke="#686868" stroke-width="0.07" textLength="34.7" lengthAdjust="spacingAndGlyphs"><tspan>C</tspan><tspan dy="2.19" font-size="3.80">84</tspan><tspan dy="-2.19">H</tspan><tspan dy="2.19" font-size="3.80">157</tspan><tspan dy="-2.19">O</tspan><tspan dy="2.19" font-size="3.80">5</tspan><tspan dy="-4.96" font-size="3.80">+</tspan></text>
<path d="M623.6 371.0V390.8" stroke="#111" stroke-width="1.05" stroke-dasharray="1.9 1.35" fill="none"/>
<path d="M623.6 401.3L620.7 389.8L623.6 393.0L626.5 389.8 z" fill="#111"/>
<text x="630.0" y="383.8" font-size="4.60" fill="#333" stroke="#333" stroke-width="0.07" textLength="10.6" lengthAdjust="spacingAndGlyphs"><tspan>-H</tspan><tspan dy="1.38" font-size="3.22">2</tspan><tspan dy="-1.38">O</tspan></text>
<path d="M623.6 432.0V452.0" stroke="#111" stroke-width="1.05" stroke-dasharray="1.9 1.35" fill="none"/>
<path d="M623.6 462.5L620.7 451.0L623.6 454.2L626.5 451.0 z" fill="#111"/>
<text x="630.0" y="446.4" font-size="4.60" fill="#333" stroke="#333" stroke-width="0.07" textLength="10.6" lengthAdjust="spacingAndGlyphs"><tspan>-H</tspan><tspan dy="1.38" font-size="3.22">2</tspan><tspan dy="-1.38">O</tspan></text>
<path d="M93.0 402.0L103.8 400.5L107.9 397.1L114.6 401.3L121.8 397.1L129.4 401.3L137.1 397.1L141.0 401.5L151.0 402.0" fill="none" stroke="#a9d6f5" stroke-width="6.6" stroke-linejoin="round" stroke-linecap="round"/>
<path d="M137.1 397.1L137.1 389.0" fill="none" stroke="#a9d6f5" stroke-width="6.6" stroke-linejoin="round" stroke-linecap="round"/>
<path d="M129.4 401.3L133.0 410.0" fill="none" stroke="#a9d6f5" stroke-width="6.6" stroke-linejoin="round" stroke-linecap="round"/>
<path d="M130.5 410.0L135.5 410.0" fill="none" stroke="#a9d6f5" stroke-width="6.6" stroke-linejoin="round" stroke-linecap="round"/>
<path d="M103.8 399.9L107.9 397.1L114.6 401.3L121.8 397.1L129.4 401.3L137.1 397.1L140.6 399.9" fill="none" stroke="#1a1a1a" stroke-width="0.70" stroke-linejoin="round" stroke-linecap="round"/>
<path d="M138.0 397.1L138.0 392.4" fill="none" stroke="#1a1a1a" stroke-width="0.70" stroke-linejoin="round" stroke-linecap="round"/><path d="M136.2 397.1L136.2 392.4" fill="none" stroke="#1a1a1a" stroke-width="0.70" stroke-linejoin="round" stroke-linecap="round"/>
<text x="137.1" y="391.6" font-size="6.80" fill="#1a1a1a" stroke="#1a1a1a" stroke-width="0.07" text-anchor="middle">O</text>
<text x="90.3" y="404.3" font-size="6.80" fill="#1a1a1a" stroke="#1a1a1a" stroke-width="0.07" textLength="12.7" lengthAdjust="spacingAndGlyphs"><tspan>H</tspan><tspan dy="2.04" font-size="4.22">2</tspan><tspan dy="-2.04">N</tspan></text>
<text x="141.3" y="404.3" font-size="6.80" fill="#1a1a1a" stroke="#1a1a1a" stroke-width="0.07" textLength="11.5" lengthAdjust="spacingAndGlyphs">OH</text>
<path d="M129.4 401.3L131.2 407.3L129.2 407.5z" fill="#111"/>
<text x="128.0" y="412.4" font-size="6.80" fill="#1a1a1a" stroke="#1a1a1a" stroke-width="0.07" textLength="9.8" lengthAdjust="spacingAndGlyphs">NH</text>
<path d="M129.2 413.2L125.3 417.9" fill="none" stroke="#1a1a1a" stroke-width="0.70" stroke-linejoin="round" stroke-linecap="round"/>
<path d="M120.8 419.2L125.3 419.2" fill="none" stroke="#1a1a1a" stroke-width="0.70" stroke-linejoin="round" stroke-linecap="round"/><path d="M120.8 417.1L125.3 417.1" fill="none" stroke="#1a1a1a" stroke-width="0.70" stroke-linejoin="round" stroke-linecap="round"/>
<text x="117.6" y="420.7" font-size="6.80" fill="#1a1a1a" stroke="#1a1a1a" stroke-width="0.07" text-anchor="middle">O</text>
<path d="M125.3 417.9L130.1 425.3L125.3 432.7L130.1 440.0L125.3 447.4L130.1 454.8L125.3 462.2L130.1 469.6L125.3 476.9L130.1 484.3L125.3 491.7L130.1 499.1L125.3 506.5L130.1 513.8L125.3 521.2L130.1 528.6L125.3 536.0L130.1 543.4L125.3 550.7L130.1 558.1L125.3 565.5L130.1 572.9" fill="none" stroke="#1a1a1a" stroke-width="0.70" stroke-linejoin="round" stroke-linecap="round"/>
<text x="117.6" y="435.6" font-size="6.80" fill="#1a1a1a" stroke="#1a1a1a" stroke-width="0.07" text-anchor="middle">O</text>
<path d="M120.6 432.9L125.3 432.7" fill="none" stroke="#1a1a1a" stroke-width="0.70" stroke-linejoin="round" stroke-linecap="round"/>
<path d="M115.8 436.0L112.8 440.1" fill="none" stroke="#1a1a1a" stroke-width="0.70" stroke-linejoin="round" stroke-linecap="round"/>
<path d="M107.6 441.4L112.8 441.4" fill="none" stroke="#1a1a1a" stroke-width="0.70" stroke-linejoin="round" stroke-linecap="round"/><path d="M107.6 439.3L112.8 439.3" fill="none" stroke="#1a1a1a" stroke-width="0.70" stroke-linejoin="round" stroke-linecap="round"/>
<text x="104.4" y="443.0" font-size="6.80" fill="#1a1a1a" stroke="#1a1a1a" stroke-width="0.07" text-anchor="middle">O</text>
<path d="M112.8 440.1L116.4 447.5L112.8 454.8L116.4 462.2L112.8 469.5L116.4 476.9L112.8 484.2L116.4 491.6L112.8 498.9L116.4 506.2L112.8 513.6L116.4 521.0L112.8 528.3L116.4 535.6L112.8 543.0L116.4 550.4L112.8 557.7L116.4 565.0" fill="none" stroke="#1a1a1a" stroke-width="0.70" stroke-linejoin="round" stroke-linecap="round"/>
<path d="M111.3 528.9L114.9 536.2" fill="none" stroke="#1a1a1a" stroke-width="0.70" stroke-linejoin="round" stroke-linecap="round"/>
<text x="125.3" y="382.5" font-size="7.20" fill="#1a1a1a" stroke="#1a1a1a" stroke-width="0.07"><tspan>H</tspan><tspan dy="-3.24" font-size="5.76">+</tspan></text>
<path d="M122.9 415.3L141.9 415.4Q148.8 415.4 155.4 407.8" fill="none" stroke="#111" stroke-width="1.05" stroke-dasharray="1.8 1.4"/>
<path d="M163.2 403.4L155.4 410.8L156.7 407.0L152.8 406.1 z" fill="#111"/>
<path d="M179.4 359.3L185.8 355.1L196.0 360.3L196.0 371.5L186.5 377.4L176.6 372.0L176.6 363.2" fill="none" stroke="#1a1a1a" stroke-width="0.85" stroke-linejoin="round" stroke-linecap="round"/>
<path d="M186.7 355.1L186.7 348.6" fill="none" stroke="#1a1a1a" stroke-width="0.70" stroke-linejoin="round" stroke-linecap="round"/><path d="M184.9 355.1L184.9 348.6" fill="none" stroke="#1a1a1a" stroke-width="0.70" stroke-linejoin="round" stroke-linecap="round"/>
<path d="M196.0 360.3L202.5 356.4" fill="none" stroke="#1a1a1a" stroke-width="0.85" stroke-linejoin="round" stroke-linecap="round"/>
<text x="185.8" y="347.4" font-size="7.30" fill="#111" stroke="#111" stroke-width="0.00" text-anchor="middle" font-weight="bold">O</text>
<text x="162.2" y="363.4" font-size="7.30" fill="#111" stroke="#111" stroke-width="0.00" font-weight="bold" textLength="18.6" lengthAdjust="spacingAndGlyphs"><tspan dy="-3.29" font-size="5.47">+</tspan><tspan dy="3.29">H</tspan><tspan dy="2.19" font-size="5.47">2</tspan><tspan dy="-2.19">N</tspan></text>
<text x="201.7" y="358.4" font-size="7.30" fill="#111" stroke="#111" stroke-width="0.00" font-weight="bold" textLength="14.6" lengthAdjust="spacingAndGlyphs"><tspan>NH</tspan><tspan dy="2.19" font-size="5.47">2</tspan></text>
<path d="M255.7 397.2L264.0 398.8L272.5 397.0L277.9 405.3L267.5 402.5L258.5 404.6L255.7 397.2" fill="none" stroke="#f8cef5" stroke-width="6.0" stroke-linejoin="round" stroke-linecap="round"/>
<path d="M255.7 397.2L264.0 398.8L274.2 396.7L277.9 405.3L267.5 402.5L258.5 404.6z" fill="#f8cef5"/>
<path d="M264.0 398.8L264.0 390.0L259.0 385.6L251.5 385.6" fill="none" stroke="#f8cef5" stroke-width="7.2" stroke-linejoin="round" stroke-linecap="round"/>
<path d="M264.0 390.0L271.3 385.4" fill="none" stroke="#f8cef5" stroke-width="7.2" stroke-linejoin="round" stroke-linecap="round"/>
<path d="M255.7 397.2L249.0 394.8L242.0 394.8" fill="none" stroke="#f8cef5" stroke-width="7.2" stroke-linejoin="round" stroke-linecap="round"/>
<path d="M258.5 404.6L253.0 407.2L246.0 407.2" fill="none" stroke="#f8cef5" stroke-width="7.2" stroke-linejoin="round" stroke-linecap="round"/>
<path d="M267.5 402.5L268.5 408.3L275.0 408.3" fill="none" stroke="#f8cef5" stroke-width="7.2" stroke-linejoin="round" stroke-linecap="round"/>
<path d="M277.9 405.3L280.3 412.9" fill="none" stroke="#f8cef5" stroke-width="7.2" stroke-linejoin="round" stroke-linecap="round"/>
<path d="M273.5 396.6L275.0 396.8" fill="none" stroke="#f8cef5" stroke-width="7.2" stroke-linejoin="round" stroke-linecap="round"/>
<path d="M271.4 397.3L264.0 398.8L255.7 397.2L258.5 404.6L267.5 402.5L277.9 405.3L275.9 399.2" fill="none" stroke="#1a1a1a" stroke-width="0.70" stroke-linejoin="round" stroke-linecap="round"/>
<path d="M264.0 398.8L264.0 390.0L260.2 387.3" fill="none" stroke="#1a1a1a" stroke-width="0.70" stroke-linejoin="round" stroke-linecap="round"/>
<path d="M264.4 390.7L269.0 387.6" fill="none" stroke="#1a1a1a" stroke-width="0.70" stroke-linejoin="round" stroke-linecap="round"/><path d="M263.6 389.3L268.2 386.2" fill="none" stroke="#1a1a1a" stroke-width="0.70" stroke-linejoin="round" stroke-linecap="round"/>
<text x="249.4" y="387.9" font-size="6.80" fill="#1a1a1a" stroke="#1a1a1a" stroke-width="0.07" textLength="10.5" lengthAdjust="spacingAndGlyphs">HO</text>
<text x="271.2" y="388.0" font-size="6.80" fill="#1a1a1a" stroke="#1a1a1a" stroke-width="0.07" text-anchor="middle">O</text>
<text x="274.2" y="399.1" font-size="6.80" fill="#1a1a1a" stroke="#1a1a1a" stroke-width="0.07" text-anchor="middle">O</text>
<text x="239.7" y="397.2" font-size="6.80" fill="#1a1a1a" stroke="#1a1a1a" stroke-width="0.07" textLength="10.9" lengthAdjust="spacingAndGlyphs">HO</text>
<path d="M255.7 397.2L251.0 395.6" fill="none" stroke="#1a1a1a" stroke-width="0.70" stroke-linejoin="round" stroke-linecap="round"/>
<text x="243.9" y="409.7" font-size="6.80" fill="#1a1a1a" stroke="#1a1a1a" stroke-width="0.07" textLength="11.1" lengthAdjust="spacingAndGlyphs">HO</text>
<path d="M258.5 404.6L255.3 406.6" fill="none" stroke="#1a1a1a" stroke-width="0.70" stroke-linejoin="round" stroke-linecap="round"/>
<text x="266.4" y="410.8" font-size="6.80" fill="#1a1a1a" stroke="#1a1a1a" stroke-width="0.07" textLength="10.8" lengthAdjust="spacingAndGlyphs">OH</text>
<path d="M267.5 402.5L269.3 405.0" fill="none" stroke="#1a1a1a" stroke-width="0.70" stroke-linejoin="round" stroke-linecap="round"/>
<text x="280.3" y="415.3" font-size="6.80" fill="#1a1a1a" stroke="#1a1a1a" stroke-width="0.07" text-anchor="middle">O</text>
<path d="M277.9 405.3L279.4 410.0" fill="none" stroke="#1a1a1a" stroke-width="0.70" stroke-linejoin="round" stroke-linecap="round"/>
<path d="M278.6 415.9L276.4 419.2L280.7 430.0L276.8 437.8L276.8 441.6L279.4 445.4" fill="none" stroke="#1a1a1a" stroke-width="0.70" stroke-linejoin="round" stroke-linecap="round"/>
<text x="281.5" y="450.1" font-size="6.80" fill="#1a1a1a" stroke="#1a1a1a" stroke-width="0.07" text-anchor="middle">O</text>
<path d="M282.0 430.2L288.6 429.8" stroke="#222" stroke-width="1.6" stroke-dasharray="0.6 0.7" fill="none"/>
<text x="291.1" y="432.0" font-size="6.80" fill="#1a1a1a" stroke="#1a1a1a" stroke-width="0.07" text-anchor="middle">O</text>
<path d="M292.9 431.7L296.0 436.5" fill="none" stroke="#1a1a1a" stroke-width="0.70" stroke-linejoin="round" stroke-linecap="round"/>
<path d="M297.4 437.3L301.0 437.3" fill="none" stroke="#1a1a1a" stroke-width="0.70" stroke-linejoin="round" stroke-linecap="round"/><path d="M297.4 435.4L301.0 435.4" fill="none" stroke="#1a1a1a" stroke-width="0.70" stroke-linejoin="round" stroke-linecap="round"/>
<text x="303.7" y="438.6" font-size="6.80" fill="#1a1a1a" stroke="#1a1a1a" stroke-width="0.07" text-anchor="middle">O</text>
<path d="M296.1 436.5L291.7 443.5L296.1 450.6L291.7 457.6L296.1 464.6L291.7 471.6L296.1 478.7L291.7 485.7L296.1 492.7L291.7 499.8L296.1 506.8L291.7 513.8L296.1 520.9L291.7 527.9L296.1 534.9L291.7 542.0" fill="none" stroke="#1a1a1a" stroke-width="0.70" stroke-linejoin="round" stroke-linecap="round"/>
<path d="M280.2 450.0L277.0 454.4" fill="none" stroke="#1a1a1a" stroke-width="0.70" stroke-linejoin="round" stroke-linecap="round"/>
<path d="M272.0 455.4L276.2 455.4" fill="none" stroke="#1a1a1a" stroke-width="0.70" stroke-linejoin="round" stroke-linecap="round"/><path d="M272.0 453.6L276.2 453.6" fill="none" stroke="#1a1a1a" stroke-width="0.70" stroke-linejoin="round" stroke-linecap="round"/>
<text x="269.5" y="456.9" font-size="6.80" fill="#1a1a1a" stroke="#1a1a1a" stroke-width="0.07" text-anchor="middle">O</text>
<path d="M277.0 454.4L281.9 461.3L277.0 468.3L281.9 475.2L277.0 482.2L281.9 489.1L277.0 496.1L281.9 503.0L277.0 510.0L281.9 516.9L277.0 523.9L281.9 530.9L277.0 537.8L281.9 544.8L277.0 551.7L281.9 558.6L277.0 565.6L281.9 572.5" fill="none" stroke="#1a1a1a" stroke-width="0.70" stroke-linejoin="round" stroke-linecap="round"/>
<path d="M281.9 516.9L289.6 516.9" fill="none" stroke="#1a1a1a" stroke-width="0.70" stroke-linejoin="round" stroke-linecap="round"/>
<path d="M281.0 418.8L267.6 418.8" fill="none" stroke="#111" stroke-width="1.5" stroke-dasharray="0.7 0.75"/>
<path d="M267.6 418.8L255.4 429.9" fill="none" stroke="#111" stroke-width="1.05" stroke-dasharray="1.8 1.4"/>
<path d="M249.6 434.9L254.4 426.8L254.4 430.5L258.1 430.8 z" fill="#111"/>
<text x="258.9" y="375.6" font-size="7.00" fill="#1a1a1a" stroke="#1a1a1a" stroke-width="0.07" textLength="16.5" lengthAdjust="spacingAndGlyphs"><tspan>NH</tspan><tspan dy="2.10" font-size="5.60">4</tspan><tspan dy="-5.04" font-size="5.60">+</tspan></text>
<path d="M388.7 397.2L397.0 398.8L405.5 397.0L410.9 405.3L400.5 402.5L391.5 404.6L388.7 397.2" fill="none" stroke="#f9d0bf" stroke-width="6.0" stroke-linejoin="round" stroke-linecap="round"/>
<path d="M388.7 397.2L397.0 398.8L407.2 396.7L410.9 405.3L400.5 402.5L391.5 404.6z" fill="#f9d0bf"/>
<path d="M397.0 398.8L397.0 390.0L392.0 385.6L384.5 385.6" fill="none" stroke="#f9d0bf" stroke-width="7.2" stroke-linejoin="round" stroke-linecap="round"/>
<path d="M397.0 390.0L404.3 385.4" fill="none" stroke="#f9d0bf" stroke-width="7.2" stroke-linejoin="round" stroke-linecap="round"/>
<path d="M388.7 397.2L382.0 394.8L371.0 394.8" fill="none" stroke="#f9d0bf" stroke-width="7.2" stroke-linejoin="round" stroke-linecap="round"/>
<path d="M391.5 404.6L386.0 407.2L379.0 407.2" fill="none" stroke="#f9d0bf" stroke-width="7.2" stroke-linejoin="round" stroke-linecap="round"/>
<path d="M400.5 402.5L401.5 408.3L408.0 408.3" fill="none" stroke="#f9d0bf" stroke-width="7.2" stroke-linejoin="round" stroke-linecap="round"/>
<path d="M410.9 405.3L413.3 412.9" fill="none" stroke="#f9d0bf" stroke-width="7.2" stroke-linejoin="round" stroke-linecap="round"/>
<path d="M406.5 396.6L408.0 396.8" fill="none" stroke="#f9d0bf" stroke-width="7.2" stroke-linejoin="round" stroke-linecap="round"/>
<path d="M404.4 397.3L397.0 398.8L388.7 397.2L391.5 404.6L400.5 402.5L410.9 405.3L408.9 399.2" fill="none" stroke="#1a1a1a" stroke-width="0.70" stroke-linejoin="round" stroke-linecap="round"/>
<path d="M397.0 398.8L397.0 390.0L393.2 387.3" fill="none" stroke="#1a1a1a" stroke-width="0.70" stroke-linejoin="round" stroke-linecap="round"/>
<path d="M397.4 390.7L402.0 387.6" fill="none" stroke="#1a1a1a" stroke-width="0.70" stroke-linejoin="round" stroke-linecap="round"/><path d="M396.6 389.3L401.2 386.2" fill="none" stroke="#1a1a1a" stroke-width="0.70" stroke-linejoin="round" stroke-linecap="round"/>
<text x="382.4" y="387.9" font-size="6.80" fill="#1a1a1a" stroke="#1a1a1a" stroke-width="0.07" textLength="10.5" lengthAdjust="spacingAndGlyphs">HO</text>
<text x="404.2" y="388.0" font-size="6.80" fill="#1a1a1a" stroke="#1a1a1a" stroke-width="0.07" text-anchor="middle">O</text>
<text x="407.2" y="399.1" font-size="6.80" fill="#1a1a1a" stroke="#1a1a1a" stroke-width="0.07" text-anchor="middle">O</text>
<text x="380.9" y="397.2" font-size="6.80" fill="#1a1a1a" stroke="#1a1a1a" stroke-width="0.07" text-anchor="middle">O</text>
<path d="M371.3 394.8L377.8 394.8" fill="none" stroke="#1a1a1a" stroke-width="0.70" stroke-linejoin="round" stroke-linecap="round"/>
<path d="M388.7 397.2L384.0 395.6" fill="none" stroke="#1a1a1a" stroke-width="0.70" stroke-linejoin="round" stroke-linecap="round"/>
<text x="376.9" y="409.7" font-size="6.80" fill="#1a1a1a" stroke="#1a1a1a" stroke-width="0.07" textLength="11.1" lengthAdjust="spacingAndGlyphs">HO</text>
<path d="M391.5 404.6L388.3 406.6" fill="none" stroke="#1a1a1a" stroke-width="0.70" stroke-linejoin="round" stroke-linecap="round"/>
<text x="399.4" y="410.8" font-size="6.80" fill="#1a1a1a" stroke="#1a1a1a" stroke-width="0.07" textLength="10.8" lengthAdjust="spacingAndGlyphs">OH</text>
<path d="M400.5 402.5L402.3 405.0" fill="none" stroke="#1a1a1a" stroke-width="0.70" stroke-linejoin="round" stroke-linecap="round"/>
<text x="413.3" y="415.3" font-size="6.80" fill="#1a1a1a" stroke="#1a1a1a" stroke-width="0.07" text-anchor="middle">O</text>
<path d="M410.9 405.3L412.4 410.0" fill="none" stroke="#1a1a1a" stroke-width="0.70" stroke-linejoin="round" stroke-linecap="round"/>
<path d="M411.6 415.9L409.4 419.2L413.7 430.0L409.8 437.8L409.8 441.6L412.4 445.4" fill="none" stroke="#1a1a1a" stroke-width="0.70" stroke-linejoin="round" stroke-linecap="round"/>
<text x="414.5" y="450.1" font-size="6.80" fill="#1a1a1a" stroke="#1a1a1a" stroke-width="0.07" text-anchor="middle">O</text>
<path d="M415.0 430.2L421.6 429.8" stroke="#222" stroke-width="1.6" stroke-dasharray="0.6 0.7" fill="none"/>
<text x="424.1" y="432.0" font-size="6.80" fill="#1a1a1a" stroke="#1a1a1a" stroke-width="0.07" text-anchor="middle">O</text>
<path d="M425.9 431.7L429.0 436.5" fill="none" stroke="#1a1a1a" stroke-width="0.70" stroke-linejoin="round" stroke-linecap="round"/>
<path d="M430.4 437.3L434.0 437.3" fill="none" stroke="#1a1a1a" stroke-width="0.70" stroke-linejoin="round" stroke-linecap="round"/><path d="M430.4 435.4L434.0 435.4" fill="none" stroke="#1a1a1a" stroke-width="0.70" stroke-linejoin="round" stroke-linecap="round"/>
<text x="436.7" y="438.6" font-size="6.80" fill="#1a1a1a" stroke="#1a1a1a" stroke-width="0.07" text-anchor="middle">O</text>
<path d="M429.1 436.5L424.7 443.5L429.1 450.6L424.7 457.6L429.1 464.6L424.7 471.6L429.1 478.7L424.7 485.7L429.1 492.7L424.7 499.8L429.1 506.8L424.7 513.8L429.1 520.9L424.7 527.9L429.1 534.9L424.7 542.0" fill="none" stroke="#1a1a1a" stroke-width="0.70" stroke-linejoin="round" stroke-linecap="round"/>
<path d="M413.2 450.0L410.0 454.4" fill="none" stroke="#1a1a1a" stroke-width="0.70" stroke-linejoin="round" stroke-linecap="round"/>
<path d="M405.0 455.4L409.2 455.4" fill="none" stroke="#1a1a1a" stroke-width="0.70" stroke-linejoin="round" stroke-linecap="round"/><path d="M405.0 453.6L409.2 453.6" fill="none" stroke="#1a1a1a" stroke-width="0.70" stroke-linejoin="round" stroke-linecap="round"/>
<text x="402.5" y="456.9" font-size="6.80" fill="#1a1a1a" stroke="#1a1a1a" stroke-width="0.07" text-anchor="middle">O</text>
<path d="M410.0 454.4L414.9 461.3L410.0 468.3L414.9 475.2L410.0 482.2L414.9 489.1L410.0 496.1L414.9 503.0L410.0 510.0L414.9 516.9L410.0 523.9L414.9 530.9L410.0 537.8L414.9 544.8L410.0 551.7L414.9 558.6L410.0 565.6L414.9 572.5" fill="none" stroke="#1a1a1a" stroke-width="0.70" stroke-linejoin="round" stroke-linecap="round"/>
<path d="M414.9 516.9L422.6 516.9" fill="none" stroke="#1a1a1a" stroke-width="0.70" stroke-linejoin="round" stroke-linecap="round"/>
<path d="M414.0 418.8L400.6 418.8" fill="none" stroke="#111" stroke-width="1.5" stroke-dasharray="0.7 0.75"/>
<path d="M400.6 418.8L388.4 429.9" fill="none" stroke="#111" stroke-width="1.05" stroke-dasharray="1.8 1.4"/>
<path d="M382.6 434.9L387.4 426.8L387.4 430.5L391.1 430.8 z" fill="#111"/>
<text x="390.3" y="375.6" font-size="7.00" fill="#1a1a1a" stroke="#1a1a1a" stroke-width="0.07" textLength="16.5" lengthAdjust="spacingAndGlyphs"><tspan>NH</tspan><tspan dy="2.10" font-size="5.60">4</tspan><tspan dy="-5.04" font-size="5.60">+</tspan></text>
<path d="M541.9 355.9L550.4 357.6L561.6 356.9L557.4 364.3L553.5 361.2L545.0 363.0z" fill="#a9f4a5" stroke="#a9f4a5" stroke-width="6" stroke-linejoin="round"/>
<path d="M550.4 357.6L557.2 350.6L572.0 351.0" fill="none" stroke="#a9f4a5" stroke-width="6.5" stroke-linejoin="round" stroke-linecap="round"/>
<path d="M541.9 355.9L530.0 357.8" fill="none" stroke="#a9f4a5" stroke-width="6.5" stroke-linejoin="round" stroke-linecap="round"/>
<path d="M545.0 363.0L526.0 363.6" fill="none" stroke="#a9f4a5" stroke-width="6.5" stroke-linejoin="round" stroke-linecap="round"/>
<path d="M545.0 363.0L538.0 368.3" fill="none" stroke="#a9f4a5" stroke-width="6.5" stroke-linejoin="round" stroke-linecap="round"/>
<path d="M557.4 364.3L556.9 373.6L556.9 381.6" fill="none" stroke="#a9f4a5" stroke-width="6.5" stroke-linejoin="round" stroke-linecap="round"/>
<path d="M556.9 381.6L567.0 385.6L576.2 383.0L578.0 389.6L569.6 392.4L559.6 389.6L552.0 391.6z" fill="#a9f4a5" stroke="#a9f4a5" stroke-width="6" stroke-linejoin="round"/>
<path d="M576.2 383.0L575.5 380.2" fill="none" stroke="#a9f4a5" stroke-width="6.5" stroke-linejoin="round" stroke-linecap="round"/>
<path d="M573.0 380.4L579.0 380.4" fill="none" stroke="#a9f4a5" stroke-width="6.5" stroke-linejoin="round" stroke-linecap="round"/>
<path d="M578.0 389.6L590.0 384.8" fill="none" stroke="#a9f4a5" stroke-width="6.5" stroke-linejoin="round" stroke-linecap="round"/>
<path d="M569.6 392.4L586.0 390.8" fill="none" stroke="#a9f4a5" stroke-width="6.5" stroke-linejoin="round" stroke-linecap="round"/>
<path d="M559.6 389.6L556.6 397.0L556.4 403.8" fill="none" stroke="#a9f4a5" stroke-width="6.5" stroke-linejoin="round" stroke-linecap="round"/>
<path d="M566.0 351.2L573.5 351.2" fill="none" stroke="#a9f4a5" stroke-width="7.0" stroke-linejoin="round" stroke-linecap="round"/>
<path d="M528.5 357.7L535.0 357.7" fill="none" stroke="#a9f4a5" stroke-width="7.0" stroke-linejoin="round" stroke-linecap="round"/>
<path d="M523.8 363.2L530.3 363.2" fill="none" stroke="#a9f4a5" stroke-width="7.0" stroke-linejoin="round" stroke-linecap="round"/>
<path d="M535.5 367.9L542.8 367.9" fill="none" stroke="#a9f4a5" stroke-width="7.0" stroke-linejoin="round" stroke-linecap="round"/>
<path d="M572.3 379.9L578.8 379.9" fill="none" stroke="#a9f4a5" stroke-width="7.0" stroke-linejoin="round" stroke-linecap="round"/>
<path d="M584.3 384.3L591.0 384.3" fill="none" stroke="#a9f4a5" stroke-width="7.0" stroke-linejoin="round" stroke-linecap="round"/>
<path d="M580.8 390.2L587.3 390.2" fill="none" stroke="#a9f4a5" stroke-width="7.0" stroke-linejoin="round" stroke-linecap="round"/>
<path d="M561.2 356.9L562.0 356.9" fill="none" stroke="#a9f4a5" stroke-width="7.4" stroke-linejoin="round" stroke-linecap="round"/>
<path d="M556.5 373.6L557.3 373.6" fill="none" stroke="#a9f4a5" stroke-width="7.4" stroke-linejoin="round" stroke-linecap="round"/>
<path d="M551.6 391.6L552.4 391.6" fill="none" stroke="#a9f4a5" stroke-width="7.4" stroke-linejoin="round" stroke-linecap="round"/>
<path d="M556.0 403.8L556.8 403.8" fill="none" stroke="#a9f4a5" stroke-width="7.4" stroke-linejoin="round" stroke-linecap="round"/>
<path d="M559.1 357.6L550.4 357.6L541.9 355.9L545.0 363.0L553.5 361.2L557.4 364.3L560.6 359.4" fill="none" stroke="#1a1a1a" stroke-width="0.70" stroke-linejoin="round" stroke-linecap="round"/>
<path d="M550.4 357.6L557.2 350.6L564.2 350.6" fill="none" stroke="#1a1a1a" stroke-width="0.70" stroke-linejoin="round" stroke-linecap="round"/>
<text x="564.7" y="353.8" font-size="6.80" fill="#1a1a1a" stroke="#1a1a1a" stroke-width="0.07" textLength="10.5" lengthAdjust="spacingAndGlyphs">OH</text>
<text x="561.6" y="359.3" font-size="6.80" fill="#1a1a1a" stroke="#1a1a1a" stroke-width="0.07" text-anchor="middle">O</text>
<text x="526.7" y="360.3" font-size="6.80" fill="#1a1a1a" stroke="#1a1a1a" stroke-width="0.07" textLength="10.2" lengthAdjust="spacingAndGlyphs">HO</text>
<path d="M541.9 355.9L537.2 357.6" fill="none" stroke="#1a1a1a" stroke-width="0.70" stroke-linejoin="round" stroke-linecap="round"/>
<text x="522.0" y="365.8" font-size="6.80" fill="#1a1a1a" stroke="#1a1a1a" stroke-width="0.07" textLength="10.2" lengthAdjust="spacingAndGlyphs">HO</text>
<path d="M545.0 363.0L532.5 363.4" fill="none" stroke="#1a1a1a" stroke-width="0.70" stroke-linejoin="round" stroke-linecap="round"/>
<text x="533.8" y="370.5" font-size="6.80" fill="#1a1a1a" stroke="#1a1a1a" stroke-width="0.07" textLength="10.9" lengthAdjust="spacingAndGlyphs">HO</text>
<path d="M553.5 361.2L550.0 365.6" fill="none" stroke="#1a1a1a" stroke-width="0.70" stroke-linejoin="round" stroke-linecap="round"/>
<path d="M557.4 364.3L557.0 370.6" fill="none" stroke="#1a1a1a" stroke-width="0.70" stroke-linejoin="round" stroke-linecap="round"/>
<text x="556.9" y="376.0" font-size="6.80" fill="#1a1a1a" stroke="#1a1a1a" stroke-width="0.07" text-anchor="middle">O</text>
<path d="M556.9 376.6L556.9 381.6" fill="none" stroke="#1a1a1a" stroke-width="0.70" stroke-linejoin="round" stroke-linecap="round"/>
<path d="M556.9 381.6L567.0 385.6L576.2 383.0L578.0 389.6L569.6 392.4L559.6 389.6L554.4 390.6" fill="none" stroke="#1a1a1a" stroke-width="0.70" stroke-linejoin="round" stroke-linecap="round"/>
<path d="M553.6 388.6L556.9 381.6" fill="none" stroke="#1a1a1a" stroke-width="0.70" stroke-linejoin="round" stroke-linecap="round"/>
<text x="570.5" y="382.5" font-size="6.80" fill="#1a1a1a" stroke="#1a1a1a" stroke-width="0.07" textLength="10.1" lengthAdjust="spacingAndGlyphs">OH</text>
<text x="582.5" y="386.9" font-size="6.80" fill="#1a1a1a" stroke="#1a1a1a" stroke-width="0.07" textLength="10.3" lengthAdjust="spacingAndGlyphs">OH</text>
<path d="M578.0 389.6L582.2 386.0" fill="none" stroke="#1a1a1a" stroke-width="0.70" stroke-linejoin="round" stroke-linecap="round"/>
<text x="579.0" y="392.8" font-size="6.80" fill="#1a1a1a" stroke="#1a1a1a" stroke-width="0.07" textLength="10.2" lengthAdjust="spacingAndGlyphs">OH</text>
<path d="M569.6 392.4L578.5 391.2" fill="none" stroke="#1a1a1a" stroke-width="0.70" stroke-linejoin="round" stroke-linecap="round"/>
<text x="552.0" y="394.0" font-size="6.80" fill="#1a1a1a" stroke="#1a1a1a" stroke-width="0.07" text-anchor="middle">O</text>
<path d="M559.6 389.6L556.6 396.6L556.5 400.8" fill="none" stroke="#1a1a1a" stroke-width="0.70" stroke-linejoin="round" stroke-linecap="round"/>
<text x="556.4" y="406.2" font-size="6.80" fill="#1a1a1a" stroke="#1a1a1a" stroke-width="0.07" text-anchor="middle">O</text>
<path d="M556.3 406.8L552.5 415.0L543.1 415.0L539.2 407.2L530.6 407.2L525.9 414.2" fill="none" stroke="#1a1a1a" stroke-width="0.70" stroke-linejoin="round" stroke-linecap="round"/>
<path d="M551.8 415.5L555.3 420.5" fill="none" stroke="#1a1a1a" stroke-width="0.70" stroke-linejoin="round" stroke-linecap="round"/><path d="M553.2 414.5L556.7 419.5" fill="none" stroke="#1a1a1a" stroke-width="0.70" stroke-linejoin="round" stroke-linecap="round"/>
<text x="557.5" y="425.1" font-size="6.80" fill="#1a1a1a" stroke="#1a1a1a" stroke-width="0.07" text-anchor="middle">O</text>
<path d="M539.2 407.2L543.3 402.2" fill="none" stroke="#1a1a1a" stroke-width="0.70" stroke-linejoin="round" stroke-linecap="round"/>
<text x="541.2" y="401.7" font-size="6.80" fill="#1a1a1a" stroke="#1a1a1a" stroke-width="0.07" textLength="10.4" lengthAdjust="spacingAndGlyphs">OH</text>
<path d="M543.1 415.0L539.2 421.6L543.6 428.1L539.2 434.6L543.6 441.2L539.2 447.8L543.6 454.3L539.2 460.9L543.6 467.4L539.2 473.9L543.6 480.5L539.2 487.1L543.6 493.6L539.2 500.1L543.6 506.7L539.2 513.2L543.6 519.8L539.2 526.4L543.6 532.9L539.2 539.5L543.6 546.0L539.2 552.5L543.6 559.1L539.2 565.6" fill="none" stroke="#1a1a1a" stroke-width="0.70" stroke-linejoin="round" stroke-linecap="round"/>
<path d="M525.9 414.2L529.6 420.8L525.2 427.5L529.6 434.1L525.2 440.7L529.6 447.3L525.2 454.0L529.6 460.6L525.2 467.2L529.6 473.9L525.2 480.5L529.6 487.1L525.2 493.8L529.6 500.4L525.2 507.0L529.6 513.6L525.2 520.3L529.6 526.9L525.2 533.5L529.6 540.2L525.2 546.8L529.6 553.4L525.2 560.1L529.6 566.7L525.2 572.2L516.2 572.2L512.0 566.7" fill="none" stroke="#1a1a1a" stroke-width="0.70" stroke-linejoin="round" stroke-linecap="round"/>
<path d="M512.0 566.7L516.4 560.8L512.0 554.9L516.4 549.0L512.0 543.1L516.4 537.2L512.0 531.3L515.1 525.4" fill="none" stroke="#1a1a1a" stroke-width="0.70" stroke-linejoin="round" stroke-linecap="round"/>
<path d="M515.1 525.4L506.8 521.4L515.1 517.1L515.1 525.4" fill="none" stroke="#1a1a1a" stroke-width="0.70" stroke-linejoin="round" stroke-linecap="round"/>
<path d="M515.1 517.1L512.0 510.3L516.4 503.5L512.0 496.7L516.4 490.0L512.0 483.2L516.4 476.4L512.0 469.6L516.4 462.8L512.0 456.0L516.4 449.2L512.0 442.4L516.4 435.7L512.0 428.9L516.4 422.1L512.0 415.3" fill="none" stroke="#1a1a1a" stroke-width="0.70" stroke-linejoin="round" stroke-linecap="round"/>
<path d="M512.0 415.3L507.7 407.6L503.6 415.3L512.0 415.3" fill="none" stroke="#1a1a1a" stroke-width="0.70" stroke-linejoin="round" stroke-linecap="round"/>
<path d="M503.6 415.3L498.8 421.8L503.4 428.3L498.8 434.8L503.4 441.3L498.8 447.8L503.4 454.3L498.8 460.8L503.4 467.3L498.8 473.8L503.4 480.3L498.8 486.8L503.4 493.3" fill="none" stroke="#1a1a1a" stroke-width="0.70" stroke-linejoin="round" stroke-linecap="round"/>
<text x="571.6" y="412.9" font-size="7.00" fill="#1a1a1a" stroke="#1a1a1a" stroke-width="0.07" textLength="15.5" lengthAdjust="spacingAndGlyphs"><tspan>NH</tspan><tspan dy="2.10" font-size="5.60">4</tspan><tspan dy="-5.04" font-size="5.60">+</tspan></text>
<path d="M556.0 382.6C560 376 566 369.6 573 367.8C579 366.6 586 366.8 591 366.6" fill="none" stroke="#111" stroke-width="0.95" stroke-dasharray="1.7 1.3"/>
<path d="M601.8 366.3L590.4 369.7L593.5 366.5L590.2 363.5 z" fill="#111"/>
</svg></body></html>
